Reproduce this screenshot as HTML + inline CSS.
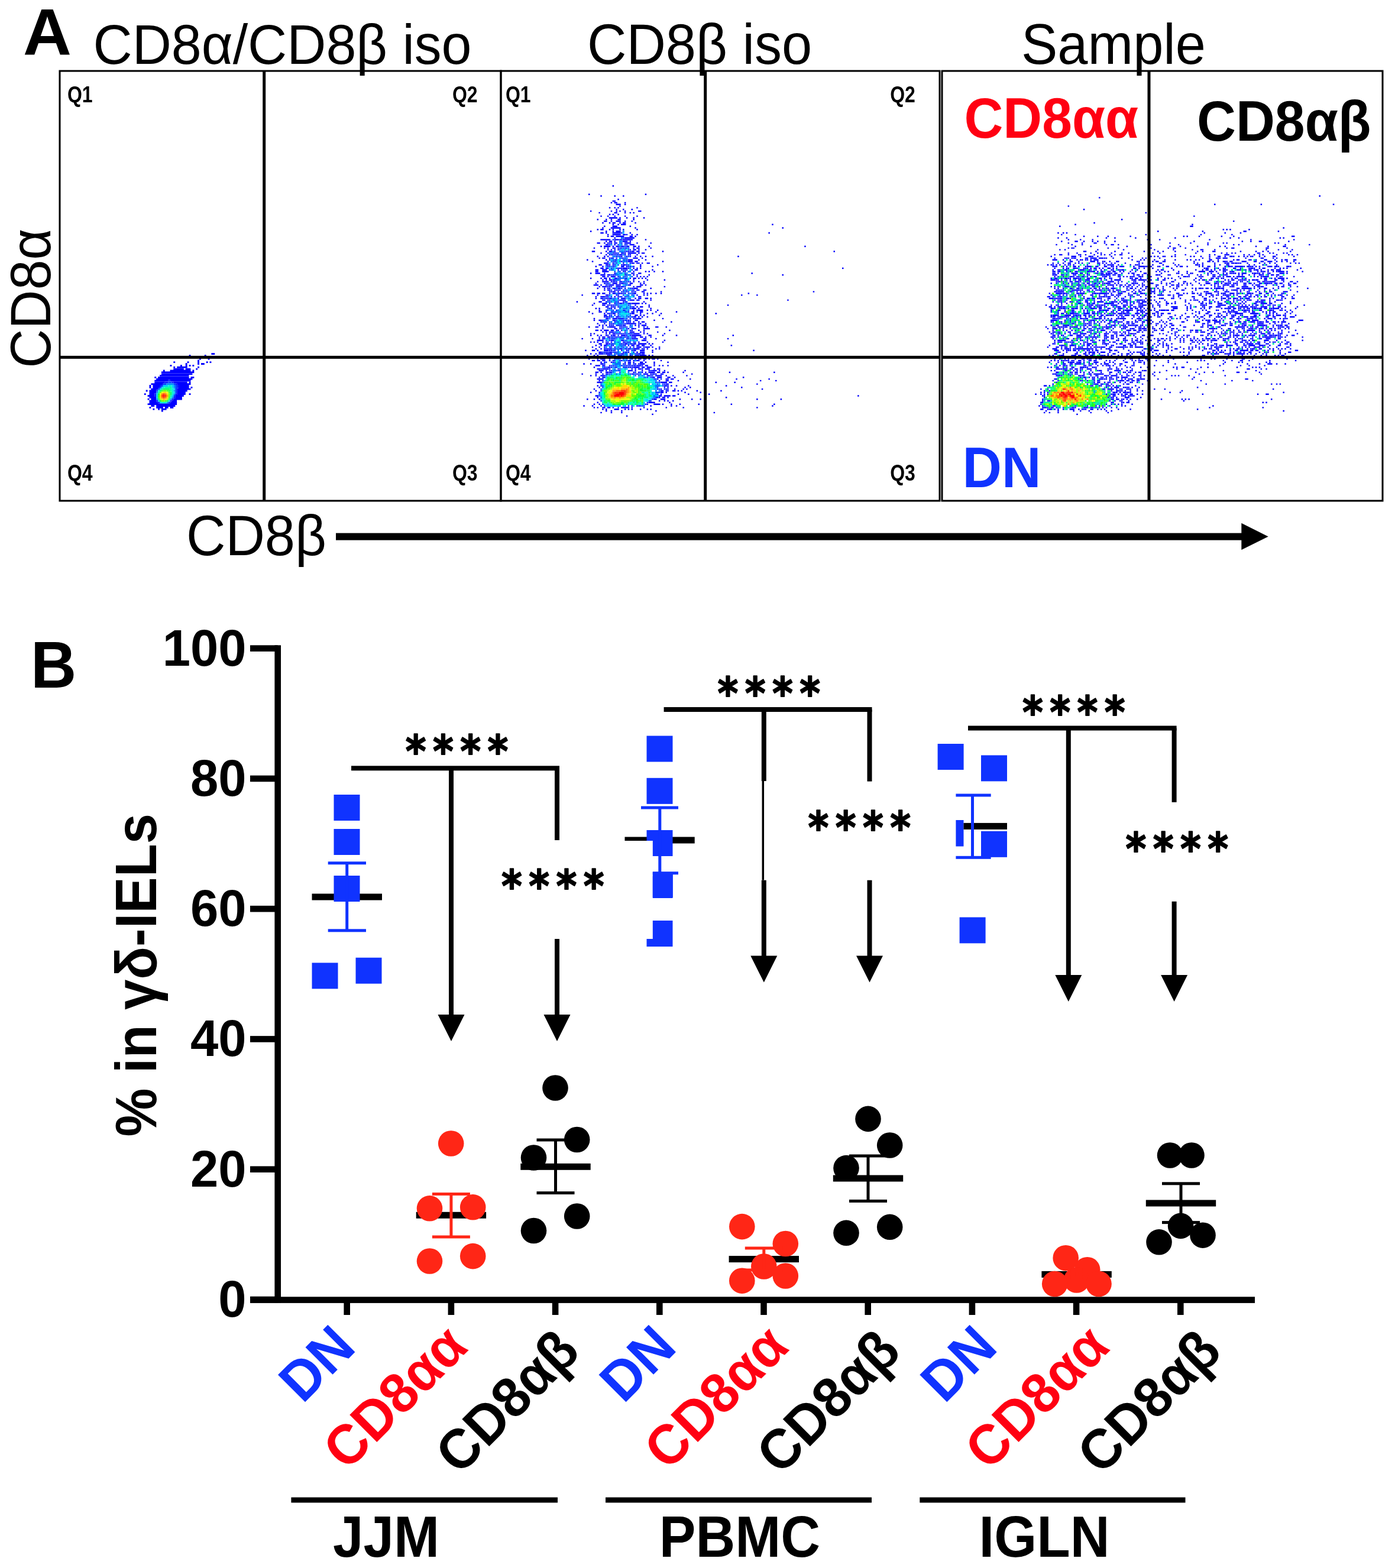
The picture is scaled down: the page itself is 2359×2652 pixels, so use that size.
<!DOCTYPE html>
<html lang="en"><head><meta charset="utf-8"><title>Figure</title>
<style>
html,body{margin:0;padding:0;background:#fff;}
body{width:2359px;height:2652px;overflow:hidden;}
svg{display:block;font-family:"Liberation Sans", sans-serif;}
</style></head><body>
<svg width="2359" height="2652" viewBox="0 0 2359 2652">
<rect width="2359" height="2652" fill="#fff"/>
<g>
<path fill="rgb(0,0,255)" d="M357.4 597.1h5.8v2.8h-5.8zM319.6 599.9h2.9v2.8h-2.9zM345.8 599.9h2.9v2.8h-2.9zM340.0 602.8h2.9v2.8h-2.9zM337.0 605.6h2.9v2.8h-2.9zM351.6 605.6h2.9v2.8h-2.9zM334.1 608.5h2.9v2.8h-2.9zM293.3 611.3h2.9v2.8h-2.9zM316.6 611.3h2.9v2.8h-2.9zM334.1 611.3h2.9v2.8h-2.9zM348.7 611.3h2.9v2.8h-2.9zM354.5 611.3h2.9v2.8h-2.9zM313.7 614.1h2.9v2.8h-2.9zM334.1 614.1h2.9v2.8h-2.9zM340.0 614.1h5.8v2.8h-5.8zM287.5 617.0h2.9v2.8h-2.9zM305.0 617.0h2.9v2.8h-2.9zM313.7 617.0h2.9v2.8h-2.9zM319.6 617.0h2.9v2.8h-2.9zM325.4 617.0h2.9v2.8h-2.9zM293.3 619.8h2.9v2.8h-2.9zM299.2 619.8h17.5v2.8h-17.5zM334.1 619.8h2.9v2.8h-2.9zM293.3 622.7h17.5v2.8h-17.5zM313.7 622.7h8.7v2.8h-8.7zM331.2 622.7h2.9v2.8h-2.9zM275.8 625.5h2.9v2.8h-2.9zM287.5 625.5h35.0v2.8h-35.0zM325.4 625.5h2.9v2.8h-2.9zM272.9 628.3h55.4v2.8h-55.4zM272.9 631.2h52.5v2.8h-52.5zM270.0 634.0h49.5v2.8h-49.5zM261.3 636.9h2.9v2.8h-2.9zM267.1 636.9h52.5v2.8h-52.5zM322.5 636.9h5.8v2.8h-5.8zM264.2 639.7h61.2v2.8h-61.2zM261.3 642.5h23.3v2.8h-23.3zM287.5 642.5h35.0v2.8h-35.0zM261.3 645.4h17.5v2.8h-17.5zM293.3 645.4h23.3v2.8h-23.3zM319.6 645.4h2.9v2.8h-2.9zM255.4 648.2h20.4v2.8h-20.4zM299.2 648.2h23.3v2.8h-23.3zM252.5 651.1h2.9v2.8h-2.9zM258.4 651.1h11.7v2.8h-11.7zM302.1 651.1h17.5v2.8h-17.5zM252.5 653.9h2.9v2.8h-2.9zM258.4 653.9h11.7v2.8h-11.7zM302.1 653.9h17.5v2.8h-17.5zM322.5 653.9h2.9v2.8h-2.9zM255.4 656.7h11.7v2.8h-11.7zM299.2 656.7h23.3v2.8h-23.3zM246.7 659.6h2.9v2.8h-2.9zM252.5 659.6h11.7v2.8h-11.7zM299.2 659.6h17.5v2.8h-17.5zM252.5 662.4h11.7v2.8h-11.7zM299.2 662.4h14.6v2.8h-14.6zM243.8 665.2h2.9v2.8h-2.9zM252.5 665.2h8.7v2.8h-8.7zM299.2 665.2h14.6v2.8h-14.6zM319.6 665.2h2.9v2.8h-2.9zM249.6 668.1h11.7v2.8h-11.7zM296.2 668.1h14.6v2.8h-14.6zM252.5 670.9h11.7v2.8h-11.7zM296.2 670.9h11.7v2.8h-11.7zM249.6 673.8h2.9v2.8h-2.9zM255.4 673.8h8.7v2.8h-8.7zM293.3 673.8h14.6v2.8h-14.6zM252.5 676.6h11.7v2.8h-11.7zM290.4 676.6h8.7v2.8h-8.7zM252.5 679.4h14.6v2.8h-14.6zM287.5 679.4h11.7v2.8h-11.7zM249.6 682.3h49.5v2.8h-49.5zM255.4 685.1h5.8v2.8h-5.8zM264.2 685.1h32.1v2.8h-32.1zM252.5 688.0h2.9v2.8h-2.9zM264.2 688.0h11.7v2.8h-11.7zM278.8 688.0h5.8v2.8h-5.8zM287.5 688.0h5.8v2.8h-5.8zM258.4 690.8h2.9v2.8h-2.9zM267.1 690.8h2.9v2.8h-2.9zM272.9 690.8h8.7v2.8h-8.7zM272.9 693.6h2.9v2.8h-2.9z"/>
<path fill="rgb(0,24,255)" d="M284.6 642.5h2.9v2.8h-2.9zM278.8 645.4h5.8v2.8h-5.8zM290.4 645.4h2.9v2.8h-2.9zM296.2 648.2h2.9v2.8h-2.9zM270.0 651.1h2.9v2.8h-2.9zM299.2 651.1h2.9v2.8h-2.9zM299.2 653.9h2.9v2.8h-2.9zM261.3 665.2h2.9v2.8h-2.9zM296.2 665.2h2.9v2.8h-2.9zM261.3 668.1h2.9v2.8h-2.9zM293.3 670.9h2.9v2.8h-2.9zM290.4 673.8h2.9v2.8h-2.9zM264.2 676.6h2.9v2.8h-2.9zM287.5 676.6h2.9v2.8h-2.9zM267.1 679.4h2.9v2.8h-2.9zM284.6 679.4h2.9v2.8h-2.9z"/>
<path fill="rgb(0,64,255)" d="M284.6 645.4h5.8v2.8h-5.8zM275.8 648.2h5.8v2.8h-5.8zM293.3 648.2h2.9v2.8h-2.9zM272.9 651.1h2.9v2.8h-2.9zM296.2 651.1h2.9v2.8h-2.9zM270.0 653.9h2.9v2.8h-2.9zM296.2 653.9h2.9v2.8h-2.9zM267.1 656.7h2.9v2.8h-2.9zM296.2 656.7h2.9v2.8h-2.9zM264.2 659.6h2.9v2.8h-2.9zM296.2 659.6h2.9v2.8h-2.9zM296.2 662.4h2.9v2.8h-2.9zM293.3 668.1h2.9v2.8h-2.9z"/>
<path fill="rgb(0,142,255)" d="M281.7 648.2h11.7v2.8h-11.7zM293.3 651.1h2.9v2.8h-2.9zM293.3 653.9h2.9v2.8h-2.9zM293.3 659.6h2.9v2.8h-2.9zM264.2 662.4h2.9v2.8h-2.9zM293.3 665.2h2.9v2.8h-2.9zM290.4 670.9h2.9v2.8h-2.9zM264.2 673.8h2.9v2.8h-2.9zM287.5 673.8h2.9v2.8h-2.9zM281.7 679.4h2.9v2.8h-2.9z"/>
<path fill="rgb(0,208,247)" d="M275.8 651.1h8.7v2.8h-8.7zM290.4 651.1h2.9v2.8h-2.9zM272.9 653.9h2.9v2.8h-2.9zM290.4 653.9h2.9v2.8h-2.9zM270.0 656.7h2.9v2.8h-2.9zM293.3 656.7h2.9v2.8h-2.9zM293.3 662.4h2.9v2.8h-2.9zM264.2 665.2h2.9v2.8h-2.9zM264.2 668.1h2.9v2.8h-2.9zM290.4 668.1h2.9v2.8h-2.9zM264.2 670.9h2.9v2.8h-2.9zM267.1 676.6h2.9v2.8h-2.9zM284.6 676.6h2.9v2.8h-2.9zM270.0 679.4h2.9v2.8h-2.9z"/>
<path fill="rgb(0,241,214)" d="M284.6 651.1h5.8v2.8h-5.8zM275.8 653.9h2.9v2.8h-2.9zM290.4 656.7h2.9v2.8h-2.9zM267.1 659.6h2.9v2.8h-2.9zM290.4 659.6h2.9v2.8h-2.9zM290.4 662.4h2.9v2.8h-2.9zM290.4 665.2h2.9v2.8h-2.9zM287.5 670.9h2.9v2.8h-2.9zM272.9 679.4h8.7v2.8h-8.7z"/>
<path fill="rgb(0,255,165)" d="M278.8 653.9h11.7v2.8h-11.7zM272.9 656.7h2.9v2.8h-2.9zM287.5 656.7h2.9v2.8h-2.9zM287.5 659.6h2.9v2.8h-2.9zM267.1 662.4h2.9v2.8h-2.9zM287.5 668.1h2.9v2.8h-2.9z"/>
<path fill="rgb(0,255,101)" d="M275.8 656.7h11.7v2.8h-11.7zM270.0 659.6h2.9v2.8h-2.9zM287.5 662.4h2.9v2.8h-2.9zM287.5 665.2h2.9v2.8h-2.9zM267.1 673.8h2.9v2.8h-2.9zM284.6 673.8h2.9v2.8h-2.9zM281.7 676.6h2.9v2.8h-2.9z"/>
<path fill="rgb(16,255,52)" d="M284.6 659.6h2.9v2.8h-2.9zM267.1 665.2h2.9v2.8h-2.9zM270.0 676.6h2.9v2.8h-2.9z"/>
<path fill="rgb(64,255,28)" d="M272.9 659.6h2.9v2.8h-2.9zM281.7 659.6h2.9v2.8h-2.9zM284.6 662.4h2.9v2.8h-2.9zM267.1 668.1h2.9v2.8h-2.9zM267.1 670.9h2.9v2.8h-2.9zM284.6 670.9h2.9v2.8h-2.9zM278.8 676.6h2.9v2.8h-2.9z"/>
<path fill="rgb(111,255,5)" d="M275.8 659.6h5.8v2.8h-5.8zM270.0 662.4h2.9v2.8h-2.9zM284.6 665.2h2.9v2.8h-2.9zM284.6 668.1h2.9v2.8h-2.9zM272.9 676.6h5.8v2.8h-5.8z"/>
<path fill="rgb(173,255,0)" d="M270.0 673.8h2.9v2.8h-2.9zM281.7 673.8h2.9v2.8h-2.9z"/>
<path fill="rgb(239,255,0)" d="M272.9 662.4h2.9v2.8h-2.9zM281.7 662.4h2.9v2.8h-2.9zM270.0 665.2h2.9v2.8h-2.9z"/>
<path fill="rgb(255,218,0)" d="M275.8 662.4h5.8v2.8h-5.8zM281.7 665.2h2.9v2.8h-2.9zM270.0 668.1h2.9v2.8h-2.9zM270.0 670.9h2.9v2.8h-2.9zM281.7 670.9h2.9v2.8h-2.9zM272.9 673.8h2.9v2.8h-2.9zM278.8 673.8h2.9v2.8h-2.9z"/>
<path fill="rgb(255,170,0)" d="M281.7 668.1h2.9v2.8h-2.9zM275.8 673.8h2.9v2.8h-2.9z"/>
<path fill="rgb(255,118,0)" d="M272.9 665.2h2.9v2.8h-2.9zM278.8 665.2h2.9v2.8h-2.9zM272.9 670.9h2.9v2.8h-2.9zM278.8 670.9h2.9v2.8h-2.9z"/>
<path fill="rgb(255,59,0)" d="M275.8 665.2h2.9v2.8h-2.9zM272.9 668.1h2.9v2.8h-2.9zM278.8 668.1h2.9v2.8h-2.9zM275.8 670.9h2.9v2.8h-2.9z"/>
<path fill="rgb(255,0,0)" d="M275.8 668.1h2.9v2.8h-2.9z"/>
<path fill="rgb(0,0,255)" d="M1035.6 313.3h2.5v2.4h-2.5zM995.0 327.5h2.5v2.4h-2.5zM1090.7 327.5h2.5v2.4h-2.5zM1015.3 330.3h2.5v2.4h-2.5zM1038.5 330.3h2.5v2.4h-2.5zM1053.0 330.3h2.5v2.4h-2.5zM1044.3 336.0h2.5v2.4h-2.5zM1035.6 338.9h5.4v2.4h-5.4zM1032.7 341.7h2.5v2.4h-2.5zM1038.5 341.7h5.4v2.4h-5.4zM1055.9 341.7h2.5v2.4h-2.5zM1041.4 344.5h8.3v2.4h-8.3zM1055.9 344.5h2.5v2.4h-2.5zM1047.2 347.4h2.5v2.4h-2.5zM1029.8 350.2h2.5v2.4h-2.5zM1038.5 350.2h2.5v2.4h-2.5zM1044.3 350.2h2.5v2.4h-2.5zM1076.2 350.2h2.5v2.4h-2.5zM1041.4 353.1h2.5v2.4h-2.5zM1053.0 353.1h2.5v2.4h-2.5zM1067.5 353.1h2.5v2.4h-2.5zM997.9 355.9h2.5v2.4h-2.5zM1032.7 355.9h2.5v2.4h-2.5zM1041.4 355.9h2.5v2.4h-2.5zM1047.2 355.9h2.5v2.4h-2.5zM1055.9 355.9h2.5v2.4h-2.5zM1079.1 355.9h5.4v2.4h-5.4zM1012.4 358.7h2.5v2.4h-2.5zM1038.5 358.7h5.4v2.4h-5.4zM1055.9 358.7h2.5v2.4h-2.5zM1064.6 358.7h2.5v2.4h-2.5zM1070.4 358.7h2.5v2.4h-2.5zM1029.8 361.6h2.5v2.4h-2.5zM1035.6 361.6h2.5v2.4h-2.5zM1044.3 361.6h2.5v2.4h-2.5zM1015.3 364.4h2.5v2.4h-2.5zM1026.9 364.4h2.5v2.4h-2.5zM1038.5 364.4h2.5v2.4h-2.5zM1055.9 364.4h2.5v2.4h-2.5zM1076.2 364.4h2.5v2.4h-2.5zM1029.8 367.3h14.1v2.4h-14.1zM1047.2 367.3h2.5v2.4h-2.5zM1058.8 367.3h2.5v2.4h-2.5zM1070.4 367.3h2.5v2.4h-2.5zM1087.8 367.3h2.5v2.4h-2.5zM1009.5 370.1h2.5v2.4h-2.5zM1024.0 370.1h2.5v2.4h-2.5zM1032.7 370.1h2.5v2.4h-2.5zM1044.3 370.1h5.4v2.4h-5.4zM1070.4 370.1h2.5v2.4h-2.5zM1021.1 372.9h5.4v2.4h-5.4zM1032.7 372.9h2.5v2.4h-2.5zM1041.4 372.9h8.3v2.4h-8.3zM1055.9 372.9h2.5v2.4h-2.5zM1067.5 372.9h2.5v2.4h-2.5zM1018.2 375.8h2.5v2.4h-2.5zM1029.8 375.8h2.5v2.4h-2.5zM1035.6 375.8h5.4v2.4h-5.4zM1047.2 375.8h2.5v2.4h-2.5zM1053.0 375.8h5.4v2.4h-5.4zM1073.3 375.8h2.5v2.4h-2.5zM1035.6 378.6h2.5v2.4h-2.5zM1044.3 378.6h2.5v2.4h-2.5zM1050.1 378.6h8.3v2.4h-8.3zM1305.2 378.6h2.5v2.4h-2.5zM1021.1 381.5h2.5v2.4h-2.5zM1035.6 381.5h8.3v2.4h-8.3zM1064.6 381.5h2.5v2.4h-2.5zM1018.2 384.3h2.5v2.4h-2.5zM1032.7 384.3h17.0v2.4h-17.0zM1073.3 384.3h2.5v2.4h-2.5zM1322.5 384.3h2.5v2.4h-2.5zM1009.5 387.1h2.5v2.4h-2.5zM1015.3 387.1h5.4v2.4h-5.4zM1029.8 387.1h2.5v2.4h-2.5zM1035.6 387.1h2.5v2.4h-2.5zM1047.2 387.1h2.5v2.4h-2.5zM1053.0 387.1h2.5v2.4h-2.5zM1076.2 387.1h2.5v2.4h-2.5zM997.9 390.0h2.5v2.4h-2.5zM1024.0 390.0h2.5v2.4h-2.5zM1035.6 390.0h2.5v2.4h-2.5zM1041.4 390.0h8.3v2.4h-8.3zM1015.3 392.8h5.4v2.4h-5.4zM1024.0 392.8h2.5v2.4h-2.5zM1035.6 392.8h14.1v2.4h-14.1zM1064.6 392.8h2.5v2.4h-2.5zM1299.4 392.8h2.5v2.4h-2.5zM1026.9 395.7h2.5v2.4h-2.5zM1035.6 395.7h14.1v2.4h-14.1zM1053.0 395.7h5.4v2.4h-5.4zM1067.5 395.7h2.5v2.4h-2.5zM1076.2 395.7h2.5v2.4h-2.5zM1026.9 398.5h2.5v2.4h-2.5zM1032.7 398.5h5.4v2.4h-5.4zM1041.4 398.5h14.1v2.4h-14.1zM1064.6 398.5h5.4v2.4h-5.4zM1073.3 398.5h2.5v2.4h-2.5zM1055.9 401.3h17.0v2.4h-17.0zM1015.3 404.2h17.0v2.4h-17.0zM1038.5 404.2h8.3v2.4h-8.3zM1053.0 404.2h17.0v2.4h-17.0zM1090.7 404.2h2.5v2.4h-2.5zM1024.0 407.0h2.5v2.4h-2.5zM1029.8 407.0h5.4v2.4h-5.4zM1038.5 407.0h2.5v2.4h-2.5zM1053.0 407.0h8.3v2.4h-8.3zM1064.6 407.0h2.5v2.4h-2.5zM1009.5 409.9h5.4v2.4h-5.4zM1021.1 409.9h2.5v2.4h-2.5zM1026.9 409.9h2.5v2.4h-2.5zM1032.7 409.9h2.5v2.4h-2.5zM1038.5 409.9h5.4v2.4h-5.4zM1055.9 409.9h11.2v2.4h-11.2zM1076.2 409.9h2.5v2.4h-2.5zM1099.4 409.9h2.5v2.4h-2.5zM1024.0 412.7h5.4v2.4h-5.4zM1038.5 412.7h2.5v2.4h-2.5zM1064.6 412.7h8.3v2.4h-8.3zM1015.3 415.5h2.5v2.4h-2.5zM1021.1 415.5h11.2v2.4h-11.2zM1035.6 415.5h2.5v2.4h-2.5zM1041.4 415.5h5.4v2.4h-5.4zM1070.4 415.5h5.4v2.4h-5.4zM1079.1 415.5h2.5v2.4h-2.5zM1096.5 415.5h2.5v2.4h-2.5zM1360.2 415.5h2.5v2.4h-2.5zM1003.7 418.4h2.5v2.4h-2.5zM1021.1 418.4h2.5v2.4h-2.5zM1026.9 418.4h2.5v2.4h-2.5zM1035.6 418.4h5.4v2.4h-5.4zM1070.4 418.4h2.5v2.4h-2.5zM1076.2 418.4h5.4v2.4h-5.4zM1099.4 418.4h2.5v2.4h-2.5zM1026.9 421.2h2.5v2.4h-2.5zM1032.7 421.2h2.5v2.4h-2.5zM1038.5 421.2h2.5v2.4h-2.5zM1044.3 421.2h2.5v2.4h-2.5zM1070.4 421.2h5.4v2.4h-5.4zM1079.1 421.2h2.5v2.4h-2.5zM1090.7 421.2h2.5v2.4h-2.5zM1000.8 424.1h5.4v2.4h-5.4zM1024.0 424.1h2.5v2.4h-2.5zM1029.8 424.1h5.4v2.4h-5.4zM1038.5 424.1h2.5v2.4h-2.5zM1061.7 424.1h2.5v2.4h-2.5zM1067.5 424.1h5.4v2.4h-5.4zM1076.2 424.1h5.4v2.4h-5.4zM1119.7 424.1h2.5v2.4h-2.5zM1409.5 424.1h2.5v2.4h-2.5zM1015.3 426.9h2.5v2.4h-2.5zM1026.9 426.9h2.5v2.4h-2.5zM1038.5 426.9h2.5v2.4h-2.5zM1055.9 426.9h2.5v2.4h-2.5zM1061.7 426.9h14.1v2.4h-14.1zM1079.1 426.9h2.5v2.4h-2.5zM1084.9 426.9h5.4v2.4h-5.4zM1024.0 429.7h2.5v2.4h-2.5zM1029.8 429.7h2.5v2.4h-2.5zM1047.2 429.7h5.4v2.4h-5.4zM1055.9 429.7h2.5v2.4h-2.5zM1064.6 429.7h2.5v2.4h-2.5zM1076.2 429.7h2.5v2.4h-2.5zM1009.5 432.6h2.5v2.4h-2.5zM1021.1 432.6h2.5v2.4h-2.5zM1050.1 432.6h2.5v2.4h-2.5zM1073.3 432.6h2.5v2.4h-2.5zM1082.0 432.6h2.5v2.4h-2.5zM1090.7 432.6h2.5v2.4h-2.5zM1102.3 432.6h2.5v2.4h-2.5zM1247.2 432.6h2.5v2.4h-2.5zM1012.4 435.4h2.5v2.4h-2.5zM1018.2 435.4h5.4v2.4h-5.4zM1029.8 435.4h2.5v2.4h-2.5zM1070.4 435.4h8.3v2.4h-8.3zM1084.9 435.4h2.5v2.4h-2.5zM992.1 438.3h2.5v2.4h-2.5zM1024.0 438.3h2.5v2.4h-2.5zM1029.8 438.3h2.5v2.4h-2.5zM1061.7 438.3h8.3v2.4h-8.3zM1079.1 438.3h2.5v2.4h-2.5zM1090.7 438.3h2.5v2.4h-2.5zM1000.8 441.1h2.5v2.4h-2.5zM1026.9 441.1h2.5v2.4h-2.5zM1061.7 441.1h8.3v2.4h-8.3zM1073.3 441.1h5.4v2.4h-5.4zM1119.7 441.1h2.5v2.4h-2.5zM1021.1 443.9h8.3v2.4h-8.3zM1035.6 443.9h2.5v2.4h-2.5zM1067.5 443.9h5.4v2.4h-5.4zM1076.2 443.9h2.5v2.4h-2.5zM1084.9 443.9h2.5v2.4h-2.5zM1093.6 443.9h5.4v2.4h-5.4zM1012.4 446.8h5.4v2.4h-5.4zM1024.0 446.8h5.4v2.4h-5.4zM1035.6 446.8h2.5v2.4h-2.5zM1053.0 446.8h5.4v2.4h-5.4zM1082.0 446.8h2.5v2.4h-2.5zM1111.0 446.8h2.5v2.4h-2.5zM1006.6 449.6h2.5v2.4h-2.5zM1018.2 449.6h2.5v2.4h-2.5zM1050.1 449.6h5.4v2.4h-5.4zM1058.8 449.6h2.5v2.4h-2.5zM1070.4 449.6h2.5v2.4h-2.5zM1082.0 449.6h2.5v2.4h-2.5zM1102.3 449.6h2.5v2.4h-2.5zM1015.3 452.5h5.4v2.4h-5.4zM1047.2 452.5h2.5v2.4h-2.5zM1053.0 452.5h8.3v2.4h-8.3zM1070.4 452.5h2.5v2.4h-2.5zM1076.2 452.5h2.5v2.4h-2.5zM1082.0 452.5h2.5v2.4h-2.5zM1424.0 452.5h2.5v2.4h-2.5zM1006.6 455.3h5.4v2.4h-5.4zM1018.2 455.3h8.3v2.4h-8.3zM1044.3 455.3h2.5v2.4h-2.5zM1055.9 455.3h2.5v2.4h-2.5zM1073.3 455.3h5.4v2.4h-5.4zM1102.3 455.3h2.5v2.4h-2.5zM1006.6 458.1h5.4v2.4h-5.4zM1018.2 458.1h11.2v2.4h-11.2zM1055.9 458.1h2.5v2.4h-2.5zM1090.7 458.1h2.5v2.4h-2.5zM1096.5 458.1h2.5v2.4h-2.5zM1105.2 458.1h2.5v2.4h-2.5zM1119.7 458.1h2.5v2.4h-2.5zM997.9 461.0h2.5v2.4h-2.5zM1006.6 461.0h8.3v2.4h-8.3zM1038.5 461.0h2.5v2.4h-2.5zM1067.5 461.0h2.5v2.4h-2.5zM1079.1 461.0h5.4v2.4h-5.4zM1270.4 461.0h2.5v2.4h-2.5zM1015.3 463.8h8.3v2.4h-8.3zM1026.9 463.8h5.4v2.4h-5.4zM1035.6 463.8h2.5v2.4h-2.5zM1070.4 463.8h2.5v2.4h-2.5zM1076.2 463.8h2.5v2.4h-2.5zM1096.5 463.8h2.5v2.4h-2.5zM1322.5 463.8h2.5v2.4h-2.5zM1018.2 466.7h5.4v2.4h-5.4zM1026.9 466.7h2.5v2.4h-2.5zM1032.7 466.7h8.3v2.4h-8.3zM1076.2 466.7h2.5v2.4h-2.5zM1082.0 466.7h2.5v2.4h-2.5zM1087.8 466.7h2.5v2.4h-2.5zM1093.6 466.7h2.5v2.4h-2.5zM997.9 469.5h2.5v2.4h-2.5zM1015.3 469.5h2.5v2.4h-2.5zM1021.1 469.5h5.4v2.4h-5.4zM1029.8 469.5h2.5v2.4h-2.5zM1070.4 469.5h5.4v2.4h-5.4zM1079.1 469.5h2.5v2.4h-2.5zM1084.9 469.5h2.5v2.4h-2.5zM1090.7 469.5h2.5v2.4h-2.5zM1018.2 472.3h2.5v2.4h-2.5zM1024.0 472.3h2.5v2.4h-2.5zM1029.8 472.3h5.4v2.4h-5.4zM1070.4 472.3h2.5v2.4h-2.5zM1093.6 472.3h2.5v2.4h-2.5zM1122.6 472.3h2.5v2.4h-2.5zM1009.5 475.2h2.5v2.4h-2.5zM1018.2 475.2h11.2v2.4h-11.2zM1032.7 475.2h2.5v2.4h-2.5zM1041.4 475.2h2.5v2.4h-2.5zM1047.2 475.2h5.4v2.4h-5.4zM1070.4 475.2h2.5v2.4h-2.5zM1079.1 475.2h2.5v2.4h-2.5zM1087.8 475.2h2.5v2.4h-2.5zM1006.6 478.0h2.5v2.4h-2.5zM1021.1 478.0h2.5v2.4h-2.5zM1026.9 478.0h2.5v2.4h-2.5zM1035.6 478.0h8.3v2.4h-8.3zM1047.2 478.0h2.5v2.4h-2.5zM1064.6 478.0h5.4v2.4h-5.4zM1082.0 478.0h2.5v2.4h-2.5zM1087.8 478.0h2.5v2.4h-2.5zM1003.7 480.9h8.3v2.4h-8.3zM1015.3 480.9h2.5v2.4h-2.5zM1024.0 480.9h2.5v2.4h-2.5zM1029.8 480.9h8.3v2.4h-8.3zM1041.4 480.9h8.3v2.4h-8.3zM1061.7 480.9h5.4v2.4h-5.4zM1082.0 480.9h5.4v2.4h-5.4zM1090.7 480.9h2.5v2.4h-2.5zM1012.4 483.7h2.5v2.4h-2.5zM1018.2 483.7h8.3v2.4h-8.3zM1029.8 483.7h2.5v2.4h-2.5zM1050.1 483.7h5.4v2.4h-5.4zM1076.2 483.7h8.3v2.4h-8.3zM1122.6 483.7h2.5v2.4h-2.5zM1009.5 486.5h2.5v2.4h-2.5zM1021.1 486.5h2.5v2.4h-2.5zM1026.9 486.5h2.5v2.4h-2.5zM1044.3 486.5h5.4v2.4h-5.4zM1070.4 486.5h8.3v2.4h-8.3zM1099.4 486.5h2.5v2.4h-2.5zM1021.1 489.4h2.5v2.4h-2.5zM1026.9 489.4h5.4v2.4h-5.4zM1041.4 489.4h2.5v2.4h-2.5zM1047.2 489.4h2.5v2.4h-2.5zM1070.4 489.4h2.5v2.4h-2.5zM1076.2 489.4h5.4v2.4h-5.4zM1087.8 489.4h5.4v2.4h-5.4zM1029.8 492.2h2.5v2.4h-2.5zM1035.6 492.2h5.4v2.4h-5.4zM1044.3 492.2h2.5v2.4h-2.5zM1073.3 492.2h2.5v2.4h-2.5zM1084.9 492.2h5.4v2.4h-5.4zM1116.8 492.2h2.5v2.4h-2.5zM1374.7 492.2h2.5v2.4h-2.5zM1000.8 495.1h5.4v2.4h-5.4zM1009.5 495.1h5.4v2.4h-5.4zM1018.2 495.1h5.4v2.4h-5.4zM1035.6 495.1h5.4v2.4h-5.4zM1050.1 495.1h2.5v2.4h-2.5zM1070.4 495.1h5.4v2.4h-5.4zM1087.8 495.1h2.5v2.4h-2.5zM1093.6 495.1h2.5v2.4h-2.5zM1099.4 495.1h2.5v2.4h-2.5zM1108.1 495.1h2.5v2.4h-2.5zM1116.8 495.1h2.5v2.4h-2.5zM1264.6 495.1h2.5v2.4h-2.5zM983.4 497.9h2.5v2.4h-2.5zM1009.5 497.9h2.5v2.4h-2.5zM1024.0 497.9h5.4v2.4h-5.4zM1044.3 497.9h2.5v2.4h-2.5zM1076.2 497.9h2.5v2.4h-2.5zM1093.6 497.9h2.5v2.4h-2.5zM1253.0 497.9h2.5v2.4h-2.5zM1279.1 497.9h2.5v2.4h-2.5zM1006.6 500.7h2.5v2.4h-2.5zM1015.3 500.7h8.3v2.4h-8.3zM1026.9 500.7h2.5v2.4h-2.5zM1038.5 500.7h2.5v2.4h-2.5zM1044.3 500.7h2.5v2.4h-2.5zM1079.1 500.7h5.4v2.4h-5.4zM1006.6 503.6h2.5v2.4h-2.5zM1026.9 503.6h2.5v2.4h-2.5zM1044.3 503.6h2.5v2.4h-2.5zM1073.3 503.6h2.5v2.4h-2.5zM1079.1 503.6h5.4v2.4h-5.4zM1090.7 503.6h5.4v2.4h-5.4zM1099.4 503.6h2.5v2.4h-2.5zM1018.2 506.4h5.4v2.4h-5.4zM1026.9 506.4h2.5v2.4h-2.5zM1047.2 506.4h11.2v2.4h-11.2zM1064.6 506.4h8.3v2.4h-8.3zM1076.2 506.4h5.4v2.4h-5.4zM1099.4 506.4h2.5v2.4h-2.5zM1331.2 506.4h2.5v2.4h-2.5zM974.7 509.3h2.5v2.4h-2.5zM1012.4 509.3h5.4v2.4h-5.4zM1024.0 509.3h2.5v2.4h-2.5zM1053.0 509.3h2.5v2.4h-2.5zM1087.8 509.3h2.5v2.4h-2.5zM1003.7 512.1h2.5v2.4h-2.5zM1018.2 512.1h8.3v2.4h-8.3zM1029.8 512.1h2.5v2.4h-2.5zM1067.5 512.1h14.1v2.4h-14.1zM1084.9 512.1h2.5v2.4h-2.5zM1090.7 512.1h2.5v2.4h-2.5zM1000.8 514.9h2.5v2.4h-2.5zM1018.2 514.9h5.4v2.4h-5.4zM1026.9 514.9h2.5v2.4h-2.5zM1032.7 514.9h2.5v2.4h-2.5zM1073.3 514.9h2.5v2.4h-2.5zM1096.5 514.9h2.5v2.4h-2.5zM1229.8 514.9h2.5v2.4h-2.5zM1024.0 517.8h5.4v2.4h-5.4zM1035.6 517.8h2.5v2.4h-2.5zM1070.4 517.8h2.5v2.4h-2.5zM1076.2 517.8h2.5v2.4h-2.5zM1082.0 517.8h5.4v2.4h-5.4zM1096.5 517.8h2.5v2.4h-2.5zM1006.6 520.6h2.5v2.4h-2.5zM1012.4 520.6h2.5v2.4h-2.5zM1032.7 520.6h2.5v2.4h-2.5zM1067.5 520.6h8.3v2.4h-8.3zM1079.1 520.6h2.5v2.4h-2.5zM1099.4 520.6h2.5v2.4h-2.5zM1012.4 523.5h2.5v2.4h-2.5zM1070.4 523.5h2.5v2.4h-2.5zM1076.2 523.5h11.2v2.4h-11.2zM1093.6 523.5h2.5v2.4h-2.5zM1099.4 523.5h2.5v2.4h-2.5zM1111.0 523.5h2.5v2.4h-2.5zM995.0 526.3h2.5v2.4h-2.5zM1012.4 526.3h5.4v2.4h-5.4zM1067.5 526.3h5.4v2.4h-5.4zM1082.0 526.3h5.4v2.4h-5.4zM1108.1 526.3h2.5v2.4h-2.5zM1142.8 526.3h2.5v2.4h-2.5zM1000.8 529.1h2.5v2.4h-2.5zM1021.1 529.1h2.5v2.4h-2.5zM1026.9 529.1h2.5v2.4h-2.5zM1035.6 529.1h5.4v2.4h-5.4zM1067.5 529.1h5.4v2.4h-5.4zM1082.0 529.1h2.5v2.4h-2.5zM1093.6 529.1h2.5v2.4h-2.5zM1102.3 529.1h2.5v2.4h-2.5zM1116.8 529.1h2.5v2.4h-2.5zM1209.5 529.1h2.5v2.4h-2.5zM1021.1 532.0h5.4v2.4h-5.4zM1073.3 532.0h5.4v2.4h-5.4zM1082.0 532.0h2.5v2.4h-2.5zM1087.8 532.0h2.5v2.4h-2.5zM1113.9 532.0h2.5v2.4h-2.5zM1021.1 534.8h2.5v2.4h-2.5zM1029.8 534.8h2.5v2.4h-2.5zM1041.4 534.8h5.4v2.4h-5.4zM1070.4 534.8h5.4v2.4h-5.4zM1079.1 534.8h2.5v2.4h-2.5zM1084.9 534.8h2.5v2.4h-2.5zM1093.6 534.8h2.5v2.4h-2.5zM1003.7 537.7h2.5v2.4h-2.5zM1024.0 537.7h5.4v2.4h-5.4zM1035.6 537.7h8.3v2.4h-8.3zM1070.4 537.7h2.5v2.4h-2.5zM1076.2 537.7h8.3v2.4h-8.3zM1119.7 537.7h2.5v2.4h-2.5zM1003.7 540.5h2.5v2.4h-2.5zM1012.4 540.5h5.4v2.4h-5.4zM1061.7 540.5h2.5v2.4h-2.5zM1073.3 540.5h5.4v2.4h-5.4zM1105.2 540.5h2.5v2.4h-2.5zM1015.3 543.3h2.5v2.4h-2.5zM1061.7 543.3h2.5v2.4h-2.5zM1070.4 543.3h2.5v2.4h-2.5zM1079.1 543.3h2.5v2.4h-2.5zM1084.9 543.3h5.4v2.4h-5.4zM1134.1 543.3h2.5v2.4h-2.5zM1009.5 546.2h2.5v2.4h-2.5zM1021.1 546.2h2.5v2.4h-2.5zM1029.8 546.2h2.5v2.4h-2.5zM1035.6 546.2h2.5v2.4h-2.5zM1058.8 546.2h17.0v2.4h-17.0zM1082.0 546.2h2.5v2.4h-2.5zM1090.7 546.2h2.5v2.4h-2.5zM1012.4 549.0h2.5v2.4h-2.5zM1018.2 549.0h2.5v2.4h-2.5zM1024.0 549.0h2.5v2.4h-2.5zM1029.8 549.0h2.5v2.4h-2.5zM1035.6 549.0h2.5v2.4h-2.5zM1073.3 549.0h2.5v2.4h-2.5zM1079.1 549.0h2.5v2.4h-2.5zM1084.9 549.0h8.3v2.4h-8.3zM995.0 551.9h2.5v2.4h-2.5zM1006.6 551.9h5.4v2.4h-5.4zM1018.2 551.9h2.5v2.4h-2.5zM1029.8 551.9h11.2v2.4h-11.2zM1047.2 551.9h2.5v2.4h-2.5zM1079.1 551.9h2.5v2.4h-2.5zM1087.8 551.9h2.5v2.4h-2.5zM1093.6 551.9h2.5v2.4h-2.5zM1108.1 551.9h5.4v2.4h-5.4zM1125.5 551.9h2.5v2.4h-2.5zM1018.2 554.7h2.5v2.4h-2.5zM1038.5 554.7h5.4v2.4h-5.4zM1061.7 554.7h2.5v2.4h-2.5zM1067.5 554.7h5.4v2.4h-5.4zM1087.8 554.7h11.2v2.4h-11.2zM1006.6 557.5h5.4v2.4h-5.4zM1015.3 557.5h2.5v2.4h-2.5zM1021.1 557.5h8.3v2.4h-8.3zM1032.7 557.5h5.4v2.4h-5.4zM1044.3 557.5h2.5v2.4h-2.5zM1067.5 557.5h2.5v2.4h-2.5zM1079.1 557.5h2.5v2.4h-2.5zM1087.8 557.5h2.5v2.4h-2.5zM1131.2 557.5h2.5v2.4h-2.5zM1018.2 560.4h2.5v2.4h-2.5zM1024.0 560.4h2.5v2.4h-2.5zM1029.8 560.4h8.3v2.4h-8.3zM1064.6 560.4h8.3v2.4h-8.3zM1082.0 560.4h2.5v2.4h-2.5zM1087.8 560.4h2.5v2.4h-2.5zM1111.0 560.4h2.5v2.4h-2.5zM997.9 563.2h2.5v2.4h-2.5zM1003.7 563.2h2.5v2.4h-2.5zM1024.0 563.2h2.5v2.4h-2.5zM1029.8 563.2h2.5v2.4h-2.5zM1035.6 563.2h5.4v2.4h-5.4zM1047.2 563.2h2.5v2.4h-2.5zM1070.4 563.2h11.2v2.4h-11.2zM1087.8 563.2h2.5v2.4h-2.5zM1093.6 563.2h2.5v2.4h-2.5zM1122.6 563.2h2.5v2.4h-2.5zM997.9 566.1h2.5v2.4h-2.5zM1009.5 566.1h2.5v2.4h-2.5zM1015.3 566.1h2.5v2.4h-2.5zM1024.0 566.1h2.5v2.4h-2.5zM1035.6 566.1h5.4v2.4h-5.4zM1050.1 566.1h8.3v2.4h-8.3zM1067.5 566.1h17.0v2.4h-17.0zM1096.5 566.1h5.4v2.4h-5.4zM1119.7 566.1h2.5v2.4h-2.5zM1142.8 566.1h2.5v2.4h-2.5zM1238.5 566.1h2.5v2.4h-2.5zM1012.4 568.9h2.5v2.4h-2.5zM1018.2 568.9h5.4v2.4h-5.4zM1026.9 568.9h5.4v2.4h-5.4zM1038.5 568.9h2.5v2.4h-2.5zM1070.4 568.9h5.4v2.4h-5.4zM1082.0 568.9h5.4v2.4h-5.4zM1090.7 568.9h2.5v2.4h-2.5zM1099.4 568.9h2.5v2.4h-2.5zM983.4 571.7h2.5v2.4h-2.5zM1000.8 571.7h2.5v2.4h-2.5zM1012.4 571.7h2.5v2.4h-2.5zM1018.2 571.7h5.4v2.4h-5.4zM1087.8 571.7h5.4v2.4h-5.4zM1108.1 571.7h2.5v2.4h-2.5zM1229.8 571.7h2.5v2.4h-2.5zM1009.5 574.6h11.2v2.4h-11.2zM1032.7 574.6h5.4v2.4h-5.4zM1084.9 574.6h8.3v2.4h-8.3zM1122.6 574.6h2.5v2.4h-2.5zM997.9 577.4h2.5v2.4h-2.5zM1003.7 577.4h2.5v2.4h-2.5zM1009.5 577.4h2.5v2.4h-2.5zM1018.2 577.4h2.5v2.4h-2.5zM1026.9 577.4h2.5v2.4h-2.5zM1032.7 577.4h2.5v2.4h-2.5zM1079.1 577.4h2.5v2.4h-2.5zM1093.6 577.4h2.5v2.4h-2.5zM1119.7 577.4h2.5v2.4h-2.5zM1012.4 580.3h5.4v2.4h-5.4zM1024.0 580.3h5.4v2.4h-5.4zM1055.9 580.3h5.4v2.4h-5.4zM1070.4 580.3h5.4v2.4h-5.4zM1079.1 580.3h14.1v2.4h-14.1zM1096.5 580.3h2.5v2.4h-2.5zM1102.3 580.3h2.5v2.4h-2.5zM1006.6 583.1h2.5v2.4h-2.5zM1015.3 583.1h2.5v2.4h-2.5zM1021.1 583.1h5.4v2.4h-5.4zM1035.6 583.1h2.5v2.4h-2.5zM1067.5 583.1h5.4v2.4h-5.4zM1076.2 583.1h5.4v2.4h-5.4zM1084.9 583.1h5.4v2.4h-5.4zM1099.4 583.1h2.5v2.4h-2.5zM1235.6 583.1h2.5v2.4h-2.5zM1000.8 585.9h2.5v2.4h-2.5zM1012.4 585.9h2.5v2.4h-2.5zM1021.1 585.9h2.5v2.4h-2.5zM1064.6 585.9h2.5v2.4h-2.5zM1076.2 585.9h8.3v2.4h-8.3zM1090.7 585.9h8.3v2.4h-8.3zM1102.3 585.9h2.5v2.4h-2.5zM1113.9 585.9h2.5v2.4h-2.5zM1006.6 588.8h2.5v2.4h-2.5zM1015.3 588.8h2.5v2.4h-2.5zM1021.1 588.8h2.5v2.4h-2.5zM1026.9 588.8h2.5v2.4h-2.5zM1070.4 588.8h11.2v2.4h-11.2zM1087.8 588.8h2.5v2.4h-2.5zM1093.6 588.8h2.5v2.4h-2.5zM1108.1 588.8h2.5v2.4h-2.5zM1113.9 588.8h2.5v2.4h-2.5zM989.2 591.6h2.5v2.4h-2.5zM1000.8 591.6h5.4v2.4h-5.4zM1009.5 591.6h2.5v2.4h-2.5zM1021.1 591.6h8.3v2.4h-8.3zM1032.7 591.6h2.5v2.4h-2.5zM1082.0 591.6h8.3v2.4h-8.3zM1102.3 591.6h2.5v2.4h-2.5zM1273.3 591.6h2.5v2.4h-2.5zM1012.4 594.5h5.4v2.4h-5.4zM1024.0 594.5h2.5v2.4h-2.5zM1029.8 594.5h5.4v2.4h-5.4zM1061.7 594.5h2.5v2.4h-2.5zM1076.2 594.5h2.5v2.4h-2.5zM1082.0 594.5h8.3v2.4h-8.3zM1102.3 594.5h2.5v2.4h-2.5zM997.9 597.3h2.5v2.4h-2.5zM1006.6 597.3h2.5v2.4h-2.5zM1012.4 597.3h8.3v2.4h-8.3zM1024.0 597.3h11.2v2.4h-11.2zM1076.2 597.3h2.5v2.4h-2.5zM1084.9 597.3h5.4v2.4h-5.4zM992.1 600.1h2.5v2.4h-2.5zM1003.7 600.1h2.5v2.4h-2.5zM1009.5 600.1h2.5v2.4h-2.5zM1026.9 600.1h2.5v2.4h-2.5zM1082.0 600.1h11.2v2.4h-11.2zM1096.5 600.1h2.5v2.4h-2.5zM1102.3 600.1h2.5v2.4h-2.5zM1012.4 603.0h11.2v2.4h-11.2zM1044.3 603.0h2.5v2.4h-2.5zM1070.4 603.0h2.5v2.4h-2.5zM1082.0 603.0h2.5v2.4h-2.5zM1087.8 603.0h2.5v2.4h-2.5zM1113.9 603.0h2.5v2.4h-2.5zM995.0 605.8h2.5v2.4h-2.5zM1009.5 605.8h2.5v2.4h-2.5zM1015.3 605.8h8.3v2.4h-8.3zM1029.8 605.8h2.5v2.4h-2.5zM1067.5 605.8h2.5v2.4h-2.5zM1073.3 605.8h2.5v2.4h-2.5zM1079.1 605.8h5.4v2.4h-5.4zM1087.8 605.8h5.4v2.4h-5.4zM1096.5 605.8h2.5v2.4h-2.5zM1102.3 605.8h5.4v2.4h-5.4zM1111.0 605.8h2.5v2.4h-2.5zM1000.8 608.7h5.4v2.4h-5.4zM1009.5 608.7h5.4v2.4h-5.4zM1018.2 608.7h5.4v2.4h-5.4zM1050.1 608.7h2.5v2.4h-2.5zM1061.7 608.7h5.4v2.4h-5.4zM1070.4 608.7h2.5v2.4h-2.5zM1076.2 608.7h5.4v2.4h-5.4zM1087.8 608.7h2.5v2.4h-2.5zM1116.8 608.7h2.5v2.4h-2.5zM1015.3 611.5h2.5v2.4h-2.5zM1021.1 611.5h2.5v2.4h-2.5zM1032.7 611.5h2.5v2.4h-2.5zM1070.4 611.5h2.5v2.4h-2.5zM1082.0 611.5h5.4v2.4h-5.4zM1090.7 611.5h2.5v2.4h-2.5zM1105.2 611.5h2.5v2.4h-2.5zM1128.3 611.5h2.5v2.4h-2.5zM957.3 614.3h2.5v2.4h-2.5zM986.3 614.3h2.5v2.4h-2.5zM997.9 614.3h2.5v2.4h-2.5zM1015.3 614.3h5.4v2.4h-5.4zM1073.3 614.3h2.5v2.4h-2.5zM1082.0 614.3h8.3v2.4h-8.3zM1105.2 614.3h2.5v2.4h-2.5zM1006.6 617.2h8.3v2.4h-8.3zM1018.2 617.2h5.4v2.4h-5.4zM1029.8 617.2h2.5v2.4h-2.5zM1058.8 617.2h2.5v2.4h-2.5zM1067.5 617.2h2.5v2.4h-2.5zM1076.2 617.2h8.3v2.4h-8.3zM1090.7 617.2h5.4v2.4h-5.4zM1105.2 617.2h2.5v2.4h-2.5zM1113.9 617.2h2.5v2.4h-2.5zM1119.7 617.2h2.5v2.4h-2.5zM1128.3 617.2h2.5v2.4h-2.5zM1003.7 620.0h2.5v2.4h-2.5zM1021.1 620.0h2.5v2.4h-2.5zM1026.9 620.0h5.4v2.4h-5.4zM1064.6 620.0h2.5v2.4h-2.5zM1070.4 620.0h11.2v2.4h-11.2zM1084.9 620.0h5.4v2.4h-5.4zM1093.6 620.0h8.3v2.4h-8.3zM1009.5 622.9h5.4v2.4h-5.4zM1018.2 622.9h11.2v2.4h-11.2zM1067.5 622.9h2.5v2.4h-2.5zM1073.3 622.9h2.5v2.4h-2.5zM1079.1 622.9h5.4v2.4h-5.4zM1090.7 622.9h8.3v2.4h-8.3zM1105.2 622.9h2.5v2.4h-2.5zM1111.0 622.9h5.4v2.4h-5.4zM1012.4 625.7h8.3v2.4h-8.3zM1024.0 625.7h2.5v2.4h-2.5zM1061.7 625.7h8.3v2.4h-8.3zM1073.3 625.7h2.5v2.4h-2.5zM1084.9 625.7h2.5v2.4h-2.5zM1096.5 625.7h2.5v2.4h-2.5zM1102.3 625.7h8.3v2.4h-8.3zM1113.9 625.7h2.5v2.4h-2.5zM1122.6 625.7h2.5v2.4h-2.5zM1157.3 625.7h2.5v2.4h-2.5zM1006.6 628.5h5.4v2.4h-5.4zM1015.3 628.5h2.5v2.4h-2.5zM1024.0 628.5h5.4v2.4h-5.4zM1079.1 628.5h2.5v2.4h-2.5zM1084.9 628.5h2.5v2.4h-2.5zM1090.7 628.5h2.5v2.4h-2.5zM1096.5 628.5h11.2v2.4h-11.2zM1111.0 628.5h5.4v2.4h-5.4zM1119.7 628.5h5.4v2.4h-5.4zM1128.3 628.5h2.5v2.4h-2.5zM1154.4 628.5h2.5v2.4h-2.5zM1232.7 628.5h2.5v2.4h-2.5zM1308.1 628.5h2.5v2.4h-2.5zM983.4 631.4h2.5v2.4h-2.5zM1006.6 631.4h2.5v2.4h-2.5zM1076.2 631.4h2.5v2.4h-2.5zM1087.8 631.4h8.3v2.4h-8.3zM1099.4 631.4h2.5v2.4h-2.5zM1108.1 631.4h2.5v2.4h-2.5zM1116.8 631.4h5.4v2.4h-5.4zM1168.9 631.4h2.5v2.4h-2.5zM997.9 634.2h2.5v2.4h-2.5zM1006.6 634.2h2.5v2.4h-2.5zM1015.3 634.2h8.3v2.4h-8.3zM1093.6 634.2h5.4v2.4h-5.4zM1108.1 634.2h11.2v2.4h-11.2zM1125.5 634.2h2.5v2.4h-2.5zM1137.0 634.2h2.5v2.4h-2.5zM1160.2 634.2h2.5v2.4h-2.5zM1012.4 637.1h2.5v2.4h-2.5zM1111.0 637.1h8.3v2.4h-8.3zM1128.3 637.1h5.4v2.4h-5.4zM1139.9 637.1h2.5v2.4h-2.5zM1255.9 637.1h2.5v2.4h-2.5zM1009.5 639.9h11.2v2.4h-11.2zM1111.0 639.9h2.5v2.4h-2.5zM1125.5 639.9h5.4v2.4h-5.4zM1134.1 639.9h5.4v2.4h-5.4zM1166.0 639.9h2.5v2.4h-2.5zM1244.3 639.9h2.5v2.4h-2.5zM1299.4 639.9h2.5v2.4h-2.5zM1012.4 642.7h2.5v2.4h-2.5zM1113.9 642.7h2.5v2.4h-2.5zM1125.5 642.7h5.4v2.4h-5.4zM1145.7 642.7h2.5v2.4h-2.5zM1284.9 642.7h2.5v2.4h-2.5zM1311.0 642.7h2.5v2.4h-2.5zM1009.5 645.6h8.3v2.4h-8.3zM1116.8 645.6h11.2v2.4h-11.2zM1131.2 645.6h5.4v2.4h-5.4zM1209.5 645.6h2.5v2.4h-2.5zM1241.4 645.6h2.5v2.4h-2.5zM1125.5 648.4h5.4v2.4h-5.4zM1279.1 648.4h2.5v2.4h-2.5zM1009.5 651.3h2.5v2.4h-2.5zM1128.3 651.3h2.5v2.4h-2.5zM1134.1 651.3h2.5v2.4h-2.5zM1142.8 651.3h2.5v2.4h-2.5zM1163.1 651.3h2.5v2.4h-2.5zM1226.9 651.3h2.5v2.4h-2.5zM1012.4 654.1h2.5v2.4h-2.5zM1128.3 654.1h2.5v2.4h-2.5zM1157.3 654.1h2.5v2.4h-2.5zM1166.0 654.1h2.5v2.4h-2.5zM1253.0 654.1h2.5v2.4h-2.5zM1003.7 656.9h2.5v2.4h-2.5zM1116.8 656.9h2.5v2.4h-2.5zM1128.3 656.9h2.5v2.4h-2.5zM1139.9 656.9h2.5v2.4h-2.5zM1154.4 656.9h2.5v2.4h-2.5zM1160.2 656.9h2.5v2.4h-2.5zM1287.8 656.9h2.5v2.4h-2.5zM1006.6 659.8h2.5v2.4h-2.5zM1116.8 659.8h5.4v2.4h-5.4zM1128.3 659.8h2.5v2.4h-2.5zM1137.0 659.8h5.4v2.4h-5.4zM1145.7 659.8h2.5v2.4h-2.5zM1151.5 659.8h2.5v2.4h-2.5zM1177.6 659.8h2.5v2.4h-2.5zM1218.2 659.8h2.5v2.4h-2.5zM997.9 662.6h2.5v2.4h-2.5zM1116.8 662.6h5.4v2.4h-5.4zM1125.5 662.6h2.5v2.4h-2.5zM1157.3 662.6h2.5v2.4h-2.5zM1183.4 662.6h2.5v2.4h-2.5zM1116.8 665.5h2.5v2.4h-2.5zM1145.7 665.5h2.5v2.4h-2.5zM1163.1 665.5h2.5v2.4h-2.5zM1197.9 665.5h2.5v2.4h-2.5zM1006.6 668.3h5.4v2.4h-5.4zM1113.9 668.3h5.4v2.4h-5.4zM1122.6 668.3h11.2v2.4h-11.2zM1137.0 668.3h5.4v2.4h-5.4zM1450.1 668.3h2.5v2.4h-2.5zM1009.5 671.1h2.5v2.4h-2.5zM1113.9 671.1h2.5v2.4h-2.5zM1119.7 671.1h5.4v2.4h-5.4zM1128.3 671.1h2.5v2.4h-2.5zM1226.9 671.1h2.5v2.4h-2.5zM992.1 674.0h2.5v2.4h-2.5zM1003.7 674.0h2.5v2.4h-2.5zM1012.4 674.0h2.5v2.4h-2.5zM1105.2 674.0h5.4v2.4h-5.4zM1116.8 674.0h8.3v2.4h-8.3zM1148.6 674.0h2.5v2.4h-2.5zM1168.9 674.0h2.5v2.4h-2.5zM1183.4 674.0h2.5v2.4h-2.5zM1279.1 674.0h2.5v2.4h-2.5zM1319.6 674.0h2.5v2.4h-2.5zM1113.9 676.8h2.5v2.4h-2.5zM1122.6 676.8h2.5v2.4h-2.5zM1128.3 676.8h2.5v2.4h-2.5zM1137.0 676.8h2.5v2.4h-2.5zM1009.5 679.6h2.5v2.4h-2.5zM1096.5 679.6h11.2v2.4h-11.2zM1131.2 679.6h2.5v2.4h-2.5zM1192.1 679.6h2.5v2.4h-2.5zM1003.7 682.5h2.5v2.4h-2.5zM1012.4 682.5h2.5v2.4h-2.5zM1093.6 682.5h2.5v2.4h-2.5zM1105.2 682.5h11.2v2.4h-11.2zM1119.7 682.5h2.5v2.4h-2.5zM1134.1 682.5h2.5v2.4h-2.5zM1148.6 682.5h2.5v2.4h-2.5zM1180.5 682.5h2.5v2.4h-2.5zM1235.6 682.5h2.5v2.4h-2.5zM1308.1 682.5h2.5v2.4h-2.5zM986.3 685.3h2.5v2.4h-2.5zM1000.8 685.3h2.5v2.4h-2.5zM1015.3 685.3h2.5v2.4h-2.5zM1099.4 685.3h2.5v2.4h-2.5zM1134.1 685.3h2.5v2.4h-2.5zM1142.8 685.3h2.5v2.4h-2.5zM1305.2 685.3h2.5v2.4h-2.5zM1003.7 688.2h2.5v2.4h-2.5zM1009.5 688.2h2.5v2.4h-2.5zM1018.2 688.2h5.4v2.4h-5.4zM1026.9 688.2h5.4v2.4h-5.4zM1035.6 688.2h2.5v2.4h-2.5zM1044.3 688.2h2.5v2.4h-2.5zM1050.1 688.2h14.1v2.4h-14.1zM1067.5 688.2h2.5v2.4h-2.5zM1087.8 688.2h2.5v2.4h-2.5zM1125.5 688.2h2.5v2.4h-2.5zM1154.4 688.2h2.5v2.4h-2.5zM1279.1 688.2h2.5v2.4h-2.5zM1018.2 691.0h2.5v2.4h-2.5zM1024.0 691.0h2.5v2.4h-2.5zM1038.5 691.0h8.3v2.4h-8.3zM1055.9 691.0h2.5v2.4h-2.5zM1061.7 691.0h2.5v2.4h-2.5zM1067.5 691.0h2.5v2.4h-2.5zM1082.0 691.0h2.5v2.4h-2.5zM1093.6 691.0h2.5v2.4h-2.5zM1099.4 691.0h2.5v2.4h-2.5zM1024.0 693.8h2.5v2.4h-2.5zM1032.7 693.8h2.5v2.4h-2.5zM1050.1 693.8h2.5v2.4h-2.5zM1108.1 693.8h2.5v2.4h-2.5zM1015.3 696.7h2.5v2.4h-2.5zM1032.7 696.7h2.5v2.4h-2.5zM1050.1 696.7h2.5v2.4h-2.5zM1206.6 696.7h2.5v2.4h-2.5zM1102.3 699.5h2.5v2.4h-2.5zM1058.8 702.4h2.5v2.4h-2.5z"/>
<path fill="rgb(0,18,255)" d="M1050.1 392.8h2.5v2.4h-2.5zM1058.8 395.7h2.5v2.4h-2.5zM1038.5 401.3h2.5v2.4h-2.5zM1047.2 404.2h5.4v2.4h-5.4zM1029.8 409.9h2.5v2.4h-2.5zM1055.9 412.7h2.5v2.4h-2.5zM1050.1 415.5h5.4v2.4h-5.4zM1058.8 415.5h5.4v2.4h-5.4zM1044.3 418.4h2.5v2.4h-2.5zM1064.6 421.2h2.5v2.4h-2.5zM1058.8 424.1h2.5v2.4h-2.5zM1064.6 424.1h2.5v2.4h-2.5zM1035.6 426.9h2.5v2.4h-2.5zM1041.4 426.9h2.5v2.4h-2.5zM1050.1 426.9h5.4v2.4h-5.4zM1038.5 429.7h2.5v2.4h-2.5zM1061.7 429.7h2.5v2.4h-2.5zM1026.9 432.6h2.5v2.4h-2.5zM1041.4 432.6h2.5v2.4h-2.5zM1047.2 432.6h2.5v2.4h-2.5zM1058.8 432.6h2.5v2.4h-2.5zM1064.6 432.6h2.5v2.4h-2.5zM1032.7 435.4h5.4v2.4h-5.4zM1041.4 435.4h2.5v2.4h-2.5zM1055.9 435.4h2.5v2.4h-2.5zM1038.5 441.1h2.5v2.4h-2.5zM1050.1 441.1h2.5v2.4h-2.5zM1053.0 443.9h2.5v2.4h-2.5zM1064.6 443.9h2.5v2.4h-2.5zM1079.1 443.9h2.5v2.4h-2.5zM1029.8 446.8h2.5v2.4h-2.5zM1038.5 446.8h2.5v2.4h-2.5zM1050.1 446.8h2.5v2.4h-2.5zM1058.8 446.8h2.5v2.4h-2.5zM1026.9 449.6h2.5v2.4h-2.5zM1035.6 449.6h2.5v2.4h-2.5zM1064.6 449.6h2.5v2.4h-2.5zM1024.0 452.5h5.4v2.4h-5.4zM1044.3 452.5h2.5v2.4h-2.5zM1050.1 452.5h2.5v2.4h-2.5zM1061.7 452.5h2.5v2.4h-2.5zM1050.1 455.3h2.5v2.4h-2.5zM1058.8 455.3h2.5v2.4h-2.5zM1067.5 455.3h2.5v2.4h-2.5zM1053.0 458.1h2.5v2.4h-2.5zM1070.4 458.1h2.5v2.4h-2.5zM1021.1 461.0h2.5v2.4h-2.5zM1070.4 461.0h2.5v2.4h-2.5zM1038.5 463.8h2.5v2.4h-2.5zM1044.3 466.7h2.5v2.4h-2.5zM1038.5 469.5h5.4v2.4h-5.4zM1064.6 469.5h2.5v2.4h-2.5zM1035.6 472.3h5.4v2.4h-5.4zM1055.9 472.3h2.5v2.4h-2.5zM1035.6 475.2h5.4v2.4h-5.4zM1061.7 475.2h2.5v2.4h-2.5zM1050.1 478.0h5.4v2.4h-5.4zM1026.9 483.7h2.5v2.4h-2.5zM1041.4 483.7h8.3v2.4h-8.3zM1070.4 483.7h2.5v2.4h-2.5zM1029.8 486.5h2.5v2.4h-2.5zM1035.6 486.5h5.4v2.4h-5.4zM1055.9 486.5h2.5v2.4h-2.5zM1067.5 486.5h2.5v2.4h-2.5zM1038.5 489.4h2.5v2.4h-2.5zM1044.3 489.4h2.5v2.4h-2.5zM1053.0 489.4h2.5v2.4h-2.5zM1058.8 489.4h2.5v2.4h-2.5zM1032.7 492.2h2.5v2.4h-2.5zM1053.0 492.2h2.5v2.4h-2.5zM1058.8 492.2h2.5v2.4h-2.5zM1067.5 492.2h2.5v2.4h-2.5zM1029.8 495.1h2.5v2.4h-2.5zM1044.3 495.1h5.4v2.4h-5.4zM1055.9 495.1h2.5v2.4h-2.5zM1041.4 497.9h2.5v2.4h-2.5zM1087.8 497.9h2.5v2.4h-2.5zM1024.0 500.7h2.5v2.4h-2.5zM1032.7 500.7h2.5v2.4h-2.5zM1055.9 500.7h2.5v2.4h-2.5zM1015.3 503.6h5.4v2.4h-5.4zM1024.0 503.6h2.5v2.4h-2.5zM1029.8 503.6h5.4v2.4h-5.4zM1050.1 503.6h8.3v2.4h-8.3zM1029.8 506.4h2.5v2.4h-2.5zM1044.3 509.3h2.5v2.4h-2.5zM1038.5 512.1h2.5v2.4h-2.5zM1047.2 512.1h5.4v2.4h-5.4zM1061.7 512.1h5.4v2.4h-5.4zM1035.6 514.9h2.5v2.4h-2.5zM1032.7 517.8h2.5v2.4h-2.5zM1038.5 517.8h2.5v2.4h-2.5zM1044.3 517.8h2.5v2.4h-2.5zM1064.6 517.8h2.5v2.4h-2.5zM1029.8 520.6h2.5v2.4h-2.5zM1038.5 520.6h2.5v2.4h-2.5zM1041.4 523.5h2.5v2.4h-2.5zM1024.0 526.3h2.5v2.4h-2.5zM1061.7 526.3h2.5v2.4h-2.5zM1029.8 529.1h2.5v2.4h-2.5zM1029.8 532.0h2.5v2.4h-2.5zM1024.0 534.8h5.4v2.4h-5.4zM1061.7 534.8h2.5v2.4h-2.5zM1067.5 534.8h2.5v2.4h-2.5zM1044.3 537.7h11.2v2.4h-11.2zM1064.6 537.7h2.5v2.4h-2.5zM1073.3 537.7h2.5v2.4h-2.5zM1018.2 540.5h2.5v2.4h-2.5zM1035.6 540.5h5.4v2.4h-5.4zM1053.0 540.5h2.5v2.4h-2.5zM1038.5 543.3h2.5v2.4h-2.5zM1053.0 543.3h2.5v2.4h-2.5zM1064.6 543.3h2.5v2.4h-2.5zM1032.7 546.2h2.5v2.4h-2.5zM1055.9 546.2h2.5v2.4h-2.5zM1079.1 546.2h2.5v2.4h-2.5zM1032.7 549.0h2.5v2.4h-2.5zM1053.0 549.0h5.4v2.4h-5.4zM1050.1 551.9h2.5v2.4h-2.5zM1055.9 551.9h2.5v2.4h-2.5zM1047.2 554.7h2.5v2.4h-2.5zM1058.8 554.7h2.5v2.4h-2.5zM1073.3 554.7h2.5v2.4h-2.5zM1041.4 557.5h2.5v2.4h-2.5zM1050.1 557.5h2.5v2.4h-2.5zM1047.2 560.4h2.5v2.4h-2.5zM1055.9 560.4h2.5v2.4h-2.5zM1044.3 563.2h2.5v2.4h-2.5zM1050.1 563.2h2.5v2.4h-2.5zM1055.9 563.2h2.5v2.4h-2.5zM1026.9 566.1h2.5v2.4h-2.5zM1032.7 566.1h2.5v2.4h-2.5zM1058.8 566.1h2.5v2.4h-2.5zM1064.6 566.1h2.5v2.4h-2.5zM1041.4 568.9h2.5v2.4h-2.5zM1047.2 568.9h5.4v2.4h-5.4zM1055.9 568.9h2.5v2.4h-2.5zM1067.5 568.9h2.5v2.4h-2.5zM1029.8 571.7h2.5v2.4h-2.5zM1067.5 571.7h11.2v2.4h-11.2zM1050.1 574.6h5.4v2.4h-5.4zM1024.0 577.4h2.5v2.4h-2.5zM1053.0 577.4h5.4v2.4h-5.4zM1029.8 580.3h2.5v2.4h-2.5zM1050.1 580.3h2.5v2.4h-2.5zM1032.7 583.1h2.5v2.4h-2.5zM1055.9 583.1h2.5v2.4h-2.5zM1061.7 583.1h2.5v2.4h-2.5zM1038.5 585.9h2.5v2.4h-2.5zM1087.8 585.9h2.5v2.4h-2.5zM1024.0 588.8h2.5v2.4h-2.5zM1029.8 588.8h5.4v2.4h-5.4zM1038.5 588.8h2.5v2.4h-2.5zM1047.2 588.8h5.4v2.4h-5.4zM1061.7 588.8h5.4v2.4h-5.4zM1084.9 588.8h2.5v2.4h-2.5zM1029.8 591.6h2.5v2.4h-2.5zM1038.5 591.6h2.5v2.4h-2.5zM1050.1 591.6h2.5v2.4h-2.5zM1058.8 591.6h2.5v2.4h-2.5zM1070.4 591.6h5.4v2.4h-5.4zM1021.1 594.5h2.5v2.4h-2.5zM1026.9 594.5h2.5v2.4h-2.5zM1038.5 594.5h2.5v2.4h-2.5zM1053.0 594.5h2.5v2.4h-2.5zM1070.4 594.5h2.5v2.4h-2.5zM1050.1 597.3h5.4v2.4h-5.4zM1079.1 597.3h5.4v2.4h-5.4zM1029.8 600.1h2.5v2.4h-2.5zM1038.5 600.1h2.5v2.4h-2.5zM1064.6 600.1h2.5v2.4h-2.5zM1029.8 603.0h2.5v2.4h-2.5zM1035.6 603.0h2.5v2.4h-2.5zM1047.2 603.0h2.5v2.4h-2.5zM1061.7 603.0h2.5v2.4h-2.5zM1067.5 603.0h2.5v2.4h-2.5zM1084.9 603.0h2.5v2.4h-2.5zM1038.5 605.8h2.5v2.4h-2.5zM1044.3 605.8h2.5v2.4h-2.5zM1029.8 608.7h2.5v2.4h-2.5zM1047.2 608.7h2.5v2.4h-2.5zM1035.6 611.5h2.5v2.4h-2.5zM1055.9 611.5h2.5v2.4h-2.5zM1061.7 611.5h5.4v2.4h-5.4zM1055.9 614.3h2.5v2.4h-2.5zM1061.7 614.3h5.4v2.4h-5.4zM1079.1 614.3h2.5v2.4h-2.5zM1035.6 617.2h2.5v2.4h-2.5zM1050.1 617.2h2.5v2.4h-2.5zM1055.9 617.2h2.5v2.4h-2.5zM1070.4 617.2h5.4v2.4h-5.4zM1084.9 617.2h2.5v2.4h-2.5zM1032.7 620.0h2.5v2.4h-2.5zM1061.7 620.0h2.5v2.4h-2.5zM1067.5 620.0h2.5v2.4h-2.5zM1015.3 622.9h2.5v2.4h-2.5zM1029.8 622.9h2.5v2.4h-2.5zM1044.3 622.9h2.5v2.4h-2.5zM1084.9 622.9h2.5v2.4h-2.5zM1032.7 625.7h2.5v2.4h-2.5zM1099.4 625.7h2.5v2.4h-2.5zM1029.8 628.5h5.4v2.4h-5.4zM1070.4 628.5h2.5v2.4h-2.5zM1018.2 631.4h2.5v2.4h-2.5zM1024.0 631.4h5.4v2.4h-5.4zM1067.5 631.4h5.4v2.4h-5.4zM1102.3 631.4h5.4v2.4h-5.4zM1079.1 634.2h2.5v2.4h-2.5zM1099.4 634.2h2.5v2.4h-2.5zM1018.2 637.1h5.4v2.4h-5.4zM1102.3 637.1h5.4v2.4h-5.4zM1018.2 642.7h2.5v2.4h-2.5zM1122.6 648.4h2.5v2.4h-2.5zM1015.3 651.3h2.5v2.4h-2.5zM1122.6 651.3h5.4v2.4h-5.4zM1122.6 654.1h2.5v2.4h-2.5zM1111.0 656.9h2.5v2.4h-2.5zM1125.5 656.9h2.5v2.4h-2.5zM1125.5 659.8h2.5v2.4h-2.5zM1012.4 662.6h2.5v2.4h-2.5zM1108.1 671.1h5.4v2.4h-5.4zM1102.3 674.0h2.5v2.4h-2.5zM1018.2 682.5h2.5v2.4h-2.5zM1090.7 682.5h2.5v2.4h-2.5zM1076.2 685.3h2.5v2.4h-2.5z"/>
<path fill="rgb(0,50,255)" d="M1053.0 401.3h2.5v2.4h-2.5zM1035.6 404.2h2.5v2.4h-2.5zM1050.1 409.9h2.5v2.4h-2.5zM1029.8 412.7h2.5v2.4h-2.5zM1044.3 412.7h2.5v2.4h-2.5zM1058.8 412.7h2.5v2.4h-2.5zM1055.9 415.5h2.5v2.4h-2.5zM1047.2 418.4h5.4v2.4h-5.4zM1055.9 418.4h5.4v2.4h-5.4zM1047.2 421.2h2.5v2.4h-2.5zM1055.9 421.2h2.5v2.4h-2.5zM1061.7 421.2h2.5v2.4h-2.5zM1055.9 424.1h2.5v2.4h-2.5zM1044.3 426.9h2.5v2.4h-2.5zM1032.7 429.7h5.4v2.4h-5.4zM1041.4 429.7h5.4v2.4h-5.4zM1061.7 432.6h2.5v2.4h-2.5zM1050.1 435.4h5.4v2.4h-5.4zM1038.5 438.3h5.4v2.4h-5.4zM1058.8 438.3h2.5v2.4h-2.5zM1035.6 441.1h2.5v2.4h-2.5zM1047.2 441.1h2.5v2.4h-2.5zM1058.8 441.1h2.5v2.4h-2.5zM1041.4 443.9h2.5v2.4h-2.5zM1061.7 446.8h2.5v2.4h-2.5zM1029.8 449.6h2.5v2.4h-2.5zM1038.5 449.6h2.5v2.4h-2.5zM1061.7 449.6h2.5v2.4h-2.5zM1032.7 452.5h2.5v2.4h-2.5zM1041.4 452.5h2.5v2.4h-2.5zM1029.8 455.3h2.5v2.4h-2.5zM1053.0 455.3h2.5v2.4h-2.5zM1038.5 458.1h2.5v2.4h-2.5zM1047.2 458.1h2.5v2.4h-2.5zM1055.9 461.0h2.5v2.4h-2.5zM1032.7 463.8h2.5v2.4h-2.5zM1055.9 463.8h5.4v2.4h-5.4zM1055.9 466.7h2.5v2.4h-2.5zM1067.5 466.7h2.5v2.4h-2.5zM1044.3 469.5h2.5v2.4h-2.5zM1055.9 469.5h5.4v2.4h-5.4zM1047.2 472.3h2.5v2.4h-2.5zM1058.8 475.2h2.5v2.4h-2.5zM1064.6 475.2h2.5v2.4h-2.5zM1024.0 478.0h2.5v2.4h-2.5zM1055.9 478.0h2.5v2.4h-2.5zM1026.9 480.9h2.5v2.4h-2.5zM1032.7 483.7h2.5v2.4h-2.5zM1055.9 483.7h2.5v2.4h-2.5zM1050.1 486.5h2.5v2.4h-2.5zM1064.6 486.5h2.5v2.4h-2.5zM1032.7 489.4h2.5v2.4h-2.5zM1067.5 489.4h2.5v2.4h-2.5zM1050.1 492.2h2.5v2.4h-2.5zM1061.7 492.2h2.5v2.4h-2.5zM1070.4 492.2h2.5v2.4h-2.5zM1053.0 495.1h2.5v2.4h-2.5zM1061.7 495.1h2.5v2.4h-2.5zM1067.5 495.1h2.5v2.4h-2.5zM1029.8 497.9h2.5v2.4h-2.5zM1053.0 497.9h2.5v2.4h-2.5zM1067.5 497.9h2.5v2.4h-2.5zM1047.2 500.7h5.4v2.4h-5.4zM1058.8 500.7h2.5v2.4h-2.5zM1021.1 503.6h2.5v2.4h-2.5zM1038.5 503.6h2.5v2.4h-2.5zM1044.3 506.4h2.5v2.4h-2.5zM1029.8 509.3h2.5v2.4h-2.5zM1038.5 509.3h2.5v2.4h-2.5zM1055.9 509.3h5.4v2.4h-5.4zM1044.3 512.1h2.5v2.4h-2.5zM1053.0 512.1h2.5v2.4h-2.5zM1029.8 514.9h2.5v2.4h-2.5zM1038.5 514.9h2.5v2.4h-2.5zM1044.3 514.9h2.5v2.4h-2.5zM1061.7 514.9h2.5v2.4h-2.5zM1067.5 517.8h2.5v2.4h-2.5zM1026.9 520.6h2.5v2.4h-2.5zM1064.6 520.6h2.5v2.4h-2.5zM1024.0 523.5h5.4v2.4h-5.4zM1035.6 523.5h2.5v2.4h-2.5zM1053.0 523.5h5.4v2.4h-5.4zM1032.7 526.3h5.4v2.4h-5.4zM1044.3 526.3h2.5v2.4h-2.5zM1076.2 526.3h2.5v2.4h-2.5zM1032.7 529.1h2.5v2.4h-2.5zM1044.3 529.1h2.5v2.4h-2.5zM1064.6 529.1h2.5v2.4h-2.5zM1032.7 532.0h2.5v2.4h-2.5zM1038.5 532.0h2.5v2.4h-2.5zM1044.3 532.0h2.5v2.4h-2.5zM1064.6 532.0h2.5v2.4h-2.5zM1032.7 534.8h2.5v2.4h-2.5zM1047.2 534.8h2.5v2.4h-2.5zM1058.8 537.7h2.5v2.4h-2.5zM1026.9 540.5h2.5v2.4h-2.5zM1041.4 540.5h2.5v2.4h-2.5zM1055.9 540.5h5.4v2.4h-5.4zM1064.6 540.5h2.5v2.4h-2.5zM1018.2 543.3h8.3v2.4h-8.3zM1029.8 543.3h2.5v2.4h-2.5zM1058.8 543.3h2.5v2.4h-2.5zM1053.0 546.2h2.5v2.4h-2.5zM1041.4 549.0h11.2v2.4h-11.2zM1064.6 549.0h2.5v2.4h-2.5zM1026.9 551.9h2.5v2.4h-2.5zM1053.0 551.9h2.5v2.4h-2.5zM1058.8 551.9h2.5v2.4h-2.5zM1050.1 554.7h2.5v2.4h-2.5zM1055.9 557.5h2.5v2.4h-2.5zM1064.6 557.5h2.5v2.4h-2.5zM1038.5 560.4h2.5v2.4h-2.5zM1041.4 563.2h2.5v2.4h-2.5zM1053.0 563.2h2.5v2.4h-2.5zM1061.7 563.2h8.3v2.4h-8.3zM1044.3 566.1h2.5v2.4h-2.5zM1032.7 568.9h5.4v2.4h-5.4zM1044.3 568.9h2.5v2.4h-2.5zM1058.8 568.9h5.4v2.4h-5.4zM1032.7 571.7h8.3v2.4h-8.3zM1058.8 571.7h5.4v2.4h-5.4zM1024.0 574.6h2.5v2.4h-2.5zM1029.8 574.6h2.5v2.4h-2.5zM1058.8 577.4h8.3v2.4h-8.3zM1070.4 577.4h5.4v2.4h-5.4zM1032.7 580.3h5.4v2.4h-5.4zM1053.0 580.3h2.5v2.4h-2.5zM1064.6 580.3h5.4v2.4h-5.4zM1053.0 583.1h2.5v2.4h-2.5zM1029.8 585.9h5.4v2.4h-5.4zM1044.3 585.9h2.5v2.4h-2.5zM1053.0 585.9h2.5v2.4h-2.5zM1058.8 585.9h2.5v2.4h-2.5zM1070.4 585.9h2.5v2.4h-2.5zM1055.9 588.8h5.4v2.4h-5.4zM1035.6 591.6h2.5v2.4h-2.5zM1061.7 591.6h2.5v2.4h-2.5zM1067.5 591.6h2.5v2.4h-2.5zM1018.2 594.5h2.5v2.4h-2.5zM1035.6 594.5h2.5v2.4h-2.5zM1041.4 594.5h2.5v2.4h-2.5zM1055.9 594.5h5.4v2.4h-5.4zM1021.1 597.3h2.5v2.4h-2.5zM1041.4 597.3h2.5v2.4h-2.5zM1047.2 597.3h2.5v2.4h-2.5zM1064.6 597.3h2.5v2.4h-2.5zM1073.3 597.3h2.5v2.4h-2.5zM1044.3 600.1h8.3v2.4h-8.3zM1067.5 600.1h2.5v2.4h-2.5zM1073.3 600.1h8.3v2.4h-8.3zM1055.9 603.0h5.4v2.4h-5.4zM1041.4 605.8h2.5v2.4h-2.5zM1047.2 605.8h2.5v2.4h-2.5zM1053.0 605.8h2.5v2.4h-2.5zM1058.8 605.8h2.5v2.4h-2.5zM1035.6 608.7h5.4v2.4h-5.4zM1058.8 608.7h2.5v2.4h-2.5zM1024.0 611.5h2.5v2.4h-2.5zM1038.5 611.5h2.5v2.4h-2.5zM1021.1 614.3h2.5v2.4h-2.5zM1053.0 614.3h2.5v2.4h-2.5zM1070.4 614.3h2.5v2.4h-2.5zM1032.7 617.2h2.5v2.4h-2.5zM1038.5 617.2h2.5v2.4h-2.5zM1061.7 617.2h5.4v2.4h-5.4zM1024.0 620.0h2.5v2.4h-2.5zM1038.5 620.0h5.4v2.4h-5.4zM1053.0 620.0h8.3v2.4h-8.3zM1047.2 622.9h2.5v2.4h-2.5zM1029.8 625.7h2.5v2.4h-2.5zM1044.3 625.7h5.4v2.4h-5.4zM1047.2 628.5h2.5v2.4h-2.5zM1073.3 628.5h2.5v2.4h-2.5zM1029.8 631.4h2.5v2.4h-2.5zM1064.6 631.4h2.5v2.4h-2.5zM1073.3 631.4h2.5v2.4h-2.5zM1079.1 631.4h2.5v2.4h-2.5zM1073.3 634.2h2.5v2.4h-2.5zM1102.3 634.2h2.5v2.4h-2.5zM1093.6 637.1h2.5v2.4h-2.5zM1099.4 637.1h2.5v2.4h-2.5zM1105.2 639.9h5.4v2.4h-5.4zM1116.8 639.9h2.5v2.4h-2.5zM1108.1 645.6h2.5v2.4h-2.5zM1113.9 645.6h2.5v2.4h-2.5zM1111.0 648.4h2.5v2.4h-2.5zM1119.7 648.4h2.5v2.4h-2.5zM1119.7 651.3h2.5v2.4h-2.5zM1018.2 654.1h2.5v2.4h-2.5zM1111.0 654.1h2.5v2.4h-2.5zM1015.3 656.9h2.5v2.4h-2.5zM1113.9 656.9h2.5v2.4h-2.5zM1122.6 656.9h2.5v2.4h-2.5zM1015.3 659.8h2.5v2.4h-2.5zM1108.1 662.6h8.3v2.4h-8.3zM1111.0 665.5h2.5v2.4h-2.5zM1012.4 668.3h2.5v2.4h-2.5zM1015.3 676.8h2.5v2.4h-2.5zM1096.5 676.8h5.4v2.4h-5.4zM1093.6 679.6h2.5v2.4h-2.5zM1021.1 685.3h2.5v2.4h-2.5zM1061.7 685.3h2.5v2.4h-2.5zM1067.5 685.3h2.5v2.4h-2.5zM1079.1 685.3h5.4v2.4h-5.4zM1087.8 685.3h2.5v2.4h-2.5z"/>
<path fill="rgb(0,117,255)" d="M1052.8 389.8h2.9v2.8h-2.9zM1049.9 401.1h2.9v2.8h-2.9zM1047.0 406.8h5.8v2.8h-5.8zM1047.0 409.7h2.9v2.8h-2.9zM1032.5 412.5h2.9v2.8h-2.9zM1049.9 412.5h2.9v2.8h-2.9zM1047.0 415.3h2.9v2.8h-2.9zM1052.8 418.2h2.9v2.8h-2.9zM1061.5 418.2h2.9v2.8h-2.9zM1035.4 423.9h2.9v2.8h-2.9zM1047.0 423.9h8.7v2.8h-8.7zM1029.6 426.7h5.8v2.8h-5.8zM1052.8 429.5h2.9v2.8h-2.9zM1035.4 432.4h5.8v2.8h-5.8zM1044.1 432.4h2.9v2.8h-2.9zM1055.7 432.4h2.9v2.8h-2.9zM1047.0 435.2h2.9v2.8h-2.9zM1058.6 435.2h2.9v2.8h-2.9zM1035.4 438.1h2.9v2.8h-2.9zM1052.8 438.1h5.8v2.8h-5.8zM1032.5 440.9h2.9v2.8h-2.9zM1041.2 440.9h2.9v2.8h-2.9zM1052.8 440.9h5.8v2.8h-5.8zM1038.3 443.7h2.9v2.8h-2.9zM1044.1 446.6h2.9v2.8h-2.9zM1023.8 449.4h2.9v2.8h-2.9zM1032.5 449.4h2.9v2.8h-2.9zM1067.3 449.4h2.9v2.8h-2.9zM1035.4 452.3h2.9v2.8h-2.9zM1064.4 452.3h2.9v2.8h-2.9zM1032.5 455.1h5.8v2.8h-5.8zM1044.1 457.9h2.9v2.8h-2.9zM1061.5 457.9h5.8v2.8h-5.8zM1041.2 460.8h2.9v2.8h-2.9zM1047.0 460.8h5.8v2.8h-5.8zM1058.6 460.8h2.9v2.8h-2.9zM1041.2 463.6h5.8v2.8h-5.8zM1061.5 463.6h5.8v2.8h-5.8zM1047.0 466.5h2.9v2.8h-2.9zM1052.8 466.5h2.9v2.8h-2.9zM1058.6 466.5h2.9v2.8h-2.9zM1047.0 469.3h8.7v2.8h-8.7zM1041.2 472.1h5.8v2.8h-5.8zM1058.6 472.1h2.9v2.8h-2.9zM1052.8 475.0h5.8v2.8h-5.8zM1029.6 477.8h2.9v2.8h-2.9zM1058.6 477.8h2.9v2.8h-2.9zM1055.7 480.7h5.8v2.8h-5.8zM1041.2 486.3h2.9v2.8h-2.9zM1061.5 486.3h2.9v2.8h-2.9zM1055.7 489.2h2.9v2.8h-2.9zM1055.7 492.0h2.9v2.8h-2.9zM1041.2 494.9h2.9v2.8h-2.9zM1064.4 494.9h2.9v2.8h-2.9zM1058.6 497.7h5.8v2.8h-5.8zM1070.2 497.7h2.9v2.8h-2.9zM1061.5 500.5h2.9v2.8h-2.9zM1070.2 500.5h2.9v2.8h-2.9zM1035.4 503.4h2.9v2.8h-2.9zM1061.5 503.4h5.8v2.8h-5.8zM1035.4 506.2h5.8v2.8h-5.8zM1026.7 509.1h2.9v2.8h-2.9zM1032.5 509.1h2.9v2.8h-2.9zM1041.2 509.1h2.9v2.8h-2.9zM1041.2 511.9h2.9v2.8h-2.9zM1058.6 511.9h2.9v2.8h-2.9zM1041.2 514.7h2.9v2.8h-2.9zM1064.4 514.7h2.9v2.8h-2.9zM1047.0 517.6h5.8v2.8h-5.8zM1058.6 517.6h2.9v2.8h-2.9zM1047.0 520.4h2.9v2.8h-2.9zM1052.8 520.4h8.7v2.8h-8.7zM1032.5 523.3h2.9v2.8h-2.9zM1044.1 523.3h2.9v2.8h-2.9zM1061.5 523.3h2.9v2.8h-2.9zM1038.3 526.1h5.8v2.8h-5.8zM1047.0 526.1h2.9v2.8h-2.9zM1055.7 526.1h5.8v2.8h-5.8zM1058.6 531.8h2.9v2.8h-2.9zM1035.4 534.6h2.9v2.8h-2.9zM1052.8 534.6h2.9v2.8h-2.9zM1058.6 534.6h2.9v2.8h-2.9zM1064.4 534.6h2.9v2.8h-2.9zM1029.6 537.5h2.9v2.8h-2.9zM1055.7 537.5h2.9v2.8h-2.9zM1020.9 540.3h5.8v2.8h-5.8zM1047.0 540.3h5.8v2.8h-5.8zM1032.5 543.1h2.9v2.8h-2.9zM1041.2 543.1h5.8v2.8h-5.8zM1049.9 543.1h2.9v2.8h-2.9zM1038.3 546.0h2.9v2.8h-2.9zM1044.1 546.0h8.7v2.8h-8.7zM1067.3 548.8h2.9v2.8h-2.9zM1064.4 551.7h5.8v2.8h-5.8zM1052.8 554.5h2.9v2.8h-2.9zM1058.6 557.3h2.9v2.8h-2.9zM1041.2 560.2h2.9v2.8h-2.9zM1058.6 563.0h2.9v2.8h-2.9zM1052.8 568.7h2.9v2.8h-2.9zM1026.7 571.5h2.9v2.8h-2.9zM1041.2 571.5h2.9v2.8h-2.9zM1047.0 571.5h8.7v2.8h-8.7zM1064.4 571.5h2.9v2.8h-2.9zM1038.3 574.4h2.9v2.8h-2.9zM1055.7 574.4h5.8v2.8h-5.8zM1064.4 574.4h2.9v2.8h-2.9zM1070.2 574.4h2.9v2.8h-2.9zM1076.0 574.4h2.9v2.8h-2.9zM1038.3 577.2h2.9v2.8h-2.9zM1044.1 577.2h2.9v2.8h-2.9zM1038.3 580.1h2.9v2.8h-2.9zM1047.0 580.1h2.9v2.8h-2.9zM1061.5 580.1h2.9v2.8h-2.9zM1026.7 582.9h2.9v2.8h-2.9zM1047.0 582.9h5.8v2.8h-5.8zM1023.8 585.7h2.9v2.8h-2.9zM1049.9 585.7h2.9v2.8h-2.9zM1035.4 588.6h2.9v2.8h-2.9zM1041.2 588.6h5.8v2.8h-5.8zM1052.8 588.6h2.9v2.8h-2.9zM1067.3 588.6h2.9v2.8h-2.9zM1044.1 591.4h2.9v2.8h-2.9zM1044.1 594.3h2.9v2.8h-2.9zM1038.3 597.1h2.9v2.8h-2.9zM1044.1 597.1h2.9v2.8h-2.9zM1055.7 597.1h5.8v2.8h-5.8zM1067.3 597.1h2.9v2.8h-2.9zM1032.5 599.9h5.8v2.8h-5.8zM1052.8 599.9h2.9v2.8h-2.9zM1058.6 599.9h2.9v2.8h-2.9zM1049.9 602.8h2.9v2.8h-2.9zM1076.0 602.8h5.8v2.8h-5.8zM1064.4 605.6h2.9v2.8h-2.9zM1052.8 608.5h5.8v2.8h-5.8zM1073.1 608.5h2.9v2.8h-2.9zM1044.1 611.3h5.8v2.8h-5.8zM1038.3 614.1h11.6v2.8h-11.6zM1041.2 617.0h2.9v2.8h-2.9zM1047.0 617.0h2.9v2.8h-2.9zM1052.8 617.0h2.9v2.8h-2.9zM1018.0 619.8h2.9v2.8h-2.9zM1035.4 619.8h2.9v2.8h-2.9zM1038.3 622.7h2.9v2.8h-2.9zM1055.7 622.7h2.9v2.8h-2.9zM1035.4 625.5h8.7v2.8h-8.7zM1035.4 628.3h2.9v2.8h-2.9zM1061.5 628.3h2.9v2.8h-2.9zM1081.8 628.3h2.9v2.8h-2.9zM1032.5 631.2h2.9v2.8h-2.9zM1041.2 631.2h2.9v2.8h-2.9zM1047.0 631.2h2.9v2.8h-2.9zM1061.5 631.2h2.9v2.8h-2.9zM1081.8 631.2h2.9v2.8h-2.9zM1023.8 634.0h2.9v2.8h-2.9zM1084.7 634.0h2.9v2.8h-2.9zM1087.6 636.9h5.8v2.8h-5.8zM1107.9 642.5h2.9v2.8h-2.9zM1018.0 645.4h2.9v2.8h-2.9zM1110.8 645.4h2.9v2.8h-2.9zM1015.1 648.2h2.9v2.8h-2.9zM1018.0 651.1h2.9v2.8h-2.9zM1107.9 651.1h8.7v2.8h-8.7zM1107.9 653.9h2.9v2.8h-2.9zM1107.9 659.6h2.9v2.8h-2.9zM1113.7 659.6h2.9v2.8h-2.9zM1012.2 665.2h2.9v2.8h-2.9zM1107.9 665.2h2.9v2.8h-2.9zM1105.0 668.1h2.9v2.8h-2.9zM1015.1 670.9h2.9v2.8h-2.9zM1105.0 670.9h2.9v2.8h-2.9zM1084.7 685.1h2.9v2.8h-2.9z"/>
<path fill="rgb(0,185,255)" d="M1052.8 392.6h2.9v2.8h-2.9zM1047.0 412.5h2.9v2.8h-2.9zM1049.9 421.0h5.8v2.8h-5.8zM1032.5 438.1h2.9v2.8h-2.9zM1047.0 438.1h2.9v2.8h-2.9zM1029.6 443.7h2.9v2.8h-2.9zM1058.6 443.7h2.9v2.8h-2.9zM1041.2 446.6h2.9v2.8h-2.9zM1064.4 446.6h2.9v2.8h-2.9zM1038.3 452.3h2.9v2.8h-2.9zM1044.1 460.8h2.9v2.8h-2.9zM1047.0 463.6h2.9v2.8h-2.9zM1064.4 466.5h2.9v2.8h-2.9zM1061.5 472.1h2.9v2.8h-2.9zM1052.8 480.7h2.9v2.8h-2.9zM1061.5 489.2h5.8v2.8h-5.8zM1032.5 497.7h2.9v2.8h-2.9zM1029.6 500.5h2.9v2.8h-2.9zM1064.4 500.5h2.9v2.8h-2.9zM1041.2 503.4h2.9v2.8h-2.9zM1058.6 503.4h2.9v2.8h-2.9zM1032.5 506.2h2.9v2.8h-2.9zM1041.2 506.2h2.9v2.8h-2.9zM1061.5 506.2h2.9v2.8h-2.9zM1055.7 511.9h2.9v2.8h-2.9zM1047.0 514.7h14.5v2.8h-14.5zM1061.5 517.6h2.9v2.8h-2.9zM1061.5 520.4h2.9v2.8h-2.9zM1029.6 523.3h2.9v2.8h-2.9zM1047.0 523.3h5.8v2.8h-5.8zM1058.6 523.3h2.9v2.8h-2.9zM1049.9 526.1h5.8v2.8h-5.8zM1047.0 528.9h2.9v2.8h-2.9zM1061.5 528.9h2.9v2.8h-2.9zM1047.0 531.8h8.7v2.8h-8.7zM1061.5 531.8h2.9v2.8h-2.9zM1049.9 534.6h2.9v2.8h-2.9zM1055.7 534.6h2.9v2.8h-2.9zM1044.1 560.2h2.9v2.8h-2.9zM1058.6 560.2h2.9v2.8h-2.9zM1061.5 565.9h2.9v2.8h-2.9zM1064.4 568.7h2.9v2.8h-2.9zM1023.8 571.5h2.9v2.8h-2.9zM1026.7 574.4h2.9v2.8h-2.9zM1047.0 574.4h2.9v2.8h-2.9zM1067.3 574.4h2.9v2.8h-2.9zM1041.2 577.2h2.9v2.8h-2.9zM1047.0 577.2h2.9v2.8h-2.9zM1029.6 582.9h2.9v2.8h-2.9zM1044.1 582.9h2.9v2.8h-2.9zM1041.2 585.7h2.9v2.8h-2.9zM1047.0 585.7h2.9v2.8h-2.9zM1055.7 585.7h2.9v2.8h-2.9zM1052.8 591.4h2.9v2.8h-2.9zM1070.2 597.1h2.9v2.8h-2.9zM1055.7 599.9h2.9v2.8h-2.9zM1032.5 602.8h2.9v2.8h-2.9zM1038.3 602.8h2.9v2.8h-2.9zM1064.4 602.8h2.9v2.8h-2.9zM1073.1 602.8h2.9v2.8h-2.9zM1055.7 605.6h2.9v2.8h-2.9zM1044.1 608.5h2.9v2.8h-2.9zM1035.4 614.1h2.9v2.8h-2.9zM1044.1 617.0h2.9v2.8h-2.9zM1044.1 619.8h5.8v2.8h-5.8zM1035.4 622.7h2.9v2.8h-2.9zM1049.9 622.7h2.9v2.8h-2.9zM1058.6 622.7h2.9v2.8h-2.9zM1038.3 628.3h2.9v2.8h-2.9zM1029.6 634.0h2.9v2.8h-2.9zM1081.8 634.0h2.9v2.8h-2.9zM1087.6 634.0h2.9v2.8h-2.9zM1023.8 636.9h2.9v2.8h-2.9zM1102.1 639.7h2.9v2.8h-2.9zM1020.9 642.5h2.9v2.8h-2.9zM1105.0 642.5h2.9v2.8h-2.9zM1096.3 645.4h2.9v2.8h-2.9zM1102.1 648.2h2.9v2.8h-2.9zM1107.9 648.2h2.9v2.8h-2.9zM1113.7 648.2h2.9v2.8h-2.9zM1105.0 651.1h2.9v2.8h-2.9zM1105.0 656.7h5.8v2.8h-5.8zM1102.1 662.4h2.9v2.8h-2.9zM1102.1 665.2h2.9v2.8h-2.9zM1015.1 668.1h2.9v2.8h-2.9zM1107.9 668.1h5.8v2.8h-5.8zM1102.1 670.9h2.9v2.8h-2.9zM1015.1 673.8h2.9v2.8h-2.9zM1099.2 673.8h2.9v2.8h-2.9zM1087.6 679.4h2.9v2.8h-2.9zM1026.7 682.3h2.9v2.8h-2.9zM1087.6 682.3h2.9v2.8h-2.9zM1026.7 685.1h2.9v2.8h-2.9zM1038.3 685.1h2.9v2.8h-2.9zM1047.0 685.1h2.9v2.8h-2.9zM1055.7 685.1h2.9v2.8h-2.9z"/>
<path fill="rgb(0,229,240)" d="M1058.6 421.0h2.9v2.8h-2.9zM1044.1 438.1h2.9v2.8h-2.9zM1044.1 440.9h2.9v2.8h-2.9zM1044.1 443.7h5.8v2.8h-5.8zM1041.2 449.4h2.9v2.8h-2.9zM1029.6 452.3h2.9v2.8h-2.9zM1038.3 455.1h2.9v2.8h-2.9zM1064.4 455.1h2.9v2.8h-2.9zM1052.8 460.8h2.9v2.8h-2.9zM1049.9 463.6h2.9v2.8h-2.9zM1035.4 469.3h2.9v2.8h-2.9zM1061.5 469.3h2.9v2.8h-2.9zM1055.7 497.7h2.9v2.8h-2.9zM1067.3 500.5h2.9v2.8h-2.9zM1035.4 509.1h2.9v2.8h-2.9zM1052.8 517.6h5.8v2.8h-5.8zM1049.9 520.4h2.9v2.8h-2.9zM1049.9 528.9h11.6v2.8h-11.6zM1055.7 531.8h2.9v2.8h-2.9zM1044.1 540.3h2.9v2.8h-2.9zM1047.0 543.1h2.9v2.8h-2.9zM1041.2 546.0h2.9v2.8h-2.9zM1055.7 554.5h2.9v2.8h-2.9zM1052.8 557.3h2.9v2.8h-2.9zM1044.1 571.5h2.9v2.8h-2.9zM1041.2 574.4h2.9v2.8h-2.9zM1061.5 574.4h2.9v2.8h-2.9zM1073.1 574.4h2.9v2.8h-2.9zM1044.1 580.1h2.9v2.8h-2.9zM1041.2 582.9h2.9v2.8h-2.9zM1047.0 594.3h2.9v2.8h-2.9zM1067.3 594.3h2.9v2.8h-2.9zM1052.8 602.8h2.9v2.8h-2.9zM1041.2 608.5h2.9v2.8h-2.9zM1052.8 622.7h2.9v2.8h-2.9zM1055.7 628.3h2.9v2.8h-2.9zM1035.4 631.2h2.9v2.8h-2.9zM1044.1 631.2h2.9v2.8h-2.9zM1026.7 634.0h2.9v2.8h-2.9zM1044.1 634.0h2.9v2.8h-2.9zM1070.2 634.0h2.9v2.8h-2.9zM1078.9 636.9h8.7v2.8h-8.7zM1096.3 636.9h2.9v2.8h-2.9zM1073.1 639.7h2.9v2.8h-2.9zM1093.4 639.7h2.9v2.8h-2.9zM1099.2 639.7h2.9v2.8h-2.9zM1096.3 642.5h8.7v2.8h-8.7zM1102.1 645.4h5.8v2.8h-5.8zM1018.0 648.2h2.9v2.8h-2.9zM1105.0 648.2h2.9v2.8h-2.9zM1020.9 651.1h2.9v2.8h-2.9zM1099.2 651.1h2.9v2.8h-2.9zM1116.6 651.1h2.9v2.8h-2.9zM1020.9 653.9h2.9v2.8h-2.9zM1105.0 653.9h2.9v2.8h-2.9zM1018.0 656.7h2.9v2.8h-2.9zM1099.2 656.7h5.8v2.8h-5.8zM1015.1 662.4h2.9v2.8h-2.9zM1105.0 662.4h2.9v2.8h-2.9zM1015.1 665.2h2.9v2.8h-2.9zM1099.2 665.2h2.9v2.8h-2.9zM1105.0 665.2h2.9v2.8h-2.9zM1102.1 668.1h2.9v2.8h-2.9zM1099.2 670.9h2.9v2.8h-2.9zM1090.5 673.8h5.8v2.8h-5.8zM1018.0 676.6h2.9v2.8h-2.9zM1090.5 676.6h5.8v2.8h-5.8zM1073.1 679.4h2.9v2.8h-2.9zM1020.9 682.3h2.9v2.8h-2.9zM1061.5 682.3h2.9v2.8h-2.9zM1023.8 685.1h2.9v2.8h-2.9zM1029.6 685.1h8.7v2.8h-8.7zM1041.2 685.1h5.8v2.8h-5.8z"/>
<path fill="rgb(0,255,198)" d="M1052.8 463.6h2.9v2.8h-2.9zM1044.1 574.4h2.9v2.8h-2.9zM1041.2 580.1h2.9v2.8h-2.9zM1041.2 611.3h2.9v2.8h-2.9zM1049.9 625.5h8.7v2.8h-8.7zM1049.9 628.3h2.9v2.8h-2.9zM1049.9 631.2h5.8v2.8h-5.8zM1058.6 631.2h2.9v2.8h-2.9zM1038.3 634.0h5.8v2.8h-5.8zM1047.0 634.0h2.9v2.8h-2.9zM1064.4 634.0h2.9v2.8h-2.9zM1038.3 636.9h2.9v2.8h-2.9zM1067.3 636.9h5.8v2.8h-5.8zM1023.8 639.7h2.9v2.8h-2.9zM1090.5 639.7h2.9v2.8h-2.9zM1096.3 639.7h2.9v2.8h-2.9zM1087.6 642.5h2.9v2.8h-2.9zM1093.4 642.5h2.9v2.8h-2.9zM1090.5 645.4h5.8v2.8h-5.8zM1099.2 645.4h2.9v2.8h-2.9zM1020.9 648.2h2.9v2.8h-2.9zM1102.1 651.1h2.9v2.8h-2.9zM1102.1 653.9h2.9v2.8h-2.9zM1099.2 659.6h2.9v2.8h-2.9zM1018.0 662.4h2.9v2.8h-2.9zM1090.5 662.4h5.8v2.8h-5.8zM1099.2 662.4h2.9v2.8h-2.9zM1018.0 665.2h2.9v2.8h-2.9zM1093.4 665.2h2.9v2.8h-2.9zM1018.0 668.1h2.9v2.8h-2.9zM1093.4 668.1h2.9v2.8h-2.9zM1018.0 670.9h2.9v2.8h-2.9zM1096.3 670.9h2.9v2.8h-2.9zM1018.0 673.8h5.8v2.8h-5.8zM1078.9 673.8h2.9v2.8h-2.9zM1087.6 673.8h2.9v2.8h-2.9zM1096.3 673.8h2.9v2.8h-2.9zM1087.6 676.6h2.9v2.8h-2.9zM1018.0 679.4h2.9v2.8h-2.9zM1026.7 679.4h2.9v2.8h-2.9zM1064.4 679.4h5.8v2.8h-5.8zM1081.8 679.4h2.9v2.8h-2.9zM1023.8 682.3h2.9v2.8h-2.9zM1029.6 682.3h5.8v2.8h-5.8zM1055.7 682.3h2.9v2.8h-2.9zM1064.4 682.3h2.9v2.8h-2.9zM1070.2 682.3h2.9v2.8h-2.9zM1078.9 682.3h5.8v2.8h-5.8zM1052.8 685.1h2.9v2.8h-2.9zM1070.2 685.1h2.9v2.8h-2.9z"/>
<path fill="rgb(0,255,114)" d="M1052.8 628.3h2.9v2.8h-2.9zM1038.3 631.2h2.9v2.8h-2.9zM1032.5 634.0h5.8v2.8h-5.8zM1052.8 634.0h2.9v2.8h-2.9zM1061.5 634.0h2.9v2.8h-2.9zM1029.6 636.9h8.7v2.8h-8.7zM1047.0 636.9h2.9v2.8h-2.9zM1038.3 639.7h2.9v2.8h-2.9zM1044.1 639.7h2.9v2.8h-2.9zM1064.4 639.7h2.9v2.8h-2.9zM1076.0 639.7h14.5v2.8h-14.5zM1023.8 642.5h2.9v2.8h-2.9zM1047.0 642.5h2.9v2.8h-2.9zM1061.5 642.5h5.8v2.8h-5.8zM1073.1 642.5h2.9v2.8h-2.9zM1084.7 642.5h2.9v2.8h-2.9zM1090.5 642.5h2.9v2.8h-2.9zM1067.3 645.4h2.9v2.8h-2.9zM1087.6 645.4h2.9v2.8h-2.9zM1096.3 648.2h2.9v2.8h-2.9zM1026.7 651.1h5.8v2.8h-5.8zM1096.3 651.1h2.9v2.8h-2.9zM1099.2 653.9h2.9v2.8h-2.9zM1020.9 656.7h2.9v2.8h-2.9zM1087.6 656.7h5.8v2.8h-5.8zM1018.0 659.6h2.9v2.8h-2.9zM1093.4 659.6h5.8v2.8h-5.8zM1084.7 662.4h5.8v2.8h-5.8zM1090.5 665.2h2.9v2.8h-2.9zM1096.3 665.2h2.9v2.8h-2.9zM1020.9 668.1h2.9v2.8h-2.9zM1090.5 668.1h2.9v2.8h-2.9zM1096.3 668.1h5.8v2.8h-5.8zM1020.9 670.9h2.9v2.8h-2.9zM1081.8 670.9h2.9v2.8h-2.9zM1087.6 670.9h8.7v2.8h-8.7zM1081.8 673.8h2.9v2.8h-2.9zM1020.9 676.6h5.8v2.8h-5.8zM1070.2 676.6h5.8v2.8h-5.8zM1020.9 679.4h2.9v2.8h-2.9zM1029.6 679.4h2.9v2.8h-2.9zM1061.5 679.4h2.9v2.8h-2.9zM1070.2 679.4h2.9v2.8h-2.9zM1078.9 679.4h2.9v2.8h-2.9zM1067.3 682.3h2.9v2.8h-2.9zM1073.1 682.3h5.8v2.8h-5.8zM1084.7 682.3h2.9v2.8h-2.9z"/>
<path fill="rgb(15,255,52)" d="M1055.7 631.2h2.9v2.8h-2.9zM1049.9 634.0h2.9v2.8h-2.9zM1055.7 634.0h5.8v2.8h-5.8zM1026.7 636.9h2.9v2.8h-2.9zM1041.2 636.9h2.9v2.8h-2.9zM1049.9 636.9h2.9v2.8h-2.9zM1026.7 639.7h5.8v2.8h-5.8zM1035.4 639.7h2.9v2.8h-2.9zM1041.2 639.7h2.9v2.8h-2.9zM1047.0 639.7h2.9v2.8h-2.9zM1061.5 639.7h2.9v2.8h-2.9zM1067.3 639.7h5.8v2.8h-5.8zM1026.7 642.5h2.9v2.8h-2.9zM1035.4 642.5h2.9v2.8h-2.9zM1067.3 642.5h5.8v2.8h-5.8zM1020.9 645.4h2.9v2.8h-2.9zM1029.6 645.4h2.9v2.8h-2.9zM1038.3 645.4h11.6v2.8h-11.6zM1073.1 645.4h2.9v2.8h-2.9zM1084.7 645.4h2.9v2.8h-2.9zM1023.8 648.2h2.9v2.8h-2.9zM1029.6 648.2h5.8v2.8h-5.8zM1038.3 648.2h2.9v2.8h-2.9zM1067.3 648.2h2.9v2.8h-2.9zM1078.9 648.2h2.9v2.8h-2.9zM1032.5 651.1h2.9v2.8h-2.9zM1078.9 651.1h2.9v2.8h-2.9zM1084.7 651.1h2.9v2.8h-2.9zM1093.4 651.1h2.9v2.8h-2.9zM1023.8 653.9h5.8v2.8h-5.8zM1084.7 653.9h2.9v2.8h-2.9zM1093.4 653.9h5.8v2.8h-5.8zM1023.8 656.7h2.9v2.8h-2.9zM1081.8 656.7h5.8v2.8h-5.8zM1093.4 656.7h5.8v2.8h-5.8zM1081.8 659.6h11.6v2.8h-11.6zM1020.9 662.4h2.9v2.8h-2.9zM1096.3 662.4h2.9v2.8h-2.9zM1020.9 665.2h2.9v2.8h-2.9zM1076.0 665.2h2.9v2.8h-2.9zM1081.8 665.2h2.9v2.8h-2.9zM1087.6 665.2h2.9v2.8h-2.9zM1078.9 668.1h11.6v2.8h-11.6zM1073.1 670.9h2.9v2.8h-2.9zM1078.9 670.9h2.9v2.8h-2.9zM1084.7 670.9h2.9v2.8h-2.9zM1070.2 673.8h8.7v2.8h-8.7zM1084.7 673.8h2.9v2.8h-2.9zM1026.7 676.6h5.8v2.8h-5.8zM1067.3 676.6h2.9v2.8h-2.9zM1076.0 676.6h2.9v2.8h-2.9zM1081.8 676.6h2.9v2.8h-2.9zM1023.8 679.4h2.9v2.8h-2.9zM1049.9 679.4h5.8v2.8h-5.8zM1076.0 679.4h2.9v2.8h-2.9zM1084.7 679.4h2.9v2.8h-2.9zM1035.4 682.3h5.8v2.8h-5.8zM1044.1 682.3h11.6v2.8h-11.6zM1058.6 682.3h2.9v2.8h-2.9z"/>
<path fill="rgb(58,255,28)" d="M1044.1 636.9h2.9v2.8h-2.9zM1058.6 636.9h8.7v2.8h-8.7zM1032.5 639.7h2.9v2.8h-2.9zM1049.9 639.7h2.9v2.8h-2.9zM1058.6 639.7h2.9v2.8h-2.9zM1032.5 642.5h2.9v2.8h-2.9zM1038.3 642.5h8.7v2.8h-8.7zM1058.6 642.5h2.9v2.8h-2.9zM1076.0 642.5h2.9v2.8h-2.9zM1081.8 642.5h2.9v2.8h-2.9zM1023.8 645.4h5.8v2.8h-5.8zM1058.6 645.4h5.8v2.8h-5.8zM1070.2 645.4h2.9v2.8h-2.9zM1081.8 645.4h2.9v2.8h-2.9zM1070.2 648.2h2.9v2.8h-2.9zM1087.6 648.2h8.7v2.8h-8.7zM1023.8 651.1h2.9v2.8h-2.9zM1070.2 651.1h2.9v2.8h-2.9zM1076.0 651.1h2.9v2.8h-2.9zM1081.8 651.1h2.9v2.8h-2.9zM1029.6 653.9h2.9v2.8h-2.9zM1073.1 653.9h2.9v2.8h-2.9zM1078.9 653.9h5.8v2.8h-5.8zM1087.6 653.9h5.8v2.8h-5.8zM1078.9 656.7h2.9v2.8h-2.9zM1078.9 659.6h2.9v2.8h-2.9zM1078.9 662.4h2.9v2.8h-2.9zM1078.9 665.2h2.9v2.8h-2.9zM1076.0 668.1h2.9v2.8h-2.9zM1076.0 670.9h2.9v2.8h-2.9zM1023.8 673.8h2.9v2.8h-2.9zM1067.3 673.8h2.9v2.8h-2.9zM1064.4 676.6h2.9v2.8h-2.9zM1078.9 676.6h2.9v2.8h-2.9zM1084.7 676.6h2.9v2.8h-2.9zM1032.5 679.4h2.9v2.8h-2.9zM1058.6 679.4h2.9v2.8h-2.9zM1041.2 682.3h2.9v2.8h-2.9z"/>
<path fill="rgb(101,255,5)" d="M1052.8 636.9h5.8v2.8h-5.8zM1052.8 639.7h2.9v2.8h-2.9zM1029.6 642.5h2.9v2.8h-2.9zM1049.9 642.5h2.9v2.8h-2.9zM1078.9 642.5h2.9v2.8h-2.9zM1032.5 645.4h5.8v2.8h-5.8zM1049.9 645.4h5.8v2.8h-5.8zM1064.4 645.4h2.9v2.8h-2.9zM1076.0 645.4h5.8v2.8h-5.8zM1026.7 648.2h2.9v2.8h-2.9zM1035.4 648.2h2.9v2.8h-2.9zM1041.2 648.2h8.7v2.8h-8.7zM1058.6 648.2h8.7v2.8h-8.7zM1073.1 648.2h5.8v2.8h-5.8zM1081.8 648.2h5.8v2.8h-5.8zM1035.4 651.1h2.9v2.8h-2.9zM1041.2 651.1h8.7v2.8h-8.7zM1064.4 651.1h2.9v2.8h-2.9zM1073.1 651.1h2.9v2.8h-2.9zM1087.6 651.1h5.8v2.8h-5.8zM1032.5 653.9h2.9v2.8h-2.9zM1076.0 653.9h2.9v2.8h-2.9zM1026.7 656.7h5.8v2.8h-5.8zM1073.1 656.7h2.9v2.8h-2.9zM1020.9 659.6h5.8v2.8h-5.8zM1067.3 659.6h5.8v2.8h-5.8zM1023.8 662.4h2.9v2.8h-2.9zM1070.2 662.4h5.8v2.8h-5.8zM1081.8 662.4h2.9v2.8h-2.9zM1067.3 665.2h2.9v2.8h-2.9zM1084.7 665.2h2.9v2.8h-2.9zM1023.8 668.1h2.9v2.8h-2.9zM1067.3 668.1h8.7v2.8h-8.7zM1070.2 670.9h2.9v2.8h-2.9zM1026.7 673.8h5.8v2.8h-5.8zM1049.9 676.6h14.5v2.8h-14.5zM1035.4 679.4h2.9v2.8h-2.9zM1041.2 679.4h8.7v2.8h-8.7zM1055.7 679.4h2.9v2.8h-2.9z"/>
<path fill="rgb(167,255,0)" d="M1055.7 639.7h2.9v2.8h-2.9zM1052.8 642.5h5.8v2.8h-5.8zM1055.7 645.4h2.9v2.8h-2.9zM1052.8 648.2h2.9v2.8h-2.9zM1038.3 651.1h2.9v2.8h-2.9zM1049.9 651.1h2.9v2.8h-2.9zM1067.3 651.1h2.9v2.8h-2.9zM1035.4 653.9h2.9v2.8h-2.9zM1067.3 653.9h5.8v2.8h-5.8zM1032.5 656.7h2.9v2.8h-2.9zM1067.3 656.7h5.8v2.8h-5.8zM1076.0 656.7h2.9v2.8h-2.9zM1026.7 659.6h2.9v2.8h-2.9zM1073.1 659.6h5.8v2.8h-5.8zM1067.3 662.4h2.9v2.8h-2.9zM1076.0 662.4h2.9v2.8h-2.9zM1023.8 665.2h5.8v2.8h-5.8zM1070.2 665.2h2.9v2.8h-2.9zM1026.7 668.1h2.9v2.8h-2.9zM1023.8 670.9h5.8v2.8h-5.8zM1058.6 670.9h11.6v2.8h-11.6zM1064.4 673.8h2.9v2.8h-2.9zM1032.5 676.6h8.7v2.8h-8.7zM1047.0 676.6h2.9v2.8h-2.9zM1038.3 679.4h2.9v2.8h-2.9z"/>
<path fill="rgb(238,255,0)" d="M1049.9 648.2h2.9v2.8h-2.9zM1055.7 648.2h2.9v2.8h-2.9zM1061.5 651.1h2.9v2.8h-2.9zM1038.3 653.9h5.8v2.8h-5.8zM1047.0 653.9h2.9v2.8h-2.9zM1047.0 656.7h2.9v2.8h-2.9zM1064.4 656.7h2.9v2.8h-2.9zM1029.6 659.6h5.8v2.8h-5.8zM1026.7 662.4h5.8v2.8h-5.8zM1064.4 665.2h2.9v2.8h-2.9zM1073.1 665.2h2.9v2.8h-2.9zM1032.5 673.8h2.9v2.8h-2.9zM1041.2 673.8h5.8v2.8h-5.8zM1049.9 673.8h14.5v2.8h-14.5zM1041.2 676.6h5.8v2.8h-5.8z"/>
<path fill="rgb(255,218,0)" d="M1052.8 651.1h8.7v2.8h-8.7zM1044.1 653.9h2.9v2.8h-2.9zM1049.9 653.9h11.6v2.8h-11.6zM1064.4 653.9h2.9v2.8h-2.9zM1035.4 656.7h11.6v2.8h-11.6zM1064.4 659.6h2.9v2.8h-2.9zM1032.5 662.4h2.9v2.8h-2.9zM1064.4 662.4h2.9v2.8h-2.9zM1029.6 665.2h2.9v2.8h-2.9zM1061.5 665.2h2.9v2.8h-2.9zM1029.6 668.1h2.9v2.8h-2.9zM1058.6 668.1h8.7v2.8h-8.7zM1029.6 670.9h2.9v2.8h-2.9zM1055.7 670.9h2.9v2.8h-2.9zM1035.4 673.8h5.8v2.8h-5.8zM1047.0 673.8h2.9v2.8h-2.9z"/>
<path fill="rgb(255,170,0)" d="M1061.5 653.9h2.9v2.8h-2.9zM1049.9 656.7h8.7v2.8h-8.7zM1061.5 656.7h2.9v2.8h-2.9zM1035.4 659.6h5.8v2.8h-5.8zM1061.5 659.6h2.9v2.8h-2.9zM1061.5 662.4h2.9v2.8h-2.9zM1032.5 665.2h2.9v2.8h-2.9zM1058.6 665.2h2.9v2.8h-2.9zM1032.5 670.9h5.8v2.8h-5.8zM1041.2 670.9h5.8v2.8h-5.8zM1049.9 670.9h5.8v2.8h-5.8z"/>
<path fill="rgb(255,118,0)" d="M1058.6 656.7h2.9v2.8h-2.9zM1041.2 659.6h8.7v2.8h-8.7zM1058.6 659.6h2.9v2.8h-2.9zM1035.4 662.4h2.9v2.8h-2.9zM1058.6 662.4h2.9v2.8h-2.9zM1035.4 665.2h2.9v2.8h-2.9zM1032.5 668.1h5.8v2.8h-5.8zM1055.7 668.1h2.9v2.8h-2.9zM1038.3 670.9h2.9v2.8h-2.9zM1047.0 670.9h2.9v2.8h-2.9z"/>
<path fill="rgb(255,59,0)" d="M1049.9 659.6h8.7v2.8h-8.7zM1038.3 662.4h8.7v2.8h-8.7zM1055.7 662.4h2.9v2.8h-2.9zM1038.3 665.2h2.9v2.8h-2.9zM1055.7 665.2h2.9v2.8h-2.9zM1047.0 668.1h2.9v2.8h-2.9zM1052.8 668.1h2.9v2.8h-2.9z"/>
<path fill="rgb(255,0,0)" d="M1047.0 662.4h8.7v2.8h-8.7zM1041.2 665.2h14.5v2.8h-14.5zM1038.3 668.1h8.7v2.8h-8.7zM1049.9 668.1h2.9v2.8h-2.9z"/>
<path fill="rgb(0,0,255)" d="M2230.5 330.3h2.5v2.4h-2.5zM1858.0 333.2h2.5v2.4h-2.5zM2053.0 344.5h2.5v2.4h-2.5zM2131.6 344.5h2.5v2.4h-2.5zM2253.8 344.5h2.5v2.4h-2.5zM1805.6 347.4h2.5v2.4h-2.5zM1831.8 353.1h2.5v2.4h-2.5zM1936.6 358.7h2.5v2.4h-2.5zM2018.1 364.4h2.5v2.4h-2.5zM1895.9 370.1h2.5v2.4h-2.5zM2085.0 372.9h2.5v2.4h-2.5zM1849.3 375.8h2.5v2.4h-2.5zM1817.3 378.6h2.5v2.4h-2.5zM2015.2 378.6h2.5v2.4h-2.5zM1791.1 381.5h2.5v2.4h-2.5zM2012.3 381.5h5.4v2.4h-5.4zM2169.4 384.3h2.5v2.4h-2.5zM2067.6 387.1h2.5v2.4h-2.5zM2073.4 387.1h2.5v2.4h-2.5zM2079.2 387.1h2.5v2.4h-2.5zM2111.2 387.1h2.5v2.4h-2.5zM1957.0 390.0h2.5v2.4h-2.5zM2032.6 390.0h2.5v2.4h-2.5zM2102.5 390.0h5.4v2.4h-5.4zM2160.7 390.0h2.5v2.4h-2.5zM1788.2 392.8h2.5v2.4h-2.5zM1796.9 392.8h2.5v2.4h-2.5zM1802.7 392.8h2.5v2.4h-2.5zM2035.5 392.8h2.5v2.4h-2.5zM2070.5 392.8h2.5v2.4h-2.5zM2096.7 392.8h2.5v2.4h-2.5zM1794.0 395.7h2.5v2.4h-2.5zM1817.3 395.7h2.5v2.4h-2.5zM1936.6 395.7h2.5v2.4h-2.5zM2029.7 395.7h2.5v2.4h-2.5zM2082.1 395.7h2.5v2.4h-2.5zM1831.8 398.5h2.5v2.4h-2.5zM1855.1 398.5h2.5v2.4h-2.5zM1872.6 398.5h2.5v2.4h-2.5zM1910.4 398.5h2.5v2.4h-2.5zM2000.6 398.5h2.5v2.4h-2.5zM2006.4 398.5h2.5v2.4h-2.5zM2026.8 398.5h2.5v2.4h-2.5zM2064.6 398.5h2.5v2.4h-2.5zM2085.0 398.5h2.5v2.4h-2.5zM2184.0 398.5h5.4v2.4h-5.4zM1788.2 401.3h2.5v2.4h-2.5zM1802.7 401.3h2.5v2.4h-2.5zM1869.7 401.3h2.5v2.4h-2.5zM1884.2 401.3h2.5v2.4h-2.5zM1919.1 401.3h2.5v2.4h-2.5zM1986.1 401.3h2.5v2.4h-2.5zM2079.2 401.3h2.5v2.4h-2.5zM2093.7 401.3h2.5v2.4h-2.5zM2163.6 401.3h2.5v2.4h-2.5zM2169.4 401.3h2.5v2.4h-2.5zM1805.6 404.2h2.5v2.4h-2.5zM1826.0 404.2h2.5v2.4h-2.5zM1846.4 404.2h2.5v2.4h-2.5zM1939.5 404.2h2.5v2.4h-2.5zM1959.9 404.2h2.5v2.4h-2.5zM2044.3 404.2h2.5v2.4h-2.5zM2114.1 404.2h2.5v2.4h-2.5zM2186.9 404.2h2.5v2.4h-2.5zM1794.0 407.0h2.5v2.4h-2.5zM1817.3 407.0h5.4v2.4h-5.4zM1831.8 407.0h2.5v2.4h-2.5zM1846.4 407.0h2.5v2.4h-2.5zM1855.1 407.0h2.5v2.4h-2.5zM1866.8 407.0h2.5v2.4h-2.5zM1884.2 407.0h2.5v2.4h-2.5zM2018.1 407.0h2.5v2.4h-2.5zM2099.6 407.0h2.5v2.4h-2.5zM2114.1 407.0h2.5v2.4h-2.5zM2128.7 407.0h5.4v2.4h-5.4zM2178.1 407.0h2.5v2.4h-2.5zM1805.6 409.9h2.5v2.4h-2.5zM1828.9 409.9h2.5v2.4h-2.5zM1849.3 409.9h5.4v2.4h-5.4zM1866.8 409.9h2.5v2.4h-2.5zM1977.3 409.9h2.5v2.4h-2.5zM2012.3 409.9h2.5v2.4h-2.5zM2041.4 409.9h2.5v2.4h-2.5zM2067.6 409.9h2.5v2.4h-2.5zM2073.4 409.9h2.5v2.4h-2.5zM2154.9 409.9h2.5v2.4h-2.5zM2160.7 409.9h2.5v2.4h-2.5zM1785.3 412.7h2.5v2.4h-2.5zM1811.5 412.7h2.5v2.4h-2.5zM1828.9 412.7h2.5v2.4h-2.5zM1869.7 412.7h2.5v2.4h-2.5zM1878.4 412.7h5.4v2.4h-5.4zM1890.0 412.7h2.5v2.4h-2.5zM1945.3 412.7h2.5v2.4h-2.5zM1991.9 412.7h2.5v2.4h-2.5zM2041.4 412.7h2.5v2.4h-2.5zM2085.0 412.7h2.5v2.4h-2.5zM2093.7 412.7h2.5v2.4h-2.5zM2172.3 412.7h2.5v2.4h-2.5zM2213.1 412.7h2.5v2.4h-2.5zM1817.3 415.5h2.5v2.4h-2.5zM1843.5 415.5h2.5v2.4h-2.5zM1904.6 415.5h2.5v2.4h-2.5zM1977.3 415.5h2.5v2.4h-2.5zM1994.8 415.5h2.5v2.4h-2.5zM2023.9 415.5h2.5v2.4h-2.5zM2061.7 415.5h2.5v2.4h-2.5zM2070.5 415.5h2.5v2.4h-2.5zM2122.8 415.5h2.5v2.4h-2.5zM2143.2 415.5h2.5v2.4h-2.5zM2169.4 415.5h5.4v2.4h-5.4zM1805.6 418.4h2.5v2.4h-2.5zM1811.5 418.4h2.5v2.4h-2.5zM1872.6 418.4h2.5v2.4h-2.5zM1890.0 418.4h2.5v2.4h-2.5zM1945.3 418.4h2.5v2.4h-2.5zM1974.4 418.4h2.5v2.4h-2.5zM1983.2 418.4h5.4v2.4h-5.4zM2003.5 418.4h2.5v2.4h-2.5zM2073.4 418.4h2.5v2.4h-2.5zM2082.1 418.4h5.4v2.4h-5.4zM2140.3 418.4h5.4v2.4h-5.4zM2175.2 418.4h2.5v2.4h-2.5zM1791.1 421.2h2.5v2.4h-2.5zM1799.8 421.2h2.5v2.4h-2.5zM1855.1 421.2h2.5v2.4h-2.5zM1898.8 421.2h2.5v2.4h-2.5zM1951.1 421.2h2.5v2.4h-2.5zM1983.2 421.2h2.5v2.4h-2.5zM2015.2 421.2h2.5v2.4h-2.5zM2029.7 421.2h5.4v2.4h-5.4zM2053.0 421.2h2.5v2.4h-2.5zM2140.3 421.2h2.5v2.4h-2.5zM2160.7 421.2h2.5v2.4h-2.5zM2184.0 421.2h2.5v2.4h-2.5zM1831.8 424.1h5.4v2.4h-5.4zM1852.2 424.1h2.5v2.4h-2.5zM1884.2 424.1h2.5v2.4h-2.5zM1933.7 424.1h2.5v2.4h-2.5zM1942.4 424.1h2.5v2.4h-2.5zM1957.0 424.1h2.5v2.4h-2.5zM1965.7 424.1h2.5v2.4h-2.5zM1986.1 424.1h2.5v2.4h-2.5zM2023.9 424.1h2.5v2.4h-2.5zM2032.6 424.1h2.5v2.4h-2.5zM2050.1 424.1h5.4v2.4h-5.4zM2096.7 424.1h2.5v2.4h-2.5zM2122.8 424.1h2.5v2.4h-2.5zM2134.5 424.1h2.5v2.4h-2.5zM2143.2 424.1h2.5v2.4h-2.5zM2181.1 424.1h2.5v2.4h-2.5zM1805.6 426.9h2.5v2.4h-2.5zM1820.2 426.9h2.5v2.4h-2.5zM1843.5 426.9h2.5v2.4h-2.5zM1855.1 426.9h2.5v2.4h-2.5zM1860.9 426.9h2.5v2.4h-2.5zM1878.4 426.9h2.5v2.4h-2.5zM1895.9 426.9h2.5v2.4h-2.5zM1907.5 426.9h2.5v2.4h-2.5zM1948.2 426.9h2.5v2.4h-2.5zM1959.9 426.9h2.5v2.4h-2.5zM2021.0 426.9h2.5v2.4h-2.5zM2064.6 426.9h2.5v2.4h-2.5zM2073.4 426.9h2.5v2.4h-2.5zM2082.1 426.9h2.5v2.4h-2.5zM2087.9 426.9h2.5v2.4h-2.5zM2125.8 426.9h5.4v2.4h-5.4zM2146.1 426.9h2.5v2.4h-2.5zM2151.9 426.9h2.5v2.4h-2.5zM2169.4 426.9h2.5v2.4h-2.5zM2175.2 426.9h2.5v2.4h-2.5zM1782.4 429.7h2.5v2.4h-2.5zM1791.1 429.7h5.4v2.4h-5.4zM1805.6 429.7h2.5v2.4h-2.5zM1823.1 429.7h2.5v2.4h-2.5zM1834.7 429.7h2.5v2.4h-2.5zM1849.3 429.7h2.5v2.4h-2.5zM1860.9 429.7h2.5v2.4h-2.5zM1866.8 429.7h2.5v2.4h-2.5zM1875.5 429.7h2.5v2.4h-2.5zM1884.2 429.7h2.5v2.4h-2.5zM1892.9 429.7h5.4v2.4h-5.4zM1942.4 429.7h2.5v2.4h-2.5zM1986.1 429.7h2.5v2.4h-2.5zM2003.5 429.7h2.5v2.4h-2.5zM2044.3 429.7h2.5v2.4h-2.5zM2053.0 429.7h2.5v2.4h-2.5zM2070.5 429.7h8.3v2.4h-8.3zM2111.2 429.7h2.5v2.4h-2.5zM2119.9 429.7h2.5v2.4h-2.5zM2134.5 429.7h2.5v2.4h-2.5zM2178.1 429.7h2.5v2.4h-2.5zM2184.0 429.7h2.5v2.4h-2.5zM2192.7 429.7h2.5v2.4h-2.5zM1776.5 432.6h2.5v2.4h-2.5zM1811.5 432.6h8.3v2.4h-8.3zM1826.0 432.6h2.5v2.4h-2.5zM1846.4 432.6h2.5v2.4h-2.5zM1855.1 432.6h2.5v2.4h-2.5zM1878.4 432.6h2.5v2.4h-2.5zM1913.3 432.6h2.5v2.4h-2.5zM1945.3 432.6h2.5v2.4h-2.5zM1951.1 432.6h2.5v2.4h-2.5zM1957.0 432.6h2.5v2.4h-2.5zM1965.7 432.6h2.5v2.4h-2.5zM1980.3 432.6h2.5v2.4h-2.5zM1986.1 432.6h2.5v2.4h-2.5zM2012.3 432.6h2.5v2.4h-2.5zM2018.1 432.6h2.5v2.4h-2.5zM2029.7 432.6h2.5v2.4h-2.5zM2044.3 432.6h2.5v2.4h-2.5zM2058.8 432.6h5.4v2.4h-5.4zM2070.5 432.6h2.5v2.4h-2.5zM2079.2 432.6h5.4v2.4h-5.4zM2093.7 432.6h2.5v2.4h-2.5zM2108.3 432.6h2.5v2.4h-2.5zM2117.0 432.6h2.5v2.4h-2.5zM2128.7 432.6h2.5v2.4h-2.5zM2137.4 432.6h2.5v2.4h-2.5zM2151.9 432.6h5.4v2.4h-5.4zM2186.9 432.6h2.5v2.4h-2.5zM1799.8 435.4h2.5v2.4h-2.5zM1805.6 435.4h2.5v2.4h-2.5zM1811.5 435.4h2.5v2.4h-2.5zM1834.7 435.4h5.4v2.4h-5.4zM1843.5 435.4h11.2v2.4h-11.2zM1858.0 435.4h8.3v2.4h-8.3zM1869.7 435.4h2.5v2.4h-2.5zM1881.3 435.4h2.5v2.4h-2.5zM1895.9 435.4h2.5v2.4h-2.5zM1907.5 435.4h2.5v2.4h-2.5zM1930.8 435.4h2.5v2.4h-2.5zM1936.6 435.4h2.5v2.4h-2.5zM1959.9 435.4h2.5v2.4h-2.5zM2032.6 435.4h2.5v2.4h-2.5zM2044.3 435.4h2.5v2.4h-2.5zM2055.9 435.4h8.3v2.4h-8.3zM2067.6 435.4h8.3v2.4h-8.3zM2105.4 435.4h2.5v2.4h-2.5zM2131.6 435.4h5.4v2.4h-5.4zM2151.9 435.4h2.5v2.4h-2.5zM2157.8 435.4h2.5v2.4h-2.5zM1779.5 438.3h8.3v2.4h-8.3zM1808.6 438.3h2.5v2.4h-2.5zM1828.9 438.3h2.5v2.4h-2.5zM1834.7 438.3h2.5v2.4h-2.5zM1843.5 438.3h2.5v2.4h-2.5zM1849.3 438.3h8.3v2.4h-8.3zM1913.3 438.3h2.5v2.4h-2.5zM1927.9 438.3h2.5v2.4h-2.5zM1933.7 438.3h2.5v2.4h-2.5zM1951.1 438.3h2.5v2.4h-2.5zM1968.6 438.3h2.5v2.4h-2.5zM1986.1 438.3h2.5v2.4h-2.5zM2006.4 438.3h2.5v2.4h-2.5zM2012.3 438.3h2.5v2.4h-2.5zM2021.0 438.3h2.5v2.4h-2.5zM2026.8 438.3h2.5v2.4h-2.5zM2044.3 438.3h5.4v2.4h-5.4zM2058.8 438.3h2.5v2.4h-2.5zM2090.8 438.3h5.4v2.4h-5.4zM2114.1 438.3h2.5v2.4h-2.5zM2122.8 438.3h2.5v2.4h-2.5zM2137.4 438.3h5.4v2.4h-5.4zM2154.9 438.3h2.5v2.4h-2.5zM2166.5 438.3h2.5v2.4h-2.5zM2172.3 438.3h5.4v2.4h-5.4zM2186.9 438.3h5.4v2.4h-5.4zM1799.8 441.1h2.5v2.4h-2.5zM1808.6 441.1h5.4v2.4h-5.4zM1843.5 441.1h8.3v2.4h-8.3zM1855.1 441.1h2.5v2.4h-2.5zM1866.8 441.1h2.5v2.4h-2.5zM1875.5 441.1h2.5v2.4h-2.5zM1887.1 441.1h5.4v2.4h-5.4zM1922.0 441.1h2.5v2.4h-2.5zM1942.4 441.1h2.5v2.4h-2.5zM1948.2 441.1h2.5v2.4h-2.5zM1954.1 441.1h5.4v2.4h-5.4zM1965.7 441.1h5.4v2.4h-5.4zM2018.1 441.1h2.5v2.4h-2.5zM2041.4 441.1h5.4v2.4h-5.4zM2050.1 441.1h2.5v2.4h-2.5zM2058.8 441.1h2.5v2.4h-2.5zM2067.6 441.1h5.4v2.4h-5.4zM2079.2 441.1h5.4v2.4h-5.4zM2099.6 441.1h8.3v2.4h-8.3zM2119.9 441.1h5.4v2.4h-5.4zM2143.2 441.1h8.3v2.4h-8.3zM2166.5 441.1h2.5v2.4h-2.5zM2175.2 441.1h2.5v2.4h-2.5zM1779.5 443.9h2.5v2.4h-2.5zM1796.9 443.9h2.5v2.4h-2.5zM1805.6 443.9h5.4v2.4h-5.4zM1817.3 443.9h2.5v2.4h-2.5zM1823.1 443.9h2.5v2.4h-2.5zM1828.9 443.9h2.5v2.4h-2.5zM1855.1 443.9h5.4v2.4h-5.4zM1869.7 443.9h2.5v2.4h-2.5zM1878.4 443.9h2.5v2.4h-2.5zM1884.2 443.9h2.5v2.4h-2.5zM1901.7 443.9h2.5v2.4h-2.5zM1930.8 443.9h2.5v2.4h-2.5zM1942.4 443.9h2.5v2.4h-2.5zM1959.9 443.9h5.4v2.4h-5.4zM1983.2 443.9h2.5v2.4h-2.5zM2018.1 443.9h2.5v2.4h-2.5zM2023.9 443.9h2.5v2.4h-2.5zM2032.6 443.9h2.5v2.4h-2.5zM2053.0 443.9h2.5v2.4h-2.5zM2073.4 443.9h5.4v2.4h-5.4zM2087.9 443.9h5.4v2.4h-5.4zM2096.7 443.9h2.5v2.4h-2.5zM2108.3 443.9h2.5v2.4h-2.5zM2128.7 443.9h2.5v2.4h-2.5zM2137.4 443.9h2.5v2.4h-2.5zM2146.1 443.9h2.5v2.4h-2.5zM2154.9 443.9h2.5v2.4h-2.5zM2181.1 443.9h2.5v2.4h-2.5zM2189.8 443.9h2.5v2.4h-2.5zM2195.6 443.9h2.5v2.4h-2.5zM1770.7 446.8h2.5v2.4h-2.5zM1776.5 446.8h2.5v2.4h-2.5zM1785.3 446.8h2.5v2.4h-2.5zM1808.6 446.8h2.5v2.4h-2.5zM1858.0 446.8h2.5v2.4h-2.5zM1866.8 446.8h2.5v2.4h-2.5zM1872.6 446.8h2.5v2.4h-2.5zM1878.4 446.8h5.4v2.4h-5.4zM1890.0 446.8h2.5v2.4h-2.5zM1910.4 446.8h2.5v2.4h-2.5zM1922.0 446.8h2.5v2.4h-2.5zM1948.2 446.8h2.5v2.4h-2.5zM1965.7 446.8h2.5v2.4h-2.5zM1986.1 446.8h2.5v2.4h-2.5zM1991.9 446.8h2.5v2.4h-2.5zM2021.0 446.8h5.4v2.4h-5.4zM2032.6 446.8h2.5v2.4h-2.5zM2061.7 446.8h2.5v2.4h-2.5zM2073.4 446.8h5.4v2.4h-5.4zM2119.9 446.8h2.5v2.4h-2.5zM2134.5 446.8h2.5v2.4h-2.5zM2157.8 446.8h2.5v2.4h-2.5zM1782.4 449.6h2.5v2.4h-2.5zM1796.9 449.6h2.5v2.4h-2.5zM1802.7 449.6h2.5v2.4h-2.5zM1814.4 449.6h5.4v2.4h-5.4zM1823.1 449.6h2.5v2.4h-2.5zM1837.7 449.6h8.3v2.4h-8.3zM1878.4 449.6h2.5v2.4h-2.5zM1887.1 449.6h2.5v2.4h-2.5zM1892.9 449.6h8.3v2.4h-8.3zM1925.0 449.6h11.2v2.4h-11.2zM1939.5 449.6h2.5v2.4h-2.5zM1945.3 449.6h2.5v2.4h-2.5zM1957.0 449.6h2.5v2.4h-2.5zM1971.5 449.6h5.4v2.4h-5.4zM1989.0 449.6h2.5v2.4h-2.5zM1994.8 449.6h5.4v2.4h-5.4zM2006.4 449.6h2.5v2.4h-2.5zM2026.8 449.6h2.5v2.4h-2.5zM2032.6 449.6h2.5v2.4h-2.5zM2041.4 449.6h5.4v2.4h-5.4zM2053.0 449.6h2.5v2.4h-2.5zM2070.5 449.6h2.5v2.4h-2.5zM2076.3 449.6h5.4v2.4h-5.4zM2087.9 449.6h14.2v2.4h-14.2zM2108.3 449.6h5.4v2.4h-5.4zM2117.0 449.6h2.5v2.4h-2.5zM2122.8 449.6h2.5v2.4h-2.5zM2128.7 449.6h2.5v2.4h-2.5zM2146.1 449.6h5.4v2.4h-5.4zM2154.9 449.6h5.4v2.4h-5.4zM2181.1 449.6h2.5v2.4h-2.5zM1782.4 452.5h2.5v2.4h-2.5zM1796.9 452.5h2.5v2.4h-2.5zM1805.6 452.5h2.5v2.4h-2.5zM1814.4 452.5h5.4v2.4h-5.4zM1831.8 452.5h2.5v2.4h-2.5zM1837.7 452.5h2.5v2.4h-2.5zM1849.3 452.5h5.4v2.4h-5.4zM1858.0 452.5h2.5v2.4h-2.5zM1863.8 452.5h2.5v2.4h-2.5zM1872.6 452.5h5.4v2.4h-5.4zM1881.3 452.5h2.5v2.4h-2.5zM1887.1 452.5h2.5v2.4h-2.5zM1916.2 452.5h5.4v2.4h-5.4zM1925.0 452.5h2.5v2.4h-2.5zM1933.7 452.5h2.5v2.4h-2.5zM1948.2 452.5h2.5v2.4h-2.5zM1980.3 452.5h2.5v2.4h-2.5zM2038.5 452.5h5.4v2.4h-5.4zM2053.0 452.5h2.5v2.4h-2.5zM2058.8 452.5h2.5v2.4h-2.5zM2070.5 452.5h2.5v2.4h-2.5zM2085.0 452.5h5.4v2.4h-5.4zM2096.7 452.5h2.5v2.4h-2.5zM2111.2 452.5h2.5v2.4h-2.5zM2119.9 452.5h2.5v2.4h-2.5zM2134.5 452.5h5.4v2.4h-5.4zM2154.9 452.5h2.5v2.4h-2.5zM2163.6 452.5h2.5v2.4h-2.5zM2169.4 452.5h2.5v2.4h-2.5zM2175.2 452.5h2.5v2.4h-2.5zM2198.5 452.5h2.5v2.4h-2.5zM1779.5 455.3h2.5v2.4h-2.5zM1799.8 455.3h5.4v2.4h-5.4zM1826.0 455.3h8.3v2.4h-8.3zM1843.5 455.3h2.5v2.4h-2.5zM1852.2 455.3h2.5v2.4h-2.5zM1860.9 455.3h2.5v2.4h-2.5zM1881.3 455.3h2.5v2.4h-2.5zM1890.0 455.3h2.5v2.4h-2.5zM1895.9 455.3h5.4v2.4h-5.4zM1922.0 455.3h2.5v2.4h-2.5zM1942.4 455.3h2.5v2.4h-2.5zM1957.0 455.3h2.5v2.4h-2.5zM1962.8 455.3h5.4v2.4h-5.4zM1983.2 455.3h2.5v2.4h-2.5zM2021.0 455.3h2.5v2.4h-2.5zM2032.6 455.3h2.5v2.4h-2.5zM2038.5 455.3h5.4v2.4h-5.4zM2047.2 455.3h2.5v2.4h-2.5zM2053.0 455.3h2.5v2.4h-2.5zM2061.7 455.3h2.5v2.4h-2.5zM2067.6 455.3h5.4v2.4h-5.4zM2090.8 455.3h8.3v2.4h-8.3zM2111.2 455.3h5.4v2.4h-5.4zM2119.9 455.3h2.5v2.4h-2.5zM2131.6 455.3h2.5v2.4h-2.5zM2143.2 455.3h2.5v2.4h-2.5zM2149.0 455.3h5.4v2.4h-5.4zM2157.8 455.3h8.3v2.4h-8.3zM2192.7 455.3h2.5v2.4h-2.5zM1779.5 458.1h5.4v2.4h-5.4zM1788.2 458.1h5.4v2.4h-5.4zM1802.7 458.1h2.5v2.4h-2.5zM1808.6 458.1h2.5v2.4h-2.5zM1817.3 458.1h5.4v2.4h-5.4zM1837.7 458.1h5.4v2.4h-5.4zM1846.4 458.1h5.4v2.4h-5.4zM1860.9 458.1h5.4v2.4h-5.4zM1875.5 458.1h2.5v2.4h-2.5zM1881.3 458.1h5.4v2.4h-5.4zM1892.9 458.1h2.5v2.4h-2.5zM1898.8 458.1h2.5v2.4h-2.5zM1910.4 458.1h2.5v2.4h-2.5zM1919.1 458.1h2.5v2.4h-2.5zM1927.9 458.1h2.5v2.4h-2.5zM1942.4 458.1h2.5v2.4h-2.5zM1959.9 458.1h2.5v2.4h-2.5zM1968.6 458.1h2.5v2.4h-2.5zM1974.4 458.1h2.5v2.4h-2.5zM1991.9 458.1h2.5v2.4h-2.5zM2006.4 458.1h2.5v2.4h-2.5zM2026.8 458.1h11.2v2.4h-11.2zM2044.3 458.1h8.3v2.4h-8.3zM2055.9 458.1h2.5v2.4h-2.5zM2070.5 458.1h2.5v2.4h-2.5zM2082.1 458.1h5.4v2.4h-5.4zM2114.1 458.1h2.5v2.4h-2.5zM2125.8 458.1h2.5v2.4h-2.5zM2131.6 458.1h2.5v2.4h-2.5zM2137.4 458.1h2.5v2.4h-2.5zM2143.2 458.1h2.5v2.4h-2.5zM2151.9 458.1h2.5v2.4h-2.5zM2160.7 458.1h11.2v2.4h-11.2zM2175.2 458.1h2.5v2.4h-2.5zM2201.4 458.1h2.5v2.4h-2.5zM1779.5 461.0h2.5v2.4h-2.5zM1817.3 461.0h5.4v2.4h-5.4zM1826.0 461.0h5.4v2.4h-5.4zM1837.7 461.0h2.5v2.4h-2.5zM1855.1 461.0h2.5v2.4h-2.5zM1860.9 461.0h5.4v2.4h-5.4zM1869.7 461.0h2.5v2.4h-2.5zM1878.4 461.0h2.5v2.4h-2.5zM1884.2 461.0h5.4v2.4h-5.4zM1907.5 461.0h2.5v2.4h-2.5zM1913.3 461.0h5.4v2.4h-5.4zM1933.7 461.0h5.4v2.4h-5.4zM1962.8 461.0h2.5v2.4h-2.5zM1991.9 461.0h2.5v2.4h-2.5zM2015.2 461.0h2.5v2.4h-2.5zM2041.4 461.0h2.5v2.4h-2.5zM2047.2 461.0h2.5v2.4h-2.5zM2067.6 461.0h2.5v2.4h-2.5zM2073.4 461.0h2.5v2.4h-2.5zM2082.1 461.0h2.5v2.4h-2.5zM2087.9 461.0h2.5v2.4h-2.5zM2093.7 461.0h2.5v2.4h-2.5zM2099.6 461.0h8.3v2.4h-8.3zM2125.8 461.0h2.5v2.4h-2.5zM2134.5 461.0h2.5v2.4h-2.5zM2146.1 461.0h2.5v2.4h-2.5zM2163.6 461.0h8.3v2.4h-8.3zM2175.2 461.0h2.5v2.4h-2.5zM1779.5 463.8h2.5v2.4h-2.5zM1794.0 463.8h5.4v2.4h-5.4zM1817.3 463.8h2.5v2.4h-2.5zM1831.8 463.8h2.5v2.4h-2.5zM1837.7 463.8h2.5v2.4h-2.5zM1869.7 463.8h8.3v2.4h-8.3zM1881.3 463.8h2.5v2.4h-2.5zM1890.0 463.8h5.4v2.4h-5.4zM1922.0 463.8h5.4v2.4h-5.4zM1939.5 463.8h2.5v2.4h-2.5zM1954.1 463.8h5.4v2.4h-5.4zM1974.4 463.8h2.5v2.4h-2.5zM1997.7 463.8h2.5v2.4h-2.5zM2009.4 463.8h2.5v2.4h-2.5zM2050.1 463.8h5.4v2.4h-5.4zM2061.7 463.8h2.5v2.4h-2.5zM2067.6 463.8h2.5v2.4h-2.5zM2073.4 463.8h2.5v2.4h-2.5zM2093.7 463.8h2.5v2.4h-2.5zM2099.6 463.8h2.5v2.4h-2.5zM2111.2 463.8h2.5v2.4h-2.5zM2119.9 463.8h2.5v2.4h-2.5zM2134.5 463.8h2.5v2.4h-2.5zM2143.2 463.8h2.5v2.4h-2.5zM2149.0 463.8h5.4v2.4h-5.4zM2157.8 463.8h5.4v2.4h-5.4zM1782.4 466.7h2.5v2.4h-2.5zM1796.9 466.7h2.5v2.4h-2.5zM1808.6 466.7h5.4v2.4h-5.4zM1823.1 466.7h2.5v2.4h-2.5zM1828.9 466.7h5.4v2.4h-5.4zM1837.7 466.7h2.5v2.4h-2.5zM1843.5 466.7h2.5v2.4h-2.5zM1849.3 466.7h5.4v2.4h-5.4zM1866.8 466.7h5.4v2.4h-5.4zM1875.5 466.7h2.5v2.4h-2.5zM1890.0 466.7h5.4v2.4h-5.4zM1898.8 466.7h2.5v2.4h-2.5zM1904.6 466.7h2.5v2.4h-2.5zM1910.4 466.7h2.5v2.4h-2.5zM1916.2 466.7h2.5v2.4h-2.5zM1925.0 466.7h5.4v2.4h-5.4zM1945.3 466.7h2.5v2.4h-2.5zM1962.8 466.7h2.5v2.4h-2.5zM1991.9 466.7h2.5v2.4h-2.5zM2000.6 466.7h5.4v2.4h-5.4zM2009.4 466.7h2.5v2.4h-2.5zM2026.8 466.7h2.5v2.4h-2.5zM2032.6 466.7h2.5v2.4h-2.5zM2050.1 466.7h5.4v2.4h-5.4zM2058.8 466.7h2.5v2.4h-2.5zM2067.6 466.7h2.5v2.4h-2.5zM2073.4 466.7h8.3v2.4h-8.3zM2090.8 466.7h14.2v2.4h-14.2zM2119.9 466.7h2.5v2.4h-2.5zM2125.8 466.7h2.5v2.4h-2.5zM2134.5 466.7h11.2v2.4h-11.2zM2163.6 466.7h2.5v2.4h-2.5zM2186.9 466.7h2.5v2.4h-2.5zM1776.5 469.5h2.5v2.4h-2.5zM1782.4 469.5h5.4v2.4h-5.4zM1794.0 469.5h2.5v2.4h-2.5zM1799.8 469.5h5.4v2.4h-5.4zM1808.6 469.5h2.5v2.4h-2.5zM1814.4 469.5h8.3v2.4h-8.3zM1826.0 469.5h2.5v2.4h-2.5zM1837.7 469.5h5.4v2.4h-5.4zM1858.0 469.5h5.4v2.4h-5.4zM1866.8 469.5h2.5v2.4h-2.5zM1878.4 469.5h2.5v2.4h-2.5zM1892.9 469.5h2.5v2.4h-2.5zM1913.3 469.5h2.5v2.4h-2.5zM1919.1 469.5h5.4v2.4h-5.4zM1927.9 469.5h2.5v2.4h-2.5zM1939.5 469.5h5.4v2.4h-5.4zM1957.0 469.5h2.5v2.4h-2.5zM1968.6 469.5h2.5v2.4h-2.5zM1974.4 469.5h2.5v2.4h-2.5zM1980.3 469.5h2.5v2.4h-2.5zM1994.8 469.5h2.5v2.4h-2.5zM2021.0 469.5h2.5v2.4h-2.5zM2029.7 469.5h2.5v2.4h-2.5zM2047.2 469.5h5.4v2.4h-5.4zM2058.8 469.5h2.5v2.4h-2.5zM2067.6 469.5h2.5v2.4h-2.5zM2087.9 469.5h2.5v2.4h-2.5zM2099.6 469.5h2.5v2.4h-2.5zM2105.4 469.5h2.5v2.4h-2.5zM2131.6 469.5h2.5v2.4h-2.5zM2137.4 469.5h5.4v2.4h-5.4zM2149.0 469.5h2.5v2.4h-2.5zM2154.9 469.5h2.5v2.4h-2.5zM2160.7 469.5h11.2v2.4h-11.2zM2175.2 469.5h2.5v2.4h-2.5zM1776.5 472.3h8.3v2.4h-8.3zM1788.2 472.3h2.5v2.4h-2.5zM1794.0 472.3h2.5v2.4h-2.5zM1802.7 472.3h2.5v2.4h-2.5zM1808.6 472.3h2.5v2.4h-2.5zM1817.3 472.3h2.5v2.4h-2.5zM1823.1 472.3h5.4v2.4h-5.4zM1834.7 472.3h8.3v2.4h-8.3zM1855.1 472.3h2.5v2.4h-2.5zM1869.7 472.3h2.5v2.4h-2.5zM1884.2 472.3h11.2v2.4h-11.2zM1916.2 472.3h5.4v2.4h-5.4zM1925.0 472.3h11.2v2.4h-11.2zM1945.3 472.3h2.5v2.4h-2.5zM1957.0 472.3h2.5v2.4h-2.5zM1965.7 472.3h5.4v2.4h-5.4zM1986.1 472.3h2.5v2.4h-2.5zM2018.1 472.3h2.5v2.4h-2.5zM2026.8 472.3h2.5v2.4h-2.5zM2032.6 472.3h5.4v2.4h-5.4zM2047.2 472.3h2.5v2.4h-2.5zM2070.5 472.3h2.5v2.4h-2.5zM2076.3 472.3h2.5v2.4h-2.5zM2082.1 472.3h5.4v2.4h-5.4zM2093.7 472.3h2.5v2.4h-2.5zM2099.6 472.3h2.5v2.4h-2.5zM2105.4 472.3h2.5v2.4h-2.5zM2111.2 472.3h2.5v2.4h-2.5zM2117.0 472.3h5.4v2.4h-5.4zM2137.4 472.3h5.4v2.4h-5.4zM2154.9 472.3h5.4v2.4h-5.4zM2166.5 472.3h5.4v2.4h-5.4zM1788.2 475.2h5.4v2.4h-5.4zM1796.9 475.2h2.5v2.4h-2.5zM1808.6 475.2h5.4v2.4h-5.4zM1817.3 475.2h8.3v2.4h-8.3zM1834.7 475.2h2.5v2.4h-2.5zM1840.6 475.2h2.5v2.4h-2.5zM1846.4 475.2h2.5v2.4h-2.5zM1855.1 475.2h2.5v2.4h-2.5zM1872.6 475.2h11.2v2.4h-11.2zM1890.0 475.2h2.5v2.4h-2.5zM1916.2 475.2h2.5v2.4h-2.5zM1939.5 475.2h5.4v2.4h-5.4zM1962.8 475.2h2.5v2.4h-2.5zM1980.3 475.2h5.4v2.4h-5.4zM2000.6 475.2h5.4v2.4h-5.4zM2021.0 475.2h2.5v2.4h-2.5zM2038.5 475.2h2.5v2.4h-2.5zM2055.9 475.2h5.4v2.4h-5.4zM2064.6 475.2h2.5v2.4h-2.5zM2079.2 475.2h2.5v2.4h-2.5zM2096.7 475.2h2.5v2.4h-2.5zM2108.3 475.2h2.5v2.4h-2.5zM2125.8 475.2h5.4v2.4h-5.4zM2140.3 475.2h2.5v2.4h-2.5zM2146.1 475.2h11.2v2.4h-11.2zM2169.4 475.2h2.5v2.4h-2.5zM2181.1 475.2h5.4v2.4h-5.4zM2192.7 475.2h2.5v2.4h-2.5zM1776.5 478.0h2.5v2.4h-2.5zM1785.3 478.0h2.5v2.4h-2.5zM1796.9 478.0h2.5v2.4h-2.5zM1805.6 478.0h2.5v2.4h-2.5zM1823.1 478.0h2.5v2.4h-2.5zM1831.8 478.0h2.5v2.4h-2.5zM1849.3 478.0h5.4v2.4h-5.4zM1858.0 478.0h2.5v2.4h-2.5zM1863.8 478.0h2.5v2.4h-2.5zM1869.7 478.0h8.3v2.4h-8.3zM1884.2 478.0h2.5v2.4h-2.5zM1904.6 478.0h2.5v2.4h-2.5zM1913.3 478.0h5.4v2.4h-5.4zM1922.0 478.0h2.5v2.4h-2.5zM1930.8 478.0h2.5v2.4h-2.5zM1945.3 478.0h5.4v2.4h-5.4zM1962.8 478.0h2.5v2.4h-2.5zM1971.5 478.0h2.5v2.4h-2.5zM1991.9 478.0h2.5v2.4h-2.5zM2000.6 478.0h2.5v2.4h-2.5zM2006.4 478.0h2.5v2.4h-2.5zM2012.3 478.0h2.5v2.4h-2.5zM2026.8 478.0h2.5v2.4h-2.5zM2038.5 478.0h8.3v2.4h-8.3zM2053.0 478.0h5.4v2.4h-5.4zM2064.6 478.0h2.5v2.4h-2.5zM2070.5 478.0h5.4v2.4h-5.4zM2079.2 478.0h2.5v2.4h-2.5zM2090.8 478.0h2.5v2.4h-2.5zM2102.5 478.0h5.4v2.4h-5.4zM2111.2 478.0h5.4v2.4h-5.4zM2128.7 478.0h5.4v2.4h-5.4zM2137.4 478.0h8.3v2.4h-8.3zM2149.0 478.0h2.5v2.4h-2.5zM2154.9 478.0h5.4v2.4h-5.4zM2178.1 478.0h2.5v2.4h-2.5zM2186.9 478.0h5.4v2.4h-5.4zM1799.8 480.9h2.5v2.4h-2.5zM1811.5 480.9h2.5v2.4h-2.5zM1820.2 480.9h8.3v2.4h-8.3zM1834.7 480.9h2.5v2.4h-2.5zM1840.6 480.9h2.5v2.4h-2.5zM1849.3 480.9h2.5v2.4h-2.5zM1855.1 480.9h2.5v2.4h-2.5zM1863.8 480.9h2.5v2.4h-2.5zM1875.5 480.9h8.3v2.4h-8.3zM1887.1 480.9h2.5v2.4h-2.5zM1892.9 480.9h5.4v2.4h-5.4zM1907.5 480.9h5.4v2.4h-5.4zM1930.8 480.9h2.5v2.4h-2.5zM1954.1 480.9h5.4v2.4h-5.4zM1971.5 480.9h2.5v2.4h-2.5zM1980.3 480.9h5.4v2.4h-5.4zM1989.0 480.9h5.4v2.4h-5.4zM1997.7 480.9h2.5v2.4h-2.5zM2006.4 480.9h2.5v2.4h-2.5zM2015.2 480.9h2.5v2.4h-2.5zM2029.7 480.9h2.5v2.4h-2.5zM2035.5 480.9h2.5v2.4h-2.5zM2047.2 480.9h2.5v2.4h-2.5zM2053.0 480.9h2.5v2.4h-2.5zM2058.8 480.9h2.5v2.4h-2.5zM2073.4 480.9h5.4v2.4h-5.4zM2082.1 480.9h5.4v2.4h-5.4zM2102.5 480.9h5.4v2.4h-5.4zM2117.0 480.9h2.5v2.4h-2.5zM2122.8 480.9h8.3v2.4h-8.3zM2140.3 480.9h2.5v2.4h-2.5zM2157.8 480.9h2.5v2.4h-2.5zM2169.4 480.9h2.5v2.4h-2.5zM2178.1 480.9h5.4v2.4h-5.4zM1788.2 483.7h2.5v2.4h-2.5zM1799.8 483.7h8.3v2.4h-8.3zM1814.4 483.7h2.5v2.4h-2.5zM1834.7 483.7h2.5v2.4h-2.5zM1846.4 483.7h5.4v2.4h-5.4zM1858.0 483.7h2.5v2.4h-2.5zM1881.3 483.7h2.5v2.4h-2.5zM1892.9 483.7h2.5v2.4h-2.5zM1898.8 483.7h2.5v2.4h-2.5zM1904.6 483.7h2.5v2.4h-2.5zM1913.3 483.7h2.5v2.4h-2.5zM1922.0 483.7h2.5v2.4h-2.5zM1930.8 483.7h2.5v2.4h-2.5zM1942.4 483.7h2.5v2.4h-2.5zM1954.1 483.7h2.5v2.4h-2.5zM1965.7 483.7h2.5v2.4h-2.5zM1991.9 483.7h2.5v2.4h-2.5zM2053.0 483.7h2.5v2.4h-2.5zM2061.7 483.7h2.5v2.4h-2.5zM2067.6 483.7h2.5v2.4h-2.5zM2082.1 483.7h5.4v2.4h-5.4zM2099.6 483.7h11.2v2.4h-11.2zM2125.8 483.7h5.4v2.4h-5.4zM2160.7 483.7h2.5v2.4h-2.5zM2166.5 483.7h5.4v2.4h-5.4zM2181.1 483.7h2.5v2.4h-2.5zM2192.7 483.7h2.5v2.4h-2.5zM1782.4 486.5h2.5v2.4h-2.5zM1796.9 486.5h2.5v2.4h-2.5zM1808.6 486.5h5.4v2.4h-5.4zM1820.2 486.5h5.4v2.4h-5.4zM1828.9 486.5h2.5v2.4h-2.5zM1843.5 486.5h2.5v2.4h-2.5zM1849.3 486.5h5.4v2.4h-5.4zM1858.0 486.5h2.5v2.4h-2.5zM1863.8 486.5h2.5v2.4h-2.5zM1869.7 486.5h2.5v2.4h-2.5zM1878.4 486.5h8.3v2.4h-8.3zM1904.6 486.5h2.5v2.4h-2.5zM1910.4 486.5h5.4v2.4h-5.4zM1927.9 486.5h2.5v2.4h-2.5zM1936.6 486.5h2.5v2.4h-2.5zM1945.3 486.5h2.5v2.4h-2.5zM1951.1 486.5h2.5v2.4h-2.5zM1957.0 486.5h2.5v2.4h-2.5zM1965.7 486.5h2.5v2.4h-2.5zM1983.2 486.5h2.5v2.4h-2.5zM1989.0 486.5h2.5v2.4h-2.5zM2003.5 486.5h2.5v2.4h-2.5zM2015.2 486.5h2.5v2.4h-2.5zM2021.0 486.5h2.5v2.4h-2.5zM2026.8 486.5h5.4v2.4h-5.4zM2038.5 486.5h5.4v2.4h-5.4zM2047.2 486.5h2.5v2.4h-2.5zM2055.9 486.5h8.3v2.4h-8.3zM2090.8 486.5h5.4v2.4h-5.4zM2099.6 486.5h17.1v2.4h-17.1zM2128.7 486.5h2.5v2.4h-2.5zM2137.4 486.5h5.4v2.4h-5.4zM2151.9 486.5h2.5v2.4h-2.5zM2160.7 486.5h2.5v2.4h-2.5zM2210.2 486.5h2.5v2.4h-2.5zM1785.3 489.4h2.5v2.4h-2.5zM1791.1 489.4h2.5v2.4h-2.5zM1796.9 489.4h2.5v2.4h-2.5zM1811.5 489.4h14.2v2.4h-14.2zM1828.9 489.4h2.5v2.4h-2.5zM1837.7 489.4h5.4v2.4h-5.4zM1846.4 489.4h2.5v2.4h-2.5zM1855.1 489.4h2.5v2.4h-2.5zM1866.8 489.4h2.5v2.4h-2.5zM1881.3 489.4h2.5v2.4h-2.5zM1887.1 489.4h5.4v2.4h-5.4zM1907.5 489.4h2.5v2.4h-2.5zM1925.0 489.4h2.5v2.4h-2.5zM1930.8 489.4h2.5v2.4h-2.5zM1942.4 489.4h5.4v2.4h-5.4zM1951.1 489.4h2.5v2.4h-2.5zM1959.9 489.4h2.5v2.4h-2.5zM1965.7 489.4h5.4v2.4h-5.4zM1997.7 489.4h5.4v2.4h-5.4zM2055.9 489.4h2.5v2.4h-2.5zM2085.0 489.4h8.3v2.4h-8.3zM2096.7 489.4h2.5v2.4h-2.5zM2102.5 489.4h2.5v2.4h-2.5zM2125.8 489.4h2.5v2.4h-2.5zM2137.4 489.4h2.5v2.4h-2.5zM2146.1 489.4h2.5v2.4h-2.5zM2154.9 489.4h2.5v2.4h-2.5zM2181.1 489.4h2.5v2.4h-2.5zM1788.2 492.2h11.2v2.4h-11.2zM1808.6 492.2h5.4v2.4h-5.4zM1820.2 492.2h2.5v2.4h-2.5zM1826.0 492.2h2.5v2.4h-2.5zM1831.8 492.2h2.5v2.4h-2.5zM1840.6 492.2h2.5v2.4h-2.5zM1849.3 492.2h2.5v2.4h-2.5zM1860.9 492.2h2.5v2.4h-2.5zM1869.7 492.2h2.5v2.4h-2.5zM1875.5 492.2h2.5v2.4h-2.5zM1881.3 492.2h5.4v2.4h-5.4zM1890.0 492.2h2.5v2.4h-2.5zM1898.8 492.2h5.4v2.4h-5.4zM1913.3 492.2h2.5v2.4h-2.5zM1945.3 492.2h8.3v2.4h-8.3zM1965.7 492.2h2.5v2.4h-2.5zM1977.3 492.2h2.5v2.4h-2.5zM2015.2 492.2h2.5v2.4h-2.5zM2038.5 492.2h5.4v2.4h-5.4zM2076.3 492.2h2.5v2.4h-2.5zM2108.3 492.2h2.5v2.4h-2.5zM2137.4 492.2h2.5v2.4h-2.5zM2146.1 492.2h5.4v2.4h-5.4zM2169.4 492.2h8.3v2.4h-8.3zM2192.7 492.2h2.5v2.4h-2.5zM1773.6 495.1h2.5v2.4h-2.5zM1785.3 495.1h11.2v2.4h-11.2zM1802.7 495.1h2.5v2.4h-2.5zM1826.0 495.1h8.3v2.4h-8.3zM1849.3 495.1h5.4v2.4h-5.4zM1858.0 495.1h14.2v2.4h-14.2zM1890.0 495.1h8.3v2.4h-8.3zM1907.5 495.1h2.5v2.4h-2.5zM1916.2 495.1h5.4v2.4h-5.4zM1927.9 495.1h5.4v2.4h-5.4zM1942.4 495.1h5.4v2.4h-5.4zM1951.1 495.1h2.5v2.4h-2.5zM1962.8 495.1h2.5v2.4h-2.5zM1989.0 495.1h5.4v2.4h-5.4zM2000.6 495.1h2.5v2.4h-2.5zM2006.4 495.1h2.5v2.4h-2.5zM2015.2 495.1h5.4v2.4h-5.4zM2023.9 495.1h2.5v2.4h-2.5zM2029.7 495.1h2.5v2.4h-2.5zM2041.4 495.1h8.3v2.4h-8.3zM2058.8 495.1h2.5v2.4h-2.5zM2067.6 495.1h5.4v2.4h-5.4zM2079.2 495.1h8.3v2.4h-8.3zM2090.8 495.1h2.5v2.4h-2.5zM2099.6 495.1h2.5v2.4h-2.5zM2108.3 495.1h8.3v2.4h-8.3zM2128.7 495.1h5.4v2.4h-5.4zM2140.3 495.1h5.4v2.4h-5.4zM2151.9 495.1h2.5v2.4h-2.5zM2166.5 495.1h2.5v2.4h-2.5zM1791.1 497.9h2.5v2.4h-2.5zM1796.9 497.9h2.5v2.4h-2.5zM1817.3 497.9h2.5v2.4h-2.5zM1823.1 497.9h2.5v2.4h-2.5zM1828.9 497.9h2.5v2.4h-2.5zM1843.5 497.9h5.4v2.4h-5.4zM1858.0 497.9h2.5v2.4h-2.5zM1869.7 497.9h2.5v2.4h-2.5zM1890.0 497.9h2.5v2.4h-2.5zM1907.5 497.9h2.5v2.4h-2.5zM1913.3 497.9h2.5v2.4h-2.5zM1922.0 497.9h2.5v2.4h-2.5zM1942.4 497.9h2.5v2.4h-2.5zM1957.0 497.9h11.2v2.4h-11.2zM1974.4 497.9h5.4v2.4h-5.4zM1991.9 497.9h8.3v2.4h-8.3zM2026.8 497.9h5.4v2.4h-5.4zM2038.5 497.9h2.5v2.4h-2.5zM2055.9 497.9h2.5v2.4h-2.5zM2070.5 497.9h8.3v2.4h-8.3zM2085.0 497.9h2.5v2.4h-2.5zM2090.8 497.9h2.5v2.4h-2.5zM2105.4 497.9h5.4v2.4h-5.4zM2114.1 497.9h2.5v2.4h-2.5zM2122.8 497.9h5.4v2.4h-5.4zM2154.9 497.9h2.5v2.4h-2.5zM2163.6 497.9h5.4v2.4h-5.4zM2175.2 497.9h2.5v2.4h-2.5zM2186.9 497.9h2.5v2.4h-2.5zM1770.7 500.7h5.4v2.4h-5.4zM1779.5 500.7h2.5v2.4h-2.5zM1791.1 500.7h5.4v2.4h-5.4zM1817.3 500.7h2.5v2.4h-2.5zM1846.4 500.7h2.5v2.4h-2.5zM1858.0 500.7h2.5v2.4h-2.5zM1863.8 500.7h5.4v2.4h-5.4zM1872.6 500.7h5.4v2.4h-5.4zM1884.2 500.7h2.5v2.4h-2.5zM1890.0 500.7h2.5v2.4h-2.5zM1916.2 500.7h2.5v2.4h-2.5zM1927.9 500.7h2.5v2.4h-2.5zM1942.4 500.7h5.4v2.4h-5.4zM1951.1 500.7h2.5v2.4h-2.5zM1983.2 500.7h2.5v2.4h-2.5zM1991.9 500.7h2.5v2.4h-2.5zM2015.2 500.7h5.4v2.4h-5.4zM2032.6 500.7h2.5v2.4h-2.5zM2044.3 500.7h2.5v2.4h-2.5zM2050.1 500.7h2.5v2.4h-2.5zM2064.6 500.7h2.5v2.4h-2.5zM2073.4 500.7h5.4v2.4h-5.4zM2093.7 500.7h5.4v2.4h-5.4zM2102.5 500.7h5.4v2.4h-5.4zM2111.2 500.7h5.4v2.4h-5.4zM2119.9 500.7h2.5v2.4h-2.5zM2125.8 500.7h2.5v2.4h-2.5zM2131.6 500.7h2.5v2.4h-2.5zM2137.4 500.7h5.4v2.4h-5.4zM2166.5 500.7h5.4v2.4h-5.4zM2184.0 500.7h2.5v2.4h-2.5zM1773.6 503.6h8.3v2.4h-8.3zM1785.3 503.6h2.5v2.4h-2.5zM1791.1 503.6h5.4v2.4h-5.4zM1802.7 503.6h5.4v2.4h-5.4zM1831.8 503.6h2.5v2.4h-2.5zM1837.7 503.6h5.4v2.4h-5.4zM1846.4 503.6h5.4v2.4h-5.4zM1855.1 503.6h2.5v2.4h-2.5zM1860.9 503.6h2.5v2.4h-2.5zM1872.6 503.6h5.4v2.4h-5.4zM1910.4 503.6h2.5v2.4h-2.5zM1942.4 503.6h2.5v2.4h-2.5zM1962.8 503.6h5.4v2.4h-5.4zM1983.2 503.6h2.5v2.4h-2.5zM1994.8 503.6h2.5v2.4h-2.5zM2018.1 503.6h2.5v2.4h-2.5zM2035.5 503.6h5.4v2.4h-5.4zM2067.6 503.6h5.4v2.4h-5.4zM2079.2 503.6h2.5v2.4h-2.5zM2085.0 503.6h5.4v2.4h-5.4zM2099.6 503.6h2.5v2.4h-2.5zM2105.4 503.6h8.3v2.4h-8.3zM2146.1 503.6h2.5v2.4h-2.5zM2151.9 503.6h2.5v2.4h-2.5zM2172.3 503.6h2.5v2.4h-2.5zM2184.0 503.6h5.4v2.4h-5.4zM1782.4 506.4h2.5v2.4h-2.5zM1791.1 506.4h5.4v2.4h-5.4zM1802.7 506.4h2.5v2.4h-2.5zM1823.1 506.4h5.4v2.4h-5.4zM1834.7 506.4h5.4v2.4h-5.4zM1860.9 506.4h2.5v2.4h-2.5zM1866.8 506.4h2.5v2.4h-2.5zM1872.6 506.4h2.5v2.4h-2.5zM1884.2 506.4h2.5v2.4h-2.5zM1895.9 506.4h11.2v2.4h-11.2zM1910.4 506.4h2.5v2.4h-2.5zM1922.0 506.4h11.2v2.4h-11.2zM1945.3 506.4h2.5v2.4h-2.5zM1951.1 506.4h2.5v2.4h-2.5zM1968.6 506.4h2.5v2.4h-2.5zM2003.5 506.4h2.5v2.4h-2.5zM2012.3 506.4h2.5v2.4h-2.5zM2018.1 506.4h2.5v2.4h-2.5zM2023.9 506.4h2.5v2.4h-2.5zM2035.5 506.4h5.4v2.4h-5.4zM2044.3 506.4h2.5v2.4h-2.5zM2050.1 506.4h2.5v2.4h-2.5zM2064.6 506.4h2.5v2.4h-2.5zM2073.4 506.4h2.5v2.4h-2.5zM2085.0 506.4h2.5v2.4h-2.5zM2090.8 506.4h2.5v2.4h-2.5zM2096.7 506.4h2.5v2.4h-2.5zM2102.5 506.4h2.5v2.4h-2.5zM2111.2 506.4h5.4v2.4h-5.4zM2125.8 506.4h2.5v2.4h-2.5zM2131.6 506.4h8.3v2.4h-8.3zM2157.8 506.4h5.4v2.4h-5.4zM2166.5 506.4h2.5v2.4h-2.5zM1779.5 509.3h2.5v2.4h-2.5zM1788.2 509.3h2.5v2.4h-2.5zM1794.0 509.3h2.5v2.4h-2.5zM1820.2 509.3h2.5v2.4h-2.5zM1834.7 509.3h5.4v2.4h-5.4zM1849.3 509.3h2.5v2.4h-2.5zM1855.1 509.3h11.2v2.4h-11.2zM1878.4 509.3h5.4v2.4h-5.4zM1887.1 509.3h2.5v2.4h-2.5zM1892.9 509.3h2.5v2.4h-2.5zM1898.8 509.3h8.3v2.4h-8.3zM1910.4 509.3h2.5v2.4h-2.5zM1916.2 509.3h2.5v2.4h-2.5zM1925.0 509.3h2.5v2.4h-2.5zM1930.8 509.3h8.3v2.4h-8.3zM1954.1 509.3h2.5v2.4h-2.5zM1959.9 509.3h2.5v2.4h-2.5zM1971.5 509.3h2.5v2.4h-2.5zM1986.1 509.3h2.5v2.4h-2.5zM2003.5 509.3h2.5v2.4h-2.5zM2026.8 509.3h2.5v2.4h-2.5zM2032.6 509.3h2.5v2.4h-2.5zM2044.3 509.3h2.5v2.4h-2.5zM2058.8 509.3h2.5v2.4h-2.5zM2070.5 509.3h2.5v2.4h-2.5zM2079.2 509.3h2.5v2.4h-2.5zM2122.8 509.3h5.4v2.4h-5.4zM2131.6 509.3h5.4v2.4h-5.4zM2154.9 509.3h2.5v2.4h-2.5zM2181.1 509.3h2.5v2.4h-2.5zM1794.0 512.1h2.5v2.4h-2.5zM1823.1 512.1h5.4v2.4h-5.4zM1837.7 512.1h2.5v2.4h-2.5zM1846.4 512.1h5.4v2.4h-5.4zM1866.8 512.1h17.1v2.4h-17.1zM1890.0 512.1h2.5v2.4h-2.5zM1895.9 512.1h2.5v2.4h-2.5zM1904.6 512.1h2.5v2.4h-2.5zM1916.2 512.1h2.5v2.4h-2.5zM1927.9 512.1h5.4v2.4h-5.4zM1957.0 512.1h2.5v2.4h-2.5zM1971.5 512.1h5.4v2.4h-5.4zM1980.3 512.1h2.5v2.4h-2.5zM1986.1 512.1h2.5v2.4h-2.5zM2009.4 512.1h2.5v2.4h-2.5zM2029.7 512.1h5.4v2.4h-5.4zM2038.5 512.1h2.5v2.4h-2.5zM2044.3 512.1h2.5v2.4h-2.5zM2058.8 512.1h8.3v2.4h-8.3zM2082.1 512.1h2.5v2.4h-2.5zM2093.7 512.1h2.5v2.4h-2.5zM2119.9 512.1h5.4v2.4h-5.4zM2131.6 512.1h11.2v2.4h-11.2zM2146.1 512.1h5.4v2.4h-5.4zM2166.5 512.1h2.5v2.4h-2.5zM2181.1 512.1h2.5v2.4h-2.5zM1767.8 514.9h2.5v2.4h-2.5zM1788.2 514.9h2.5v2.4h-2.5zM1794.0 514.9h2.5v2.4h-2.5zM1811.5 514.9h2.5v2.4h-2.5zM1837.7 514.9h2.5v2.4h-2.5zM1843.5 514.9h5.4v2.4h-5.4zM1852.2 514.9h2.5v2.4h-2.5zM1858.0 514.9h2.5v2.4h-2.5zM1866.8 514.9h2.5v2.4h-2.5zM1878.4 514.9h11.2v2.4h-11.2zM1898.8 514.9h5.4v2.4h-5.4zM1910.4 514.9h5.4v2.4h-5.4zM1925.0 514.9h2.5v2.4h-2.5zM1930.8 514.9h8.3v2.4h-8.3zM1959.9 514.9h2.5v2.4h-2.5zM1971.5 514.9h2.5v2.4h-2.5zM2003.5 514.9h2.5v2.4h-2.5zM2012.3 514.9h2.5v2.4h-2.5zM2029.7 514.9h2.5v2.4h-2.5zM2038.5 514.9h2.5v2.4h-2.5zM2058.8 514.9h14.2v2.4h-14.2zM2079.2 514.9h2.5v2.4h-2.5zM2090.8 514.9h2.5v2.4h-2.5zM2099.6 514.9h2.5v2.4h-2.5zM2105.4 514.9h2.5v2.4h-2.5zM2117.0 514.9h2.5v2.4h-2.5zM2122.8 514.9h5.4v2.4h-5.4zM2134.5 514.9h2.5v2.4h-2.5zM2146.1 514.9h2.5v2.4h-2.5zM2154.9 514.9h2.5v2.4h-2.5zM2163.6 514.9h2.5v2.4h-2.5zM2204.3 514.9h2.5v2.4h-2.5zM1773.6 517.8h5.4v2.4h-5.4zM1788.2 517.8h8.3v2.4h-8.3zM1820.2 517.8h2.5v2.4h-2.5zM1840.6 517.8h5.4v2.4h-5.4zM1858.0 517.8h5.4v2.4h-5.4zM1866.8 517.8h2.5v2.4h-2.5zM1887.1 517.8h2.5v2.4h-2.5zM1898.8 517.8h5.4v2.4h-5.4zM1910.4 517.8h2.5v2.4h-2.5zM1916.2 517.8h2.5v2.4h-2.5zM1925.0 517.8h8.3v2.4h-8.3zM1942.4 517.8h2.5v2.4h-2.5zM1948.2 517.8h2.5v2.4h-2.5zM1959.9 517.8h2.5v2.4h-2.5zM1980.3 517.8h11.2v2.4h-11.2zM2006.4 517.8h2.5v2.4h-2.5zM2012.3 517.8h2.5v2.4h-2.5zM2021.0 517.8h2.5v2.4h-2.5zM2035.5 517.8h2.5v2.4h-2.5zM2044.3 517.8h5.4v2.4h-5.4zM2055.9 517.8h8.3v2.4h-8.3zM2079.2 517.8h2.5v2.4h-2.5zM2096.7 517.8h14.2v2.4h-14.2zM2119.9 517.8h2.5v2.4h-2.5zM2131.6 517.8h11.2v2.4h-11.2zM2151.9 517.8h2.5v2.4h-2.5zM2160.7 517.8h5.4v2.4h-5.4zM2172.3 517.8h2.5v2.4h-2.5zM2192.7 517.8h2.5v2.4h-2.5zM1776.5 520.6h5.4v2.4h-5.4zM1791.1 520.6h2.5v2.4h-2.5zM1796.9 520.6h5.4v2.4h-5.4zM1811.5 520.6h5.4v2.4h-5.4zM1828.9 520.6h2.5v2.4h-2.5zM1843.5 520.6h8.3v2.4h-8.3zM1858.0 520.6h5.4v2.4h-5.4zM1872.6 520.6h5.4v2.4h-5.4zM1884.2 520.6h2.5v2.4h-2.5zM1890.0 520.6h8.3v2.4h-8.3zM1904.6 520.6h2.5v2.4h-2.5zM1922.0 520.6h2.5v2.4h-2.5zM1927.9 520.6h2.5v2.4h-2.5zM1933.7 520.6h2.5v2.4h-2.5zM1939.5 520.6h2.5v2.4h-2.5zM1951.1 520.6h2.5v2.4h-2.5zM1983.2 520.6h8.3v2.4h-8.3zM2006.4 520.6h2.5v2.4h-2.5zM2012.3 520.6h2.5v2.4h-2.5zM2035.5 520.6h2.5v2.4h-2.5zM2044.3 520.6h2.5v2.4h-2.5zM2073.4 520.6h2.5v2.4h-2.5zM2085.0 520.6h5.4v2.4h-5.4zM2093.7 520.6h2.5v2.4h-2.5zM2108.3 520.6h2.5v2.4h-2.5zM2119.9 520.6h5.4v2.4h-5.4zM2128.7 520.6h5.4v2.4h-5.4zM2137.4 520.6h5.4v2.4h-5.4zM2146.1 520.6h2.5v2.4h-2.5zM2151.9 520.6h11.2v2.4h-11.2zM2166.5 520.6h2.5v2.4h-2.5zM2189.8 520.6h2.5v2.4h-2.5zM1776.5 523.5h2.5v2.4h-2.5zM1788.2 523.5h5.4v2.4h-5.4zM1799.8 523.5h2.5v2.4h-2.5zM1811.5 523.5h5.4v2.4h-5.4zM1831.8 523.5h2.5v2.4h-2.5zM1837.7 523.5h2.5v2.4h-2.5zM1863.8 523.5h11.2v2.4h-11.2zM1890.0 523.5h5.4v2.4h-5.4zM1901.7 523.5h11.2v2.4h-11.2zM1922.0 523.5h5.4v2.4h-5.4zM1930.8 523.5h2.5v2.4h-2.5zM1945.3 523.5h2.5v2.4h-2.5zM1951.1 523.5h2.5v2.4h-2.5zM1959.9 523.5h2.5v2.4h-2.5zM1971.5 523.5h5.4v2.4h-5.4zM1980.3 523.5h5.4v2.4h-5.4zM2006.4 523.5h2.5v2.4h-2.5zM2015.2 523.5h2.5v2.4h-2.5zM2032.6 523.5h2.5v2.4h-2.5zM2038.5 523.5h2.5v2.4h-2.5zM2058.8 523.5h2.5v2.4h-2.5zM2076.3 523.5h2.5v2.4h-2.5zM2082.1 523.5h2.5v2.4h-2.5zM2093.7 523.5h2.5v2.4h-2.5zM2102.5 523.5h5.4v2.4h-5.4zM2111.2 523.5h2.5v2.4h-2.5zM2146.1 523.5h5.4v2.4h-5.4zM2163.6 523.5h2.5v2.4h-2.5zM2172.3 523.5h2.5v2.4h-2.5zM2181.1 523.5h2.5v2.4h-2.5zM1776.5 526.3h2.5v2.4h-2.5zM1788.2 526.3h2.5v2.4h-2.5zM1799.8 526.3h2.5v2.4h-2.5zM1811.5 526.3h5.4v2.4h-5.4zM1849.3 526.3h2.5v2.4h-2.5zM1858.0 526.3h2.5v2.4h-2.5zM1869.7 526.3h2.5v2.4h-2.5zM1881.3 526.3h2.5v2.4h-2.5zM1887.1 526.3h2.5v2.4h-2.5zM1895.9 526.3h2.5v2.4h-2.5zM1904.6 526.3h5.4v2.4h-5.4zM1922.0 526.3h2.5v2.4h-2.5zM1933.7 526.3h2.5v2.4h-2.5zM1954.1 526.3h5.4v2.4h-5.4zM2021.0 526.3h2.5v2.4h-2.5zM2026.8 526.3h2.5v2.4h-2.5zM2041.4 526.3h5.4v2.4h-5.4zM2067.6 526.3h2.5v2.4h-2.5zM2076.3 526.3h5.4v2.4h-5.4zM2085.0 526.3h8.3v2.4h-8.3zM2105.4 526.3h2.5v2.4h-2.5zM2111.2 526.3h2.5v2.4h-2.5zM2117.0 526.3h5.4v2.4h-5.4zM2140.3 526.3h2.5v2.4h-2.5zM2146.1 526.3h2.5v2.4h-2.5zM2151.9 526.3h5.4v2.4h-5.4zM2175.2 526.3h2.5v2.4h-2.5zM2184.0 526.3h2.5v2.4h-2.5zM1788.2 529.1h2.5v2.4h-2.5zM1802.7 529.1h2.5v2.4h-2.5zM1808.6 529.1h8.3v2.4h-8.3zM1820.2 529.1h2.5v2.4h-2.5zM1831.8 529.1h11.2v2.4h-11.2zM1846.4 529.1h5.4v2.4h-5.4zM1855.1 529.1h2.5v2.4h-2.5zM1860.9 529.1h2.5v2.4h-2.5zM1875.5 529.1h2.5v2.4h-2.5zM1884.2 529.1h2.5v2.4h-2.5zM1898.8 529.1h5.4v2.4h-5.4zM1907.5 529.1h2.5v2.4h-2.5zM1919.1 529.1h8.3v2.4h-8.3zM1930.8 529.1h2.5v2.4h-2.5zM1936.6 529.1h8.3v2.4h-8.3zM1948.2 529.1h2.5v2.4h-2.5zM1957.0 529.1h2.5v2.4h-2.5zM1962.8 529.1h5.4v2.4h-5.4zM1974.4 529.1h5.4v2.4h-5.4zM2003.5 529.1h2.5v2.4h-2.5zM2015.2 529.1h2.5v2.4h-2.5zM2026.8 529.1h2.5v2.4h-2.5zM2038.5 529.1h5.4v2.4h-5.4zM2053.0 529.1h2.5v2.4h-2.5zM2058.8 529.1h2.5v2.4h-2.5zM2079.2 529.1h2.5v2.4h-2.5zM2087.9 529.1h14.2v2.4h-14.2zM2114.1 529.1h14.2v2.4h-14.2zM2146.1 529.1h2.5v2.4h-2.5zM2151.9 529.1h2.5v2.4h-2.5zM2172.3 529.1h2.5v2.4h-2.5zM2181.1 529.1h2.5v2.4h-2.5zM1779.5 532.0h11.2v2.4h-11.2zM1799.8 532.0h11.2v2.4h-11.2zM1817.3 532.0h5.4v2.4h-5.4zM1826.0 532.0h2.5v2.4h-2.5zM1831.8 532.0h5.4v2.4h-5.4zM1840.6 532.0h2.5v2.4h-2.5zM1849.3 532.0h2.5v2.4h-2.5zM1860.9 532.0h5.4v2.4h-5.4zM1869.7 532.0h5.4v2.4h-5.4zM1881.3 532.0h2.5v2.4h-2.5zM1887.1 532.0h2.5v2.4h-2.5zM1895.9 532.0h2.5v2.4h-2.5zM1901.7 532.0h8.3v2.4h-8.3zM1916.2 532.0h2.5v2.4h-2.5zM1922.0 532.0h2.5v2.4h-2.5zM1927.9 532.0h2.5v2.4h-2.5zM1942.4 532.0h2.5v2.4h-2.5zM1951.1 532.0h2.5v2.4h-2.5zM1957.0 532.0h2.5v2.4h-2.5zM1986.1 532.0h2.5v2.4h-2.5zM1997.7 532.0h2.5v2.4h-2.5zM2035.5 532.0h2.5v2.4h-2.5zM2044.3 532.0h5.4v2.4h-5.4zM2058.8 532.0h2.5v2.4h-2.5zM2085.0 532.0h2.5v2.4h-2.5zM2096.7 532.0h2.5v2.4h-2.5zM2119.9 532.0h5.4v2.4h-5.4zM2128.7 532.0h2.5v2.4h-2.5zM2143.2 532.0h2.5v2.4h-2.5zM2151.9 532.0h2.5v2.4h-2.5zM2157.8 532.0h8.3v2.4h-8.3zM2172.3 532.0h2.5v2.4h-2.5zM2189.8 532.0h2.5v2.4h-2.5zM1779.5 534.8h5.4v2.4h-5.4zM1791.1 534.8h8.3v2.4h-8.3zM1802.7 534.8h2.5v2.4h-2.5zM1811.5 534.8h5.4v2.4h-5.4zM1820.2 534.8h2.5v2.4h-2.5zM1826.0 534.8h2.5v2.4h-2.5zM1834.7 534.8h2.5v2.4h-2.5zM1840.6 534.8h2.5v2.4h-2.5zM1846.4 534.8h2.5v2.4h-2.5zM1858.0 534.8h5.4v2.4h-5.4zM1898.8 534.8h2.5v2.4h-2.5zM1925.0 534.8h2.5v2.4h-2.5zM1930.8 534.8h2.5v2.4h-2.5zM1939.5 534.8h8.3v2.4h-8.3zM1959.9 534.8h2.5v2.4h-2.5zM1977.3 534.8h5.4v2.4h-5.4zM1994.8 534.8h2.5v2.4h-2.5zM2006.4 534.8h5.4v2.4h-5.4zM2018.1 534.8h2.5v2.4h-2.5zM2023.9 534.8h2.5v2.4h-2.5zM2029.7 534.8h5.4v2.4h-5.4zM2055.9 534.8h2.5v2.4h-2.5zM2067.6 534.8h5.4v2.4h-5.4zM2082.1 534.8h5.4v2.4h-5.4zM2093.7 534.8h2.5v2.4h-2.5zM2102.5 534.8h8.3v2.4h-8.3zM2114.1 534.8h11.2v2.4h-11.2zM2140.3 534.8h5.4v2.4h-5.4zM2151.9 534.8h5.4v2.4h-5.4zM2181.1 534.8h8.3v2.4h-8.3zM1785.3 537.7h2.5v2.4h-2.5zM1791.1 537.7h2.5v2.4h-2.5zM1802.7 537.7h2.5v2.4h-2.5zM1808.6 537.7h2.5v2.4h-2.5zM1820.2 537.7h2.5v2.4h-2.5zM1826.0 537.7h5.4v2.4h-5.4zM1834.7 537.7h5.4v2.4h-5.4zM1849.3 537.7h8.3v2.4h-8.3zM1866.8 537.7h2.5v2.4h-2.5zM1872.6 537.7h2.5v2.4h-2.5zM1887.1 537.7h2.5v2.4h-2.5zM1892.9 537.7h11.2v2.4h-11.2zM1913.3 537.7h2.5v2.4h-2.5zM1922.0 537.7h8.3v2.4h-8.3zM1939.5 537.7h2.5v2.4h-2.5zM1974.4 537.7h2.5v2.4h-2.5zM1980.3 537.7h2.5v2.4h-2.5zM1989.0 537.7h2.5v2.4h-2.5zM1994.8 537.7h2.5v2.4h-2.5zM2003.5 537.7h2.5v2.4h-2.5zM2026.8 537.7h2.5v2.4h-2.5zM2035.5 537.7h2.5v2.4h-2.5zM2053.0 537.7h2.5v2.4h-2.5zM2064.6 537.7h2.5v2.4h-2.5zM2079.2 537.7h5.4v2.4h-5.4zM2090.8 537.7h5.4v2.4h-5.4zM2108.3 537.7h2.5v2.4h-2.5zM2114.1 537.7h5.4v2.4h-5.4zM2122.8 537.7h2.5v2.4h-2.5zM2137.4 537.7h2.5v2.4h-2.5zM2143.2 537.7h8.3v2.4h-8.3zM2154.9 537.7h2.5v2.4h-2.5zM2163.6 537.7h2.5v2.4h-2.5zM2169.4 537.7h2.5v2.4h-2.5zM1776.5 540.5h11.2v2.4h-11.2zM1808.6 540.5h2.5v2.4h-2.5zM1831.8 540.5h2.5v2.4h-2.5zM1837.7 540.5h2.5v2.4h-2.5zM1846.4 540.5h5.4v2.4h-5.4zM1863.8 540.5h2.5v2.4h-2.5zM1869.7 540.5h2.5v2.4h-2.5zM1875.5 540.5h5.4v2.4h-5.4zM1884.2 540.5h5.4v2.4h-5.4zM1898.8 540.5h2.5v2.4h-2.5zM1927.9 540.5h2.5v2.4h-2.5zM1936.6 540.5h5.4v2.4h-5.4zM1945.3 540.5h2.5v2.4h-2.5zM1977.3 540.5h2.5v2.4h-2.5zM2006.4 540.5h2.5v2.4h-2.5zM2021.0 540.5h2.5v2.4h-2.5zM2032.6 540.5h2.5v2.4h-2.5zM2041.4 540.5h5.4v2.4h-5.4zM2050.1 540.5h8.3v2.4h-8.3zM2085.0 540.5h2.5v2.4h-2.5zM2093.7 540.5h2.5v2.4h-2.5zM2108.3 540.5h5.4v2.4h-5.4zM2117.0 540.5h11.2v2.4h-11.2zM2140.3 540.5h2.5v2.4h-2.5zM2195.6 540.5h8.3v2.4h-8.3zM1776.5 543.3h2.5v2.4h-2.5zM1791.1 543.3h2.5v2.4h-2.5zM1799.8 543.3h2.5v2.4h-2.5zM1808.6 543.3h2.5v2.4h-2.5zM1817.3 543.3h2.5v2.4h-2.5zM1831.8 543.3h2.5v2.4h-2.5zM1840.6 543.3h2.5v2.4h-2.5zM1849.3 543.3h2.5v2.4h-2.5zM1855.1 543.3h2.5v2.4h-2.5zM1866.8 543.3h2.5v2.4h-2.5zM1875.5 543.3h2.5v2.4h-2.5zM1881.3 543.3h5.4v2.4h-5.4zM1890.0 543.3h2.5v2.4h-2.5zM1904.6 543.3h5.4v2.4h-5.4zM1930.8 543.3h5.4v2.4h-5.4zM1939.5 543.3h2.5v2.4h-2.5zM1948.2 543.3h2.5v2.4h-2.5zM1959.9 543.3h2.5v2.4h-2.5zM1965.7 543.3h2.5v2.4h-2.5zM1971.5 543.3h2.5v2.4h-2.5zM1997.7 543.3h5.4v2.4h-5.4zM2023.9 543.3h5.4v2.4h-5.4zM2041.4 543.3h5.4v2.4h-5.4zM2053.0 543.3h11.2v2.4h-11.2zM2079.2 543.3h2.5v2.4h-2.5zM2093.7 543.3h5.4v2.4h-5.4zM2102.5 543.3h5.4v2.4h-5.4zM2114.1 543.3h8.3v2.4h-8.3zM2128.7 543.3h5.4v2.4h-5.4zM2140.3 543.3h5.4v2.4h-5.4zM2151.9 543.3h5.4v2.4h-5.4zM2160.7 543.3h2.5v2.4h-2.5zM2166.5 543.3h8.3v2.4h-8.3zM2192.7 543.3h2.5v2.4h-2.5zM1811.5 546.2h5.4v2.4h-5.4zM1834.7 546.2h2.5v2.4h-2.5zM1840.6 546.2h2.5v2.4h-2.5zM1872.6 546.2h5.4v2.4h-5.4zM1884.2 546.2h2.5v2.4h-2.5zM1890.0 546.2h2.5v2.4h-2.5zM1898.8 546.2h2.5v2.4h-2.5zM1904.6 546.2h2.5v2.4h-2.5zM1913.3 546.2h5.4v2.4h-5.4zM1930.8 546.2h2.5v2.4h-2.5zM1939.5 546.2h2.5v2.4h-2.5zM1954.1 546.2h2.5v2.4h-2.5zM1968.6 546.2h2.5v2.4h-2.5zM1977.3 546.2h5.4v2.4h-5.4zM2032.6 546.2h5.4v2.4h-5.4zM2041.4 546.2h2.5v2.4h-2.5zM2061.7 546.2h2.5v2.4h-2.5zM2073.4 546.2h2.5v2.4h-2.5zM2079.2 546.2h5.4v2.4h-5.4zM2099.6 546.2h5.4v2.4h-5.4zM2125.8 546.2h11.2v2.4h-11.2zM2146.1 546.2h2.5v2.4h-2.5zM2178.1 546.2h2.5v2.4h-2.5zM1776.5 549.0h2.5v2.4h-2.5zM1785.3 549.0h5.4v2.4h-5.4zM1796.9 549.0h11.2v2.4h-11.2zM1820.2 549.0h2.5v2.4h-2.5zM1831.8 549.0h2.5v2.4h-2.5zM1843.5 549.0h2.5v2.4h-2.5zM1858.0 549.0h2.5v2.4h-2.5zM1869.7 549.0h2.5v2.4h-2.5zM1878.4 549.0h2.5v2.4h-2.5zM1895.9 549.0h2.5v2.4h-2.5zM1901.7 549.0h2.5v2.4h-2.5zM1907.5 549.0h2.5v2.4h-2.5zM1913.3 549.0h2.5v2.4h-2.5zM1919.1 549.0h5.4v2.4h-5.4zM1930.8 549.0h2.5v2.4h-2.5zM1939.5 549.0h2.5v2.4h-2.5zM1954.1 549.0h2.5v2.4h-2.5zM1962.8 549.0h2.5v2.4h-2.5zM1980.3 549.0h5.4v2.4h-5.4zM1994.8 549.0h2.5v2.4h-2.5zM2018.1 549.0h2.5v2.4h-2.5zM2032.6 549.0h2.5v2.4h-2.5zM2044.3 549.0h5.4v2.4h-5.4zM2070.5 549.0h2.5v2.4h-2.5zM2079.2 549.0h5.4v2.4h-5.4zM2093.7 549.0h2.5v2.4h-2.5zM2099.6 549.0h2.5v2.4h-2.5zM2125.8 549.0h14.2v2.4h-14.2zM2151.9 549.0h2.5v2.4h-2.5zM2157.8 549.0h2.5v2.4h-2.5zM2163.6 549.0h5.4v2.4h-5.4zM2172.3 549.0h5.4v2.4h-5.4zM1767.8 551.9h2.5v2.4h-2.5zM1779.5 551.9h2.5v2.4h-2.5zM1788.2 551.9h5.4v2.4h-5.4zM1796.9 551.9h2.5v2.4h-2.5zM1808.6 551.9h2.5v2.4h-2.5zM1814.4 551.9h8.3v2.4h-8.3zM1826.0 551.9h2.5v2.4h-2.5zM1849.3 551.9h5.4v2.4h-5.4zM1863.8 551.9h2.5v2.4h-2.5zM1869.7 551.9h11.2v2.4h-11.2zM1884.2 551.9h2.5v2.4h-2.5zM1892.9 551.9h2.5v2.4h-2.5zM1898.8 551.9h8.3v2.4h-8.3zM1919.1 551.9h2.5v2.4h-2.5zM1925.0 551.9h5.4v2.4h-5.4zM1933.7 551.9h2.5v2.4h-2.5zM1939.5 551.9h5.4v2.4h-5.4zM1962.8 551.9h2.5v2.4h-2.5zM1968.6 551.9h2.5v2.4h-2.5zM1977.3 551.9h2.5v2.4h-2.5zM2000.6 551.9h5.4v2.4h-5.4zM2029.7 551.9h5.4v2.4h-5.4zM2041.4 551.9h2.5v2.4h-2.5zM2050.1 551.9h2.5v2.4h-2.5zM2058.8 551.9h5.4v2.4h-5.4zM2087.9 551.9h17.1v2.4h-17.1zM2108.3 551.9h2.5v2.4h-2.5zM2114.1 551.9h2.5v2.4h-2.5zM2122.8 551.9h5.4v2.4h-5.4zM2134.5 551.9h2.5v2.4h-2.5zM2140.3 551.9h2.5v2.4h-2.5zM2160.7 551.9h2.5v2.4h-2.5zM2166.5 551.9h5.4v2.4h-5.4zM2175.2 551.9h5.4v2.4h-5.4zM1770.7 554.7h2.5v2.4h-2.5zM1779.5 554.7h8.3v2.4h-8.3zM1791.1 554.7h2.5v2.4h-2.5zM1796.9 554.7h2.5v2.4h-2.5zM1808.6 554.7h2.5v2.4h-2.5zM1823.1 554.7h2.5v2.4h-2.5zM1840.6 554.7h2.5v2.4h-2.5zM1858.0 554.7h2.5v2.4h-2.5zM1863.8 554.7h2.5v2.4h-2.5zM1881.3 554.7h2.5v2.4h-2.5zM1895.9 554.7h2.5v2.4h-2.5zM1901.7 554.7h2.5v2.4h-2.5zM1913.3 554.7h5.4v2.4h-5.4zM1930.8 554.7h8.3v2.4h-8.3zM1948.2 554.7h2.5v2.4h-2.5zM1959.9 554.7h2.5v2.4h-2.5zM1965.7 554.7h2.5v2.4h-2.5zM1980.3 554.7h5.4v2.4h-5.4zM1989.0 554.7h2.5v2.4h-2.5zM2044.3 554.7h11.2v2.4h-11.2zM2064.6 554.7h2.5v2.4h-2.5zM2076.3 554.7h5.4v2.4h-5.4zM2102.5 554.7h2.5v2.4h-2.5zM2114.1 554.7h5.4v2.4h-5.4zM2128.7 554.7h2.5v2.4h-2.5zM2146.1 554.7h5.4v2.4h-5.4zM2154.9 554.7h2.5v2.4h-2.5zM2172.3 554.7h2.5v2.4h-2.5zM2178.1 554.7h2.5v2.4h-2.5zM1779.5 557.5h2.5v2.4h-2.5zM1811.5 557.5h2.5v2.4h-2.5zM1817.3 557.5h2.5v2.4h-2.5zM1828.9 557.5h5.4v2.4h-5.4zM1843.5 557.5h2.5v2.4h-2.5zM1855.1 557.5h2.5v2.4h-2.5zM1860.9 557.5h8.3v2.4h-8.3zM1878.4 557.5h2.5v2.4h-2.5zM1904.6 557.5h8.3v2.4h-8.3zM1916.2 557.5h5.4v2.4h-5.4zM1925.0 557.5h5.4v2.4h-5.4zM1936.6 557.5h2.5v2.4h-2.5zM1951.1 557.5h2.5v2.4h-2.5zM1962.8 557.5h5.4v2.4h-5.4zM1980.3 557.5h2.5v2.4h-2.5zM1991.9 557.5h2.5v2.4h-2.5zM2000.6 557.5h2.5v2.4h-2.5zM2012.3 557.5h2.5v2.4h-2.5zM2021.0 557.5h5.4v2.4h-5.4zM2029.7 557.5h2.5v2.4h-2.5zM2041.4 557.5h2.5v2.4h-2.5zM2067.6 557.5h2.5v2.4h-2.5zM2073.4 557.5h2.5v2.4h-2.5zM2079.2 557.5h2.5v2.4h-2.5zM2085.0 557.5h2.5v2.4h-2.5zM2093.7 557.5h2.5v2.4h-2.5zM2108.3 557.5h14.2v2.4h-14.2zM2137.4 557.5h2.5v2.4h-2.5zM2143.2 557.5h2.5v2.4h-2.5zM2149.0 557.5h2.5v2.4h-2.5zM2166.5 557.5h2.5v2.4h-2.5zM2189.8 557.5h2.5v2.4h-2.5zM1779.5 560.4h5.4v2.4h-5.4zM1788.2 560.4h5.4v2.4h-5.4zM1805.6 560.4h5.4v2.4h-5.4zM1823.1 560.4h2.5v2.4h-2.5zM1840.6 560.4h2.5v2.4h-2.5zM1855.1 560.4h2.5v2.4h-2.5zM1869.7 560.4h2.5v2.4h-2.5zM1875.5 560.4h2.5v2.4h-2.5zM1884.2 560.4h2.5v2.4h-2.5zM1922.0 560.4h5.4v2.4h-5.4zM1930.8 560.4h2.5v2.4h-2.5zM1948.2 560.4h2.5v2.4h-2.5zM1974.4 560.4h2.5v2.4h-2.5zM1989.0 560.4h2.5v2.4h-2.5zM2012.3 560.4h2.5v2.4h-2.5zM2021.0 560.4h5.4v2.4h-5.4zM2029.7 560.4h8.3v2.4h-8.3zM2047.2 560.4h2.5v2.4h-2.5zM2055.9 560.4h2.5v2.4h-2.5zM2064.6 560.4h2.5v2.4h-2.5zM2070.5 560.4h2.5v2.4h-2.5zM2079.2 560.4h2.5v2.4h-2.5zM2093.7 560.4h5.4v2.4h-5.4zM2102.5 560.4h2.5v2.4h-2.5zM2108.3 560.4h2.5v2.4h-2.5zM2128.7 560.4h2.5v2.4h-2.5zM2146.1 560.4h2.5v2.4h-2.5zM2160.7 560.4h2.5v2.4h-2.5zM2166.5 560.4h2.5v2.4h-2.5zM2178.1 560.4h2.5v2.4h-2.5zM1776.5 563.2h2.5v2.4h-2.5zM1788.2 563.2h5.4v2.4h-5.4zM1799.8 563.2h2.5v2.4h-2.5zM1808.6 563.2h2.5v2.4h-2.5zM1814.4 563.2h5.4v2.4h-5.4zM1826.0 563.2h11.2v2.4h-11.2zM1849.3 563.2h5.4v2.4h-5.4zM1858.0 563.2h2.5v2.4h-2.5zM1866.8 563.2h5.4v2.4h-5.4zM1887.1 563.2h2.5v2.4h-2.5zM1895.9 563.2h2.5v2.4h-2.5zM1901.7 563.2h2.5v2.4h-2.5zM1910.4 563.2h5.4v2.4h-5.4zM1919.1 563.2h2.5v2.4h-2.5zM1959.9 563.2h2.5v2.4h-2.5zM1965.7 563.2h2.5v2.4h-2.5zM1980.3 563.2h2.5v2.4h-2.5zM1986.1 563.2h2.5v2.4h-2.5zM2041.4 563.2h5.4v2.4h-5.4zM2058.8 563.2h2.5v2.4h-2.5zM2067.6 563.2h2.5v2.4h-2.5zM2073.4 563.2h2.5v2.4h-2.5zM2079.2 563.2h2.5v2.4h-2.5zM2085.0 563.2h2.5v2.4h-2.5zM2090.8 563.2h2.5v2.4h-2.5zM2114.1 563.2h2.5v2.4h-2.5zM2119.9 563.2h2.5v2.4h-2.5zM2131.6 563.2h8.3v2.4h-8.3zM2163.6 563.2h5.4v2.4h-5.4zM2192.7 563.2h2.5v2.4h-2.5zM1779.5 566.1h5.4v2.4h-5.4zM1794.0 566.1h2.5v2.4h-2.5zM1808.6 566.1h5.4v2.4h-5.4zM1820.2 566.1h8.3v2.4h-8.3zM1849.3 566.1h2.5v2.4h-2.5zM1866.8 566.1h5.4v2.4h-5.4zM1878.4 566.1h5.4v2.4h-5.4zM1887.1 566.1h2.5v2.4h-2.5zM1892.9 566.1h8.3v2.4h-8.3zM1904.6 566.1h5.4v2.4h-5.4zM1930.8 566.1h5.4v2.4h-5.4zM1942.4 566.1h8.3v2.4h-8.3zM1971.5 566.1h2.5v2.4h-2.5zM1986.1 566.1h2.5v2.4h-2.5zM1991.9 566.1h2.5v2.4h-2.5zM2000.6 566.1h2.5v2.4h-2.5zM2009.4 566.1h2.5v2.4h-2.5zM2032.6 566.1h2.5v2.4h-2.5zM2041.4 566.1h2.5v2.4h-2.5zM2047.2 566.1h2.5v2.4h-2.5zM2079.2 566.1h2.5v2.4h-2.5zM2087.9 566.1h8.3v2.4h-8.3zM2099.6 566.1h2.5v2.4h-2.5zM2105.4 566.1h2.5v2.4h-2.5zM2111.2 566.1h2.5v2.4h-2.5zM2117.0 566.1h5.4v2.4h-5.4zM2128.7 566.1h2.5v2.4h-2.5zM2137.4 566.1h5.4v2.4h-5.4zM2146.1 566.1h5.4v2.4h-5.4zM2154.9 566.1h5.4v2.4h-5.4zM2163.6 566.1h2.5v2.4h-2.5zM2175.2 566.1h2.5v2.4h-2.5zM2184.0 566.1h5.4v2.4h-5.4zM1776.5 568.9h5.4v2.4h-5.4zM1799.8 568.9h2.5v2.4h-2.5zM1820.2 568.9h11.2v2.4h-11.2zM1834.7 568.9h5.4v2.4h-5.4zM1846.4 568.9h8.3v2.4h-8.3zM1869.7 568.9h5.4v2.4h-5.4zM1878.4 568.9h2.5v2.4h-2.5zM1887.1 568.9h2.5v2.4h-2.5zM1901.7 568.9h2.5v2.4h-2.5zM1919.1 568.9h2.5v2.4h-2.5zM1927.9 568.9h2.5v2.4h-2.5zM1939.5 568.9h5.4v2.4h-5.4zM1977.3 568.9h2.5v2.4h-2.5zM1989.0 568.9h2.5v2.4h-2.5zM1997.7 568.9h2.5v2.4h-2.5zM2006.4 568.9h2.5v2.4h-2.5zM2018.1 568.9h2.5v2.4h-2.5zM2038.5 568.9h2.5v2.4h-2.5zM2061.7 568.9h5.4v2.4h-5.4zM2079.2 568.9h2.5v2.4h-2.5zM2085.0 568.9h2.5v2.4h-2.5zM2090.8 568.9h2.5v2.4h-2.5zM2102.5 568.9h2.5v2.4h-2.5zM2108.3 568.9h2.5v2.4h-2.5zM2117.0 568.9h2.5v2.4h-2.5zM2128.7 568.9h2.5v2.4h-2.5zM2137.4 568.9h14.2v2.4h-14.2zM2154.9 568.9h2.5v2.4h-2.5zM2160.7 568.9h2.5v2.4h-2.5zM2166.5 568.9h2.5v2.4h-2.5zM2172.3 568.9h2.5v2.4h-2.5zM2201.4 568.9h2.5v2.4h-2.5zM1779.5 571.7h2.5v2.4h-2.5zM1796.9 571.7h2.5v2.4h-2.5zM1802.7 571.7h5.4v2.4h-5.4zM1814.4 571.7h2.5v2.4h-2.5zM1820.2 571.7h2.5v2.4h-2.5zM1837.7 571.7h2.5v2.4h-2.5zM1846.4 571.7h2.5v2.4h-2.5zM1852.2 571.7h2.5v2.4h-2.5zM1866.8 571.7h2.5v2.4h-2.5zM1878.4 571.7h5.4v2.4h-5.4zM1890.0 571.7h2.5v2.4h-2.5zM1898.8 571.7h5.4v2.4h-5.4zM1913.3 571.7h2.5v2.4h-2.5zM1922.0 571.7h2.5v2.4h-2.5zM1951.1 571.7h2.5v2.4h-2.5zM1957.0 571.7h2.5v2.4h-2.5zM1962.8 571.7h5.4v2.4h-5.4zM1971.5 571.7h2.5v2.4h-2.5zM1977.3 571.7h2.5v2.4h-2.5zM1986.1 571.7h2.5v2.4h-2.5zM1994.8 571.7h2.5v2.4h-2.5zM2000.6 571.7h2.5v2.4h-2.5zM2012.3 571.7h2.5v2.4h-2.5zM2018.1 571.7h2.5v2.4h-2.5zM2023.9 571.7h2.5v2.4h-2.5zM2032.6 571.7h2.5v2.4h-2.5zM2038.5 571.7h8.3v2.4h-8.3zM2050.1 571.7h5.4v2.4h-5.4zM2058.8 571.7h2.5v2.4h-2.5zM2067.6 571.7h2.5v2.4h-2.5zM2073.4 571.7h5.4v2.4h-5.4zM2087.9 571.7h2.5v2.4h-2.5zM2096.7 571.7h2.5v2.4h-2.5zM2114.1 571.7h2.5v2.4h-2.5zM2128.7 571.7h5.4v2.4h-5.4zM2140.3 571.7h8.3v2.4h-8.3zM2160.7 571.7h5.4v2.4h-5.4zM1782.4 574.6h2.5v2.4h-2.5zM1788.2 574.6h14.2v2.4h-14.2zM1811.5 574.6h2.5v2.4h-2.5zM1820.2 574.6h2.5v2.4h-2.5zM1828.9 574.6h2.5v2.4h-2.5zM1843.5 574.6h2.5v2.4h-2.5zM1863.8 574.6h5.4v2.4h-5.4zM1890.0 574.6h2.5v2.4h-2.5zM1898.8 574.6h2.5v2.4h-2.5zM1904.6 574.6h2.5v2.4h-2.5zM1913.3 574.6h2.5v2.4h-2.5zM1919.1 574.6h5.4v2.4h-5.4zM1927.9 574.6h2.5v2.4h-2.5zM1936.6 574.6h2.5v2.4h-2.5zM1942.4 574.6h5.4v2.4h-5.4zM1957.0 574.6h5.4v2.4h-5.4zM1968.6 574.6h2.5v2.4h-2.5zM1977.3 574.6h2.5v2.4h-2.5zM1994.8 574.6h2.5v2.4h-2.5zM2000.6 574.6h2.5v2.4h-2.5zM2012.3 574.6h5.4v2.4h-5.4zM2021.0 574.6h2.5v2.4h-2.5zM2026.8 574.6h2.5v2.4h-2.5zM2032.6 574.6h5.4v2.4h-5.4zM2047.2 574.6h2.5v2.4h-2.5zM2053.0 574.6h5.4v2.4h-5.4zM2067.6 574.6h5.4v2.4h-5.4zM2090.8 574.6h2.5v2.4h-2.5zM2102.5 574.6h2.5v2.4h-2.5zM2111.2 574.6h2.5v2.4h-2.5zM2117.0 574.6h5.4v2.4h-5.4zM2137.4 574.6h8.3v2.4h-8.3zM2157.8 574.6h2.5v2.4h-2.5zM2172.3 574.6h2.5v2.4h-2.5zM2201.4 574.6h2.5v2.4h-2.5zM1788.2 577.4h8.3v2.4h-8.3zM1799.8 577.4h2.5v2.4h-2.5zM1805.6 577.4h2.5v2.4h-2.5zM1811.5 577.4h5.4v2.4h-5.4zM1831.8 577.4h2.5v2.4h-2.5zM1837.7 577.4h2.5v2.4h-2.5zM1846.4 577.4h8.3v2.4h-8.3zM1863.8 577.4h5.4v2.4h-5.4zM1875.5 577.4h2.5v2.4h-2.5zM1881.3 577.4h5.4v2.4h-5.4zM1901.7 577.4h2.5v2.4h-2.5zM1925.0 577.4h5.4v2.4h-5.4zM1942.4 577.4h2.5v2.4h-2.5zM1965.7 577.4h2.5v2.4h-2.5zM1994.8 577.4h2.5v2.4h-2.5zM2000.6 577.4h2.5v2.4h-2.5zM2018.1 577.4h2.5v2.4h-2.5zM2047.2 577.4h2.5v2.4h-2.5zM2073.4 577.4h2.5v2.4h-2.5zM2079.2 577.4h2.5v2.4h-2.5zM2096.7 577.4h5.4v2.4h-5.4zM2108.3 577.4h2.5v2.4h-2.5zM2114.1 577.4h2.5v2.4h-2.5zM2125.8 577.4h5.4v2.4h-5.4zM2146.1 577.4h2.5v2.4h-2.5zM2154.9 577.4h2.5v2.4h-2.5zM2166.5 577.4h2.5v2.4h-2.5zM2175.2 577.4h5.4v2.4h-5.4zM1779.5 580.3h2.5v2.4h-2.5zM1811.5 580.3h2.5v2.4h-2.5zM1831.8 580.3h2.5v2.4h-2.5zM1837.7 580.3h8.3v2.4h-8.3zM1863.8 580.3h2.5v2.4h-2.5zM1872.6 580.3h2.5v2.4h-2.5zM1887.1 580.3h2.5v2.4h-2.5zM1892.9 580.3h5.4v2.4h-5.4zM1907.5 580.3h2.5v2.4h-2.5zM1919.1 580.3h2.5v2.4h-2.5zM1927.9 580.3h2.5v2.4h-2.5zM1939.5 580.3h2.5v2.4h-2.5zM1951.1 580.3h2.5v2.4h-2.5zM1959.9 580.3h2.5v2.4h-2.5zM1965.7 580.3h2.5v2.4h-2.5zM1971.5 580.3h2.5v2.4h-2.5zM1980.3 580.3h2.5v2.4h-2.5zM2012.3 580.3h2.5v2.4h-2.5zM2026.8 580.3h2.5v2.4h-2.5zM2032.6 580.3h2.5v2.4h-2.5zM2041.4 580.3h2.5v2.4h-2.5zM2053.0 580.3h2.5v2.4h-2.5zM2073.4 580.3h2.5v2.4h-2.5zM2087.9 580.3h5.4v2.4h-5.4zM2102.5 580.3h2.5v2.4h-2.5zM2111.2 580.3h8.3v2.4h-8.3zM2122.8 580.3h2.5v2.4h-2.5zM2143.2 580.3h2.5v2.4h-2.5zM2163.6 580.3h2.5v2.4h-2.5zM2172.3 580.3h2.5v2.4h-2.5zM2181.1 580.3h2.5v2.4h-2.5zM1773.6 583.1h2.5v2.4h-2.5zM1791.1 583.1h2.5v2.4h-2.5zM1799.8 583.1h2.5v2.4h-2.5zM1808.6 583.1h8.3v2.4h-8.3zM1837.7 583.1h5.4v2.4h-5.4zM1846.4 583.1h2.5v2.4h-2.5zM1869.7 583.1h2.5v2.4h-2.5zM1878.4 583.1h2.5v2.4h-2.5zM1898.8 583.1h5.4v2.4h-5.4zM1910.4 583.1h5.4v2.4h-5.4zM1919.1 583.1h2.5v2.4h-2.5zM1948.2 583.1h2.5v2.4h-2.5zM1957.0 583.1h2.5v2.4h-2.5zM1965.7 583.1h2.5v2.4h-2.5zM1974.4 583.1h2.5v2.4h-2.5zM2021.0 583.1h2.5v2.4h-2.5zM2041.4 583.1h2.5v2.4h-2.5zM2050.1 583.1h2.5v2.4h-2.5zM2064.6 583.1h5.4v2.4h-5.4zM2073.4 583.1h11.2v2.4h-11.2zM2090.8 583.1h2.5v2.4h-2.5zM2105.4 583.1h2.5v2.4h-2.5zM2111.2 583.1h11.2v2.4h-11.2zM2128.7 583.1h8.3v2.4h-8.3zM2146.1 583.1h2.5v2.4h-2.5zM2160.7 583.1h5.4v2.4h-5.4zM2181.1 583.1h2.5v2.4h-2.5zM1770.7 585.9h2.5v2.4h-2.5zM1785.3 585.9h5.4v2.4h-5.4zM1794.0 585.9h2.5v2.4h-2.5zM1799.8 585.9h5.4v2.4h-5.4zM1808.6 585.9h2.5v2.4h-2.5zM1823.1 585.9h2.5v2.4h-2.5zM1828.9 585.9h2.5v2.4h-2.5zM1837.7 585.9h2.5v2.4h-2.5zM1843.5 585.9h2.5v2.4h-2.5zM1849.3 585.9h2.5v2.4h-2.5zM1855.1 585.9h2.5v2.4h-2.5zM1860.9 585.9h8.3v2.4h-8.3zM1875.5 585.9h5.4v2.4h-5.4zM1890.0 585.9h11.2v2.4h-11.2zM1904.6 585.9h2.5v2.4h-2.5zM1910.4 585.9h2.5v2.4h-2.5zM1919.1 585.9h14.2v2.4h-14.2zM1945.3 585.9h2.5v2.4h-2.5zM1954.1 585.9h2.5v2.4h-2.5zM1965.7 585.9h2.5v2.4h-2.5zM1974.4 585.9h2.5v2.4h-2.5zM1980.3 585.9h2.5v2.4h-2.5zM1994.8 585.9h2.5v2.4h-2.5zM2015.2 585.9h2.5v2.4h-2.5zM2021.0 585.9h2.5v2.4h-2.5zM2026.8 585.9h2.5v2.4h-2.5zM2035.5 585.9h2.5v2.4h-2.5zM2047.2 585.9h2.5v2.4h-2.5zM2053.0 585.9h5.4v2.4h-5.4zM2061.7 585.9h5.4v2.4h-5.4zM2073.4 585.9h2.5v2.4h-2.5zM2093.7 585.9h2.5v2.4h-2.5zM2099.6 585.9h2.5v2.4h-2.5zM2105.4 585.9h2.5v2.4h-2.5zM2125.8 585.9h5.4v2.4h-5.4zM2143.2 585.9h2.5v2.4h-2.5zM2175.2 585.9h5.4v2.4h-5.4zM1779.5 588.8h8.3v2.4h-8.3zM1794.0 588.8h2.5v2.4h-2.5zM1799.8 588.8h8.3v2.4h-8.3zM1814.4 588.8h2.5v2.4h-2.5zM1820.2 588.8h22.9v2.4h-22.9zM1846.4 588.8h2.5v2.4h-2.5zM1852.2 588.8h2.5v2.4h-2.5zM1872.6 588.8h5.4v2.4h-5.4zM1898.8 588.8h2.5v2.4h-2.5zM1933.7 588.8h5.4v2.4h-5.4zM1945.3 588.8h5.4v2.4h-5.4zM1986.1 588.8h5.4v2.4h-5.4zM2000.6 588.8h2.5v2.4h-2.5zM2015.2 588.8h2.5v2.4h-2.5zM2026.8 588.8h2.5v2.4h-2.5zM2035.5 588.8h2.5v2.4h-2.5zM2044.3 588.8h2.5v2.4h-2.5zM2055.9 588.8h5.4v2.4h-5.4zM2079.2 588.8h2.5v2.4h-2.5zM2085.0 588.8h2.5v2.4h-2.5zM2090.8 588.8h5.4v2.4h-5.4zM2108.3 588.8h2.5v2.4h-2.5zM2117.0 588.8h5.4v2.4h-5.4zM2146.1 588.8h2.5v2.4h-2.5zM2151.9 588.8h2.5v2.4h-2.5zM2160.7 588.8h2.5v2.4h-2.5zM2166.5 588.8h2.5v2.4h-2.5zM2172.3 588.8h2.5v2.4h-2.5zM2181.1 588.8h2.5v2.4h-2.5zM1782.4 591.6h8.3v2.4h-8.3zM1796.9 591.6h2.5v2.4h-2.5zM1805.6 591.6h2.5v2.4h-2.5zM1814.4 591.6h5.4v2.4h-5.4zM1840.6 591.6h2.5v2.4h-2.5zM1846.4 591.6h2.5v2.4h-2.5zM1852.2 591.6h5.4v2.4h-5.4zM1875.5 591.6h5.4v2.4h-5.4zM1907.5 591.6h2.5v2.4h-2.5zM1930.8 591.6h2.5v2.4h-2.5zM1945.3 591.6h2.5v2.4h-2.5zM1951.1 591.6h8.3v2.4h-8.3zM1971.5 591.6h2.5v2.4h-2.5zM1980.3 591.6h2.5v2.4h-2.5zM2012.3 591.6h2.5v2.4h-2.5zM2032.6 591.6h2.5v2.4h-2.5zM2050.1 591.6h5.4v2.4h-5.4zM2058.8 591.6h2.5v2.4h-2.5zM2064.6 591.6h2.5v2.4h-2.5zM2070.5 591.6h2.5v2.4h-2.5zM2079.2 591.6h2.5v2.4h-2.5zM2087.9 591.6h5.4v2.4h-5.4zM2096.7 591.6h14.2v2.4h-14.2zM2114.1 591.6h5.4v2.4h-5.4zM2122.8 591.6h5.4v2.4h-5.4zM2137.4 591.6h2.5v2.4h-2.5zM2143.2 591.6h2.5v2.4h-2.5zM2151.9 591.6h2.5v2.4h-2.5zM2163.6 591.6h2.5v2.4h-2.5zM2189.8 591.6h5.4v2.4h-5.4zM1791.1 594.5h2.5v2.4h-2.5zM1802.7 594.5h2.5v2.4h-2.5zM1834.7 594.5h2.5v2.4h-2.5zM1846.4 594.5h5.4v2.4h-5.4zM1855.1 594.5h2.5v2.4h-2.5zM1860.9 594.5h8.3v2.4h-8.3zM1875.5 594.5h2.5v2.4h-2.5zM1890.0 594.5h2.5v2.4h-2.5zM1910.4 594.5h2.5v2.4h-2.5zM1916.2 594.5h2.5v2.4h-2.5zM1922.0 594.5h2.5v2.4h-2.5zM1927.9 594.5h2.5v2.4h-2.5zM1933.7 594.5h2.5v2.4h-2.5zM1942.4 594.5h2.5v2.4h-2.5zM1948.2 594.5h2.5v2.4h-2.5zM1971.5 594.5h2.5v2.4h-2.5zM1994.8 594.5h2.5v2.4h-2.5zM2000.6 594.5h2.5v2.4h-2.5zM2009.4 594.5h2.5v2.4h-2.5zM2044.3 594.5h2.5v2.4h-2.5zM2050.1 594.5h2.5v2.4h-2.5zM2067.6 594.5h2.5v2.4h-2.5zM2085.0 594.5h2.5v2.4h-2.5zM2096.7 594.5h2.5v2.4h-2.5zM2102.5 594.5h2.5v2.4h-2.5zM2111.2 594.5h5.4v2.4h-5.4zM2128.7 594.5h2.5v2.4h-2.5zM2137.4 594.5h2.5v2.4h-2.5zM2163.6 594.5h2.5v2.4h-2.5zM2178.1 594.5h5.4v2.4h-5.4zM1782.4 597.3h5.4v2.4h-5.4zM1796.9 597.3h2.5v2.4h-2.5zM1817.3 597.3h5.4v2.4h-5.4zM1846.4 597.3h5.4v2.4h-5.4zM1858.0 597.3h2.5v2.4h-2.5zM1872.6 597.3h2.5v2.4h-2.5zM1904.6 597.3h5.4v2.4h-5.4zM1913.3 597.3h2.5v2.4h-2.5zM1927.9 597.3h5.4v2.4h-5.4zM1939.5 597.3h2.5v2.4h-2.5zM1954.1 597.3h2.5v2.4h-2.5zM1959.9 597.3h2.5v2.4h-2.5zM2009.4 597.3h2.5v2.4h-2.5zM2047.2 597.3h2.5v2.4h-2.5zM2053.0 597.3h5.4v2.4h-5.4zM2070.5 597.3h2.5v2.4h-2.5zM2076.3 597.3h5.4v2.4h-5.4zM2090.8 597.3h14.2v2.4h-14.2zM2108.3 597.3h2.5v2.4h-2.5zM2114.1 597.3h2.5v2.4h-2.5zM2134.5 597.3h2.5v2.4h-2.5zM2172.3 597.3h2.5v2.4h-2.5zM1773.6 600.1h2.5v2.4h-2.5zM1791.1 600.1h2.5v2.4h-2.5zM1811.5 600.1h8.3v2.4h-8.3zM1823.1 600.1h5.4v2.4h-5.4zM1860.9 600.1h2.5v2.4h-2.5zM1866.8 600.1h2.5v2.4h-2.5zM1878.4 600.1h2.5v2.4h-2.5zM1895.9 600.1h2.5v2.4h-2.5zM1904.6 600.1h2.5v2.4h-2.5zM1910.4 600.1h2.5v2.4h-2.5zM1930.8 600.1h5.4v2.4h-5.4zM1948.2 600.1h2.5v2.4h-2.5zM1957.0 600.1h2.5v2.4h-2.5zM1965.7 600.1h2.5v2.4h-2.5zM1977.3 600.1h2.5v2.4h-2.5zM2000.6 600.1h2.5v2.4h-2.5zM2006.4 600.1h2.5v2.4h-2.5zM2032.6 600.1h5.4v2.4h-5.4zM2076.3 600.1h2.5v2.4h-2.5zM2085.0 600.1h2.5v2.4h-2.5zM2099.6 600.1h2.5v2.4h-2.5zM2119.9 600.1h2.5v2.4h-2.5zM2131.6 600.1h2.5v2.4h-2.5zM2140.3 600.1h2.5v2.4h-2.5zM2154.9 600.1h2.5v2.4h-2.5zM2160.7 600.1h2.5v2.4h-2.5zM2166.5 600.1h5.4v2.4h-5.4zM1782.4 603.0h2.5v2.4h-2.5zM1794.0 603.0h2.5v2.4h-2.5zM1805.6 603.0h2.5v2.4h-2.5zM1811.5 603.0h2.5v2.4h-2.5zM1817.3 603.0h2.5v2.4h-2.5zM1831.8 603.0h5.4v2.4h-5.4zM1840.6 603.0h2.5v2.4h-2.5zM1852.2 603.0h8.3v2.4h-8.3zM1866.8 603.0h2.5v2.4h-2.5zM1875.5 603.0h2.5v2.4h-2.5zM1881.3 603.0h2.5v2.4h-2.5zM1901.7 603.0h2.5v2.4h-2.5zM1913.3 603.0h2.5v2.4h-2.5zM1939.5 603.0h5.4v2.4h-5.4zM2012.3 603.0h2.5v2.4h-2.5zM2018.1 603.0h2.5v2.4h-2.5zM2053.0 603.0h5.4v2.4h-5.4zM2070.5 603.0h2.5v2.4h-2.5zM2082.1 603.0h2.5v2.4h-2.5zM2114.1 603.0h2.5v2.4h-2.5zM2119.9 603.0h2.5v2.4h-2.5zM2125.8 603.0h2.5v2.4h-2.5zM2140.3 603.0h2.5v2.4h-2.5zM2146.1 603.0h2.5v2.4h-2.5zM2151.9 603.0h2.5v2.4h-2.5zM2157.8 603.0h2.5v2.4h-2.5zM2163.6 603.0h2.5v2.4h-2.5zM2169.4 603.0h2.5v2.4h-2.5zM2178.1 603.0h2.5v2.4h-2.5zM1782.4 605.8h2.5v2.4h-2.5zM1791.1 605.8h2.5v2.4h-2.5zM1799.8 605.8h2.5v2.4h-2.5zM1805.6 605.8h2.5v2.4h-2.5zM1817.3 605.8h2.5v2.4h-2.5zM1828.9 605.8h5.4v2.4h-5.4zM1837.7 605.8h2.5v2.4h-2.5zM1852.2 605.8h2.5v2.4h-2.5zM1858.0 605.8h2.5v2.4h-2.5zM1887.1 605.8h2.5v2.4h-2.5zM1910.4 605.8h2.5v2.4h-2.5zM1925.0 605.8h2.5v2.4h-2.5zM1936.6 605.8h5.4v2.4h-5.4zM1983.2 605.8h2.5v2.4h-2.5zM2029.7 605.8h2.5v2.4h-2.5zM2047.2 605.8h2.5v2.4h-2.5zM2053.0 605.8h2.5v2.4h-2.5zM2073.4 605.8h2.5v2.4h-2.5zM2099.6 605.8h5.4v2.4h-5.4zM2117.0 605.8h2.5v2.4h-2.5zM2175.2 605.8h2.5v2.4h-2.5zM1776.5 608.7h2.5v2.4h-2.5zM1782.4 608.7h2.5v2.4h-2.5zM1794.0 608.7h2.5v2.4h-2.5zM1799.8 608.7h2.5v2.4h-2.5zM1805.6 608.7h2.5v2.4h-2.5zM1811.5 608.7h2.5v2.4h-2.5zM1831.8 608.7h2.5v2.4h-2.5zM1840.6 608.7h5.4v2.4h-5.4zM1849.3 608.7h5.4v2.4h-5.4zM1875.5 608.7h2.5v2.4h-2.5zM1913.3 608.7h2.5v2.4h-2.5zM1919.1 608.7h2.5v2.4h-2.5zM1925.0 608.7h2.5v2.4h-2.5zM1930.8 608.7h2.5v2.4h-2.5zM1939.5 608.7h2.5v2.4h-2.5zM1954.1 608.7h2.5v2.4h-2.5zM1974.4 608.7h2.5v2.4h-2.5zM2023.9 608.7h2.5v2.4h-2.5zM2029.7 608.7h2.5v2.4h-2.5zM2035.5 608.7h2.5v2.4h-2.5zM2067.6 608.7h2.5v2.4h-2.5zM2082.1 608.7h2.5v2.4h-2.5zM2096.7 608.7h5.4v2.4h-5.4zM2111.2 608.7h2.5v2.4h-2.5zM2146.1 608.7h2.5v2.4h-2.5zM2189.8 608.7h2.5v2.4h-2.5zM1773.6 611.5h2.5v2.4h-2.5zM1796.9 611.5h2.5v2.4h-2.5zM1805.6 611.5h2.5v2.4h-2.5zM1823.1 611.5h5.4v2.4h-5.4zM1831.8 611.5h2.5v2.4h-2.5zM1840.6 611.5h2.5v2.4h-2.5zM1849.3 611.5h8.3v2.4h-8.3zM1866.8 611.5h2.5v2.4h-2.5zM1901.7 611.5h5.4v2.4h-5.4zM1916.2 611.5h2.5v2.4h-2.5zM1927.9 611.5h2.5v2.4h-2.5zM1933.7 611.5h2.5v2.4h-2.5zM1974.4 611.5h2.5v2.4h-2.5zM2006.4 611.5h2.5v2.4h-2.5zM2070.5 611.5h2.5v2.4h-2.5zM2099.6 611.5h2.5v2.4h-2.5zM2140.3 611.5h2.5v2.4h-2.5zM2146.1 611.5h2.5v2.4h-2.5zM1785.3 614.3h2.5v2.4h-2.5zM1796.9 614.3h5.4v2.4h-5.4zM1808.6 614.3h5.4v2.4h-5.4zM1817.3 614.3h11.2v2.4h-11.2zM1840.6 614.3h2.5v2.4h-2.5zM1846.4 614.3h2.5v2.4h-2.5zM1852.2 614.3h2.5v2.4h-2.5zM1866.8 614.3h8.3v2.4h-8.3zM1892.9 614.3h5.4v2.4h-5.4zM1916.2 614.3h2.5v2.4h-2.5zM1986.1 614.3h2.5v2.4h-2.5zM2041.4 614.3h2.5v2.4h-2.5zM2067.6 614.3h2.5v2.4h-2.5zM2108.3 614.3h2.5v2.4h-2.5zM2128.7 614.3h2.5v2.4h-2.5zM2143.2 614.3h8.3v2.4h-8.3zM2157.8 614.3h2.5v2.4h-2.5zM2172.3 614.3h2.5v2.4h-2.5zM1782.4 617.2h2.5v2.4h-2.5zM1791.1 617.2h2.5v2.4h-2.5zM1796.9 617.2h5.4v2.4h-5.4zM1831.8 617.2h5.4v2.4h-5.4zM1843.5 617.2h2.5v2.4h-2.5zM1872.6 617.2h5.4v2.4h-5.4zM1881.3 617.2h2.5v2.4h-2.5zM1892.9 617.2h2.5v2.4h-2.5zM1913.3 617.2h2.5v2.4h-2.5zM1951.1 617.2h2.5v2.4h-2.5zM1965.7 617.2h2.5v2.4h-2.5zM2061.7 617.2h2.5v2.4h-2.5zM2096.7 617.2h2.5v2.4h-2.5zM2111.2 617.2h2.5v2.4h-2.5zM2137.4 617.2h2.5v2.4h-2.5zM1770.7 620.0h2.5v2.4h-2.5zM1776.5 620.0h2.5v2.4h-2.5zM1785.3 620.0h5.4v2.4h-5.4zM1796.9 620.0h2.5v2.4h-2.5zM1802.7 620.0h2.5v2.4h-2.5zM1811.5 620.0h5.4v2.4h-5.4zM1826.0 620.0h8.3v2.4h-8.3zM1837.7 620.0h2.5v2.4h-2.5zM1846.4 620.0h2.5v2.4h-2.5zM1852.2 620.0h2.5v2.4h-2.5zM1875.5 620.0h2.5v2.4h-2.5zM1887.1 620.0h2.5v2.4h-2.5zM1904.6 620.0h2.5v2.4h-2.5zM1910.4 620.0h2.5v2.4h-2.5zM1927.9 620.0h2.5v2.4h-2.5zM1939.5 620.0h2.5v2.4h-2.5zM1983.2 620.0h2.5v2.4h-2.5zM1989.0 620.0h2.5v2.4h-2.5zM1997.7 620.0h5.4v2.4h-5.4zM2029.7 620.0h2.5v2.4h-2.5zM2041.4 620.0h2.5v2.4h-2.5zM2090.8 620.0h2.5v2.4h-2.5zM2117.0 620.0h2.5v2.4h-2.5zM2122.8 620.0h2.5v2.4h-2.5zM2128.7 620.0h2.5v2.4h-2.5zM1785.3 622.9h8.3v2.4h-8.3zM1796.9 622.9h8.3v2.4h-8.3zM1811.5 622.9h2.5v2.4h-2.5zM1817.3 622.9h5.4v2.4h-5.4zM1826.0 622.9h2.5v2.4h-2.5zM1837.7 622.9h8.3v2.4h-8.3zM1852.2 622.9h2.5v2.4h-2.5zM1872.6 622.9h2.5v2.4h-2.5zM1878.4 622.9h2.5v2.4h-2.5zM1890.0 622.9h2.5v2.4h-2.5zM1895.9 622.9h2.5v2.4h-2.5zM1913.3 622.9h2.5v2.4h-2.5zM1989.0 622.9h2.5v2.4h-2.5zM2012.3 622.9h2.5v2.4h-2.5zM2023.9 622.9h2.5v2.4h-2.5zM2108.3 622.9h5.4v2.4h-5.4zM2131.6 622.9h2.5v2.4h-2.5zM2140.3 622.9h2.5v2.4h-2.5zM1776.5 625.7h2.5v2.4h-2.5zM1782.4 625.7h2.5v2.4h-2.5zM1799.8 625.7h5.4v2.4h-5.4zM1814.4 625.7h2.5v2.4h-2.5zM1826.0 625.7h2.5v2.4h-2.5zM1843.5 625.7h2.5v2.4h-2.5zM1858.0 625.7h5.4v2.4h-5.4zM1872.6 625.7h2.5v2.4h-2.5zM1884.2 625.7h11.2v2.4h-11.2zM1910.4 625.7h2.5v2.4h-2.5zM1933.7 625.7h5.4v2.4h-5.4zM1971.5 625.7h2.5v2.4h-2.5zM2067.6 625.7h2.5v2.4h-2.5zM2122.8 625.7h2.5v2.4h-2.5zM1785.3 628.5h5.4v2.4h-5.4zM1796.9 628.5h2.5v2.4h-2.5zM1808.6 628.5h2.5v2.4h-2.5zM1817.3 628.5h5.4v2.4h-5.4zM1826.0 628.5h2.5v2.4h-2.5zM1840.6 628.5h2.5v2.4h-2.5zM1860.9 628.5h2.5v2.4h-2.5zM1875.5 628.5h5.4v2.4h-5.4zM1890.0 628.5h2.5v2.4h-2.5zM1898.8 628.5h2.5v2.4h-2.5zM1910.4 628.5h2.5v2.4h-2.5zM1925.0 628.5h5.4v2.4h-5.4zM1942.4 628.5h2.5v2.4h-2.5zM1951.1 628.5h2.5v2.4h-2.5zM1959.9 628.5h2.5v2.4h-2.5zM2021.0 628.5h2.5v2.4h-2.5zM2035.5 628.5h2.5v2.4h-2.5zM2050.1 628.5h2.5v2.4h-2.5zM2090.8 628.5h5.4v2.4h-5.4zM2105.4 628.5h2.5v2.4h-2.5zM2128.7 628.5h2.5v2.4h-2.5zM1811.5 631.4h2.5v2.4h-2.5zM1820.2 631.4h2.5v2.4h-2.5zM1840.6 631.4h5.4v2.4h-5.4zM1849.3 631.4h17.1v2.4h-17.1zM1887.1 631.4h2.5v2.4h-2.5zM1916.2 631.4h2.5v2.4h-2.5zM1927.9 631.4h2.5v2.4h-2.5zM1948.2 631.4h2.5v2.4h-2.5zM2026.8 631.4h2.5v2.4h-2.5zM2131.6 631.4h2.5v2.4h-2.5zM1785.3 634.2h8.3v2.4h-8.3zM1828.9 634.2h5.4v2.4h-5.4zM1843.5 634.2h2.5v2.4h-2.5zM1852.2 634.2h5.4v2.4h-5.4zM1866.8 634.2h5.4v2.4h-5.4zM1878.4 634.2h11.2v2.4h-11.2zM1895.9 634.2h2.5v2.4h-2.5zM1904.6 634.2h2.5v2.4h-2.5zM1913.3 634.2h2.5v2.4h-2.5zM1925.0 634.2h5.4v2.4h-5.4zM1933.7 634.2h2.5v2.4h-2.5zM1951.1 634.2h2.5v2.4h-2.5zM1980.3 634.2h2.5v2.4h-2.5zM1986.1 634.2h2.5v2.4h-2.5zM1991.9 634.2h2.5v2.4h-2.5zM2009.4 634.2h2.5v2.4h-2.5zM2070.5 634.2h2.5v2.4h-2.5zM1826.0 637.1h2.5v2.4h-2.5zM1840.6 637.1h2.5v2.4h-2.5zM1849.3 637.1h2.5v2.4h-2.5zM1855.1 637.1h2.5v2.4h-2.5zM1863.8 637.1h2.5v2.4h-2.5zM1869.7 637.1h2.5v2.4h-2.5zM1875.5 637.1h2.5v2.4h-2.5zM1890.0 637.1h2.5v2.4h-2.5zM1895.9 637.1h11.2v2.4h-11.2zM1916.2 637.1h2.5v2.4h-2.5zM1927.9 637.1h2.5v2.4h-2.5zM2018.1 637.1h2.5v2.4h-2.5zM1782.4 639.9h5.4v2.4h-5.4zM1834.7 639.9h2.5v2.4h-2.5zM1846.4 639.9h5.4v2.4h-5.4zM1858.0 639.9h8.3v2.4h-8.3zM1869.7 639.9h2.5v2.4h-2.5zM1875.5 639.9h2.5v2.4h-2.5zM1881.3 639.9h2.5v2.4h-2.5zM1887.1 639.9h2.5v2.4h-2.5zM1901.7 639.9h2.5v2.4h-2.5zM1910.4 639.9h5.4v2.4h-5.4zM1927.9 639.9h8.3v2.4h-8.3zM1957.0 639.9h2.5v2.4h-2.5zM1971.5 639.9h2.5v2.4h-2.5zM2015.2 639.9h2.5v2.4h-2.5zM2105.4 639.9h5.4v2.4h-5.4zM1779.5 642.7h2.5v2.4h-2.5zM1828.9 642.7h2.5v2.4h-2.5zM1849.3 642.7h2.5v2.4h-2.5zM1875.5 642.7h2.5v2.4h-2.5zM1890.0 642.7h2.5v2.4h-2.5zM1904.6 642.7h5.4v2.4h-5.4zM1913.3 642.7h5.4v2.4h-5.4zM1939.5 642.7h2.5v2.4h-2.5zM2029.7 642.7h2.5v2.4h-2.5zM2082.1 642.7h2.5v2.4h-2.5zM2117.0 642.7h2.5v2.4h-2.5zM1849.3 645.6h2.5v2.4h-2.5zM1855.1 645.6h5.4v2.4h-5.4zM1866.8 645.6h2.5v2.4h-2.5zM1875.5 645.6h2.5v2.4h-2.5zM1901.7 645.6h2.5v2.4h-2.5zM1913.3 645.6h2.5v2.4h-2.5zM1922.0 645.6h2.5v2.4h-2.5zM1779.5 648.4h2.5v2.4h-2.5zM1849.3 648.4h8.3v2.4h-8.3zM1860.9 648.4h5.4v2.4h-5.4zM1869.7 648.4h5.4v2.4h-5.4zM1878.4 648.4h2.5v2.4h-2.5zM1898.8 648.4h2.5v2.4h-2.5zM1904.6 648.4h5.4v2.4h-5.4zM1930.8 648.4h2.5v2.4h-2.5zM1942.4 648.4h2.5v2.4h-2.5zM2038.5 648.4h2.5v2.4h-2.5zM2070.5 648.4h2.5v2.4h-2.5zM2149.0 648.4h2.5v2.4h-2.5zM2157.8 648.4h2.5v2.4h-2.5zM2163.6 648.4h2.5v2.4h-2.5zM1764.9 651.3h5.4v2.4h-5.4zM1773.6 651.3h2.5v2.4h-2.5zM1858.0 651.3h2.5v2.4h-2.5zM1872.6 651.3h2.5v2.4h-2.5zM1887.1 651.3h2.5v2.4h-2.5zM1919.1 651.3h2.5v2.4h-2.5zM1869.7 654.1h2.5v2.4h-2.5zM1878.4 654.1h2.5v2.4h-2.5zM1884.2 654.1h8.3v2.4h-8.3zM1898.8 654.1h2.5v2.4h-2.5zM1907.5 654.1h2.5v2.4h-2.5zM1913.3 654.1h2.5v2.4h-2.5zM1925.0 654.1h2.5v2.4h-2.5zM2023.9 654.1h2.5v2.4h-2.5zM1759.1 656.9h2.5v2.4h-2.5zM1770.7 656.9h2.5v2.4h-2.5zM1863.8 656.9h5.4v2.4h-5.4zM1872.6 656.9h11.2v2.4h-11.2zM1892.9 656.9h2.5v2.4h-2.5zM1904.6 656.9h2.5v2.4h-2.5zM1922.0 656.9h2.5v2.4h-2.5zM1951.1 656.9h2.5v2.4h-2.5zM1968.6 656.9h2.5v2.4h-2.5zM2151.9 656.9h2.5v2.4h-2.5zM1764.9 659.8h2.5v2.4h-2.5zM1878.4 659.8h2.5v2.4h-2.5zM1887.1 659.8h5.4v2.4h-5.4zM1895.9 659.8h2.5v2.4h-2.5zM1910.4 659.8h2.5v2.4h-2.5zM1922.0 659.8h2.5v2.4h-2.5zM1930.8 659.8h2.5v2.4h-2.5zM1997.7 659.8h2.5v2.4h-2.5zM1759.1 662.6h2.5v2.4h-2.5zM1887.1 662.6h2.5v2.4h-2.5zM1892.9 662.6h2.5v2.4h-2.5zM1904.6 662.6h5.4v2.4h-5.4zM1977.3 662.6h2.5v2.4h-2.5zM1994.8 662.6h2.5v2.4h-2.5zM2169.4 662.6h2.5v2.4h-2.5zM1750.3 665.5h2.5v2.4h-2.5zM1759.1 665.5h2.5v2.4h-2.5zM1764.9 665.5h2.5v2.4h-2.5zM1881.3 665.5h5.4v2.4h-5.4zM1895.9 665.5h2.5v2.4h-2.5zM1901.7 665.5h5.4v2.4h-5.4zM1910.4 665.5h5.4v2.4h-5.4zM1922.0 665.5h2.5v2.4h-2.5zM1930.8 665.5h2.5v2.4h-2.5zM2032.6 665.5h2.5v2.4h-2.5zM2125.8 665.5h2.5v2.4h-2.5zM2140.3 665.5h5.4v2.4h-5.4zM1762.0 668.3h2.5v2.4h-2.5zM1881.3 668.3h5.4v2.4h-5.4zM1895.9 668.3h2.5v2.4h-2.5zM1901.7 668.3h2.5v2.4h-2.5zM1910.4 668.3h2.5v2.4h-2.5zM1916.2 668.3h2.5v2.4h-2.5zM1764.9 671.1h2.5v2.4h-2.5zM1878.4 671.1h2.5v2.4h-2.5zM1887.1 671.1h2.5v2.4h-2.5zM1901.7 671.1h8.3v2.4h-8.3zM1927.9 671.1h2.5v2.4h-2.5zM1762.0 674.0h2.5v2.4h-2.5zM1878.4 674.0h5.4v2.4h-5.4zM1887.1 674.0h5.4v2.4h-5.4zM1898.8 674.0h2.5v2.4h-2.5zM1910.4 674.0h2.5v2.4h-2.5zM1922.0 674.0h2.5v2.4h-2.5zM1962.8 674.0h2.5v2.4h-2.5zM1997.7 674.0h2.5v2.4h-2.5zM2003.5 674.0h2.5v2.4h-2.5zM2009.4 674.0h2.5v2.4h-2.5zM2149.0 674.0h2.5v2.4h-2.5zM1762.0 676.8h2.5v2.4h-2.5zM1875.5 676.8h2.5v2.4h-2.5zM1895.9 676.8h2.5v2.4h-2.5zM1907.5 676.8h2.5v2.4h-2.5zM2000.6 676.8h2.5v2.4h-2.5zM1759.1 679.6h5.4v2.4h-5.4zM1878.4 679.6h5.4v2.4h-5.4zM1898.8 679.6h2.5v2.4h-2.5zM1904.6 679.6h5.4v2.4h-5.4zM2134.5 679.6h2.5v2.4h-2.5zM2140.3 679.6h2.5v2.4h-2.5zM1759.1 682.5h2.5v2.4h-2.5zM1869.7 682.5h2.5v2.4h-2.5zM1884.2 682.5h2.5v2.4h-2.5zM1895.9 682.5h2.5v2.4h-2.5zM1913.3 682.5h2.5v2.4h-2.5zM1756.2 685.3h2.5v2.4h-2.5zM1762.0 685.3h2.5v2.4h-2.5zM1858.0 685.3h2.5v2.4h-2.5zM1895.9 685.3h2.5v2.4h-2.5zM1901.7 685.3h2.5v2.4h-2.5zM2050.1 685.3h2.5v2.4h-2.5zM1762.0 688.2h8.3v2.4h-8.3zM1776.5 688.2h5.4v2.4h-5.4zM1811.5 688.2h5.4v2.4h-5.4zM1831.8 688.2h8.3v2.4h-8.3zM1843.5 688.2h5.4v2.4h-5.4zM1852.2 688.2h2.5v2.4h-2.5zM1858.0 688.2h2.5v2.4h-2.5zM1863.8 688.2h2.5v2.4h-2.5zM1878.4 688.2h2.5v2.4h-2.5zM1887.1 688.2h2.5v2.4h-2.5zM2044.3 688.2h2.5v2.4h-2.5zM2134.5 688.2h2.5v2.4h-2.5zM1770.7 691.0h2.5v2.4h-2.5zM1782.4 691.0h2.5v2.4h-2.5zM1788.2 691.0h2.5v2.4h-2.5zM1796.9 691.0h2.5v2.4h-2.5zM1808.6 691.0h8.3v2.4h-8.3zM1823.1 691.0h2.5v2.4h-2.5zM1828.9 691.0h2.5v2.4h-2.5zM1834.7 691.0h2.5v2.4h-2.5zM1843.5 691.0h5.4v2.4h-5.4zM1855.1 691.0h2.5v2.4h-2.5zM1860.9 691.0h2.5v2.4h-2.5zM1866.8 691.0h2.5v2.4h-2.5zM1890.0 691.0h2.5v2.4h-2.5zM1910.4 691.0h2.5v2.4h-2.5zM2023.9 691.0h2.5v2.4h-2.5zM1788.2 693.8h2.5v2.4h-2.5zM1814.4 693.8h2.5v2.4h-2.5zM1826.0 693.8h2.5v2.4h-2.5zM1840.6 693.8h2.5v2.4h-2.5zM1869.7 693.8h2.5v2.4h-2.5zM1878.4 693.8h2.5v2.4h-2.5zM2169.4 693.8h2.5v2.4h-2.5zM1764.9 696.7h2.5v2.4h-2.5zM1773.6 696.7h2.5v2.4h-2.5zM1788.2 696.7h2.5v2.4h-2.5zM1843.5 696.7h2.5v2.4h-2.5zM1872.6 696.7h2.5v2.4h-2.5zM1820.2 699.5h2.5v2.4h-2.5z"/>
<path fill="rgb(0,0,255)" d="M1814.4 418.4h2.5v2.4h-2.5zM1826.0 429.7h2.5v2.4h-2.5zM2102.5 429.7h2.5v2.4h-2.5zM2128.7 429.7h2.5v2.4h-2.5zM2157.8 429.7h2.5v2.4h-2.5zM1840.6 432.6h5.4v2.4h-5.4zM1968.6 432.6h2.5v2.4h-2.5zM2085.0 432.6h2.5v2.4h-2.5zM2102.5 432.6h2.5v2.4h-2.5zM2114.1 432.6h2.5v2.4h-2.5zM1782.4 435.4h2.5v2.4h-2.5zM1802.7 435.4h2.5v2.4h-2.5zM1814.4 435.4h5.4v2.4h-5.4zM1866.8 435.4h2.5v2.4h-2.5zM1796.9 438.3h2.5v2.4h-2.5zM1820.2 438.3h2.5v2.4h-2.5zM1826.0 438.3h2.5v2.4h-2.5zM1837.7 438.3h2.5v2.4h-2.5zM2085.0 438.3h2.5v2.4h-2.5zM2111.2 438.3h2.5v2.4h-2.5zM1823.1 441.1h2.5v2.4h-2.5zM1863.8 441.1h2.5v2.4h-2.5zM1925.0 441.1h2.5v2.4h-2.5zM2073.4 441.1h2.5v2.4h-2.5zM2131.6 441.1h5.4v2.4h-5.4zM2157.8 441.1h2.5v2.4h-2.5zM2186.9 441.1h2.5v2.4h-2.5zM1788.2 443.9h2.5v2.4h-2.5zM1863.8 443.9h2.5v2.4h-2.5zM2070.5 443.9h2.5v2.4h-2.5zM2082.1 443.9h5.4v2.4h-5.4zM2093.7 443.9h2.5v2.4h-2.5zM1779.5 446.8h2.5v2.4h-2.5zM1791.1 446.8h2.5v2.4h-2.5zM1799.8 446.8h2.5v2.4h-2.5zM1814.4 446.8h2.5v2.4h-2.5zM1875.5 446.8h2.5v2.4h-2.5zM1919.1 446.8h2.5v2.4h-2.5zM1942.4 446.8h2.5v2.4h-2.5zM2026.8 446.8h2.5v2.4h-2.5zM2053.0 446.8h2.5v2.4h-2.5zM2111.2 446.8h2.5v2.4h-2.5zM2140.3 446.8h2.5v2.4h-2.5zM1779.5 449.6h2.5v2.4h-2.5zM1785.3 449.6h2.5v2.4h-2.5zM1866.8 449.6h5.4v2.4h-5.4zM1881.3 449.6h2.5v2.4h-2.5zM1916.2 449.6h2.5v2.4h-2.5zM1936.6 449.6h2.5v2.4h-2.5zM1959.9 449.6h2.5v2.4h-2.5zM2082.1 449.6h2.5v2.4h-2.5zM2102.5 449.6h2.5v2.4h-2.5zM2143.2 449.6h2.5v2.4h-2.5zM2160.7 449.6h2.5v2.4h-2.5zM2175.2 449.6h5.4v2.4h-5.4zM2035.5 452.5h2.5v2.4h-2.5zM2067.6 452.5h2.5v2.4h-2.5zM2128.7 452.5h2.5v2.4h-2.5zM1788.2 455.3h2.5v2.4h-2.5zM1878.4 455.3h2.5v2.4h-2.5zM1892.9 455.3h2.5v2.4h-2.5zM1913.3 455.3h2.5v2.4h-2.5zM2073.4 455.3h2.5v2.4h-2.5zM1954.1 458.1h2.5v2.4h-2.5zM2067.6 458.1h2.5v2.4h-2.5zM2134.5 458.1h2.5v2.4h-2.5zM2157.8 458.1h2.5v2.4h-2.5zM1895.9 461.0h2.5v2.4h-2.5zM1989.0 461.0h2.5v2.4h-2.5zM2006.4 461.0h2.5v2.4h-2.5zM2012.3 461.0h2.5v2.4h-2.5zM2058.8 461.0h2.5v2.4h-2.5zM2079.2 461.0h2.5v2.4h-2.5zM2085.0 461.0h2.5v2.4h-2.5zM2117.0 461.0h2.5v2.4h-2.5zM2143.2 461.0h2.5v2.4h-2.5zM1802.7 463.8h2.5v2.4h-2.5zM1884.2 463.8h2.5v2.4h-2.5zM1916.2 463.8h2.5v2.4h-2.5zM1930.8 463.8h2.5v2.4h-2.5zM1959.9 463.8h2.5v2.4h-2.5zM1977.3 463.8h2.5v2.4h-2.5zM2023.9 463.8h2.5v2.4h-2.5zM2029.7 463.8h2.5v2.4h-2.5zM2041.4 463.8h2.5v2.4h-2.5zM2070.5 463.8h2.5v2.4h-2.5zM1930.8 466.7h2.5v2.4h-2.5zM2006.4 466.7h2.5v2.4h-2.5zM2029.7 466.7h2.5v2.4h-2.5zM2085.0 466.7h2.5v2.4h-2.5zM2157.8 466.7h2.5v2.4h-2.5zM1875.5 469.5h2.5v2.4h-2.5zM1910.4 469.5h2.5v2.4h-2.5zM2055.9 469.5h2.5v2.4h-2.5zM2064.6 469.5h2.5v2.4h-2.5zM2082.1 469.5h2.5v2.4h-2.5zM2090.8 469.5h2.5v2.4h-2.5zM1878.4 472.3h2.5v2.4h-2.5zM1913.3 472.3h2.5v2.4h-2.5zM1936.6 472.3h2.5v2.4h-2.5zM2044.3 472.3h2.5v2.4h-2.5zM2122.8 472.3h5.4v2.4h-5.4zM1895.9 475.2h2.5v2.4h-2.5zM1933.7 475.2h2.5v2.4h-2.5zM2067.6 475.2h2.5v2.4h-2.5zM2090.8 475.2h2.5v2.4h-2.5zM1890.0 478.0h2.5v2.4h-2.5zM1942.4 478.0h2.5v2.4h-2.5zM1977.3 478.0h2.5v2.4h-2.5zM2085.0 478.0h2.5v2.4h-2.5zM2119.9 478.0h2.5v2.4h-2.5zM2146.1 478.0h2.5v2.4h-2.5zM2163.6 478.0h5.4v2.4h-5.4zM1901.7 480.9h2.5v2.4h-2.5zM1916.2 480.9h2.5v2.4h-2.5zM1925.0 480.9h2.5v2.4h-2.5zM1933.7 480.9h2.5v2.4h-2.5zM2090.8 480.9h2.5v2.4h-2.5zM2151.9 480.9h2.5v2.4h-2.5zM1776.5 483.7h2.5v2.4h-2.5zM1907.5 483.7h2.5v2.4h-2.5zM1936.6 483.7h5.4v2.4h-5.4zM1977.3 483.7h2.5v2.4h-2.5zM1989.0 483.7h2.5v2.4h-2.5zM2058.8 483.7h2.5v2.4h-2.5zM2079.2 483.7h2.5v2.4h-2.5zM2119.9 483.7h2.5v2.4h-2.5zM2131.6 483.7h5.4v2.4h-5.4zM1919.1 486.5h2.5v2.4h-2.5zM2032.6 486.5h2.5v2.4h-2.5zM2119.9 486.5h2.5v2.4h-2.5zM1904.6 489.4h2.5v2.4h-2.5zM1916.2 489.4h2.5v2.4h-2.5zM1933.7 489.4h2.5v2.4h-2.5zM1986.1 489.4h2.5v2.4h-2.5zM2021.0 489.4h2.5v2.4h-2.5zM2073.4 489.4h2.5v2.4h-2.5zM2082.1 489.4h2.5v2.4h-2.5zM1942.4 492.2h2.5v2.4h-2.5zM2035.5 492.2h2.5v2.4h-2.5zM2058.8 492.2h2.5v2.4h-2.5zM2090.8 492.2h2.5v2.4h-2.5zM2122.8 492.2h2.5v2.4h-2.5zM2128.7 492.2h2.5v2.4h-2.5zM1878.4 495.1h2.5v2.4h-2.5zM2038.5 495.1h2.5v2.4h-2.5zM2064.6 495.1h2.5v2.4h-2.5zM2117.0 495.1h2.5v2.4h-2.5zM1878.4 497.9h5.4v2.4h-5.4zM1887.1 497.9h2.5v2.4h-2.5zM1892.9 497.9h2.5v2.4h-2.5zM1925.0 497.9h2.5v2.4h-2.5zM1936.6 497.9h2.5v2.4h-2.5zM1983.2 497.9h2.5v2.4h-2.5zM2047.2 497.9h5.4v2.4h-5.4zM2058.8 497.9h2.5v2.4h-2.5zM2067.6 497.9h2.5v2.4h-2.5zM2137.4 497.9h2.5v2.4h-2.5zM2149.0 497.9h2.5v2.4h-2.5zM2160.7 497.9h2.5v2.4h-2.5zM1901.7 500.7h2.5v2.4h-2.5zM2149.0 500.7h2.5v2.4h-2.5zM1808.6 503.6h2.5v2.4h-2.5zM1887.1 503.6h2.5v2.4h-2.5zM1895.9 503.6h2.5v2.4h-2.5zM1936.6 503.6h2.5v2.4h-2.5zM1959.9 503.6h2.5v2.4h-2.5zM1980.3 503.6h2.5v2.4h-2.5zM2055.9 503.6h2.5v2.4h-2.5zM2064.6 503.6h2.5v2.4h-2.5zM2166.5 503.6h2.5v2.4h-2.5zM1933.7 506.4h2.5v2.4h-2.5zM1939.5 506.4h2.5v2.4h-2.5zM2021.0 506.4h2.5v2.4h-2.5zM2108.3 506.4h2.5v2.4h-2.5zM2146.1 506.4h2.5v2.4h-2.5zM2163.6 506.4h2.5v2.4h-2.5zM1811.5 509.3h2.5v2.4h-2.5zM1884.2 509.3h2.5v2.4h-2.5zM2053.0 509.3h2.5v2.4h-2.5zM2099.6 509.3h2.5v2.4h-2.5zM2105.4 509.3h2.5v2.4h-2.5zM2146.1 509.3h2.5v2.4h-2.5zM1802.7 512.1h2.5v2.4h-2.5zM1939.5 512.1h2.5v2.4h-2.5zM1945.3 512.1h2.5v2.4h-2.5zM2047.2 512.1h2.5v2.4h-2.5zM2102.5 512.1h2.5v2.4h-2.5zM1776.5 514.9h2.5v2.4h-2.5zM1948.2 514.9h2.5v2.4h-2.5zM1957.0 514.9h2.5v2.4h-2.5zM2111.2 514.9h2.5v2.4h-2.5zM2143.2 514.9h2.5v2.4h-2.5zM2151.9 514.9h2.5v2.4h-2.5zM1919.1 517.8h2.5v2.4h-2.5zM1805.6 520.6h2.5v2.4h-2.5zM1919.1 520.6h2.5v2.4h-2.5zM2029.7 520.6h2.5v2.4h-2.5zM2064.6 520.6h2.5v2.4h-2.5zM2070.5 520.6h2.5v2.4h-2.5zM1913.3 523.5h2.5v2.4h-2.5zM1936.6 523.5h2.5v2.4h-2.5zM1962.8 523.5h8.3v2.4h-8.3zM2055.9 523.5h2.5v2.4h-2.5zM2166.5 523.5h2.5v2.4h-2.5zM2070.5 526.3h2.5v2.4h-2.5zM2134.5 526.3h2.5v2.4h-2.5zM1951.1 529.1h2.5v2.4h-2.5zM2061.7 529.1h2.5v2.4h-2.5zM2073.4 529.1h2.5v2.4h-2.5zM2157.8 529.1h2.5v2.4h-2.5zM1776.5 532.0h2.5v2.4h-2.5zM1913.3 532.0h2.5v2.4h-2.5zM1962.8 532.0h2.5v2.4h-2.5zM2021.0 532.0h2.5v2.4h-2.5zM2064.6 532.0h2.5v2.4h-2.5zM2073.4 532.0h2.5v2.4h-2.5zM2082.1 532.0h2.5v2.4h-2.5zM2087.9 532.0h2.5v2.4h-2.5zM2146.1 532.0h2.5v2.4h-2.5zM2169.4 532.0h2.5v2.4h-2.5zM1776.5 534.8h2.5v2.4h-2.5zM1866.8 534.8h2.5v2.4h-2.5zM1916.2 534.8h2.5v2.4h-2.5zM1957.0 534.8h2.5v2.4h-2.5zM2044.3 534.8h2.5v2.4h-2.5zM2058.8 534.8h5.4v2.4h-5.4zM1878.4 537.7h2.5v2.4h-2.5zM2175.2 537.7h2.5v2.4h-2.5zM1919.1 540.5h2.5v2.4h-2.5zM1925.0 540.5h2.5v2.4h-2.5zM1962.8 540.5h2.5v2.4h-2.5zM2038.5 540.5h2.5v2.4h-2.5zM2061.7 540.5h2.5v2.4h-2.5zM2169.4 540.5h2.5v2.4h-2.5zM1860.9 543.3h2.5v2.4h-2.5zM1895.9 543.3h2.5v2.4h-2.5zM1913.3 543.3h2.5v2.4h-2.5zM1922.0 543.3h2.5v2.4h-2.5zM2021.0 543.3h2.5v2.4h-2.5zM2134.5 543.3h2.5v2.4h-2.5zM1907.5 546.2h2.5v2.4h-2.5zM1945.3 546.2h2.5v2.4h-2.5zM1957.0 546.2h2.5v2.4h-2.5zM2053.0 546.2h2.5v2.4h-2.5zM2070.5 546.2h2.5v2.4h-2.5zM2154.9 546.2h2.5v2.4h-2.5zM2166.5 546.2h2.5v2.4h-2.5zM1910.4 549.0h2.5v2.4h-2.5zM1916.2 549.0h2.5v2.4h-2.5zM1927.9 549.0h2.5v2.4h-2.5zM1971.5 549.0h2.5v2.4h-2.5zM2041.4 549.0h2.5v2.4h-2.5zM2064.6 549.0h5.4v2.4h-5.4zM1948.2 551.9h2.5v2.4h-2.5zM2151.9 551.9h2.5v2.4h-2.5zM1910.4 554.7h2.5v2.4h-2.5zM1951.1 554.7h2.5v2.4h-2.5zM2055.9 554.7h2.5v2.4h-2.5zM2090.8 554.7h2.5v2.4h-2.5zM2099.6 554.7h2.5v2.4h-2.5zM2160.7 554.7h2.5v2.4h-2.5zM1802.7 557.5h2.5v2.4h-2.5zM1933.7 557.5h2.5v2.4h-2.5zM1954.1 557.5h2.5v2.4h-2.5zM2015.2 557.5h2.5v2.4h-2.5zM2154.9 557.5h2.5v2.4h-2.5zM1773.6 560.4h2.5v2.4h-2.5zM1837.7 560.4h2.5v2.4h-2.5zM1881.3 560.4h2.5v2.4h-2.5zM1887.1 560.4h2.5v2.4h-2.5zM1892.9 560.4h2.5v2.4h-2.5zM1901.7 560.4h2.5v2.4h-2.5zM1986.1 560.4h2.5v2.4h-2.5zM2050.1 560.4h2.5v2.4h-2.5zM2085.0 560.4h2.5v2.4h-2.5zM2131.6 560.4h2.5v2.4h-2.5zM1872.6 563.2h2.5v2.4h-2.5zM1916.2 563.2h2.5v2.4h-2.5zM2151.9 563.2h2.5v2.4h-2.5zM1831.8 566.1h2.5v2.4h-2.5zM1916.2 566.1h2.5v2.4h-2.5zM2006.4 566.1h2.5v2.4h-2.5zM2029.7 566.1h2.5v2.4h-2.5zM2053.0 566.1h2.5v2.4h-2.5zM2061.7 566.1h2.5v2.4h-2.5zM2085.0 566.1h2.5v2.4h-2.5zM2114.1 566.1h2.5v2.4h-2.5zM1881.3 568.9h2.5v2.4h-2.5zM2076.3 568.9h2.5v2.4h-2.5zM1930.8 571.7h2.5v2.4h-2.5zM2093.7 571.7h2.5v2.4h-2.5zM1858.0 574.6h2.5v2.4h-2.5zM1887.1 574.6h2.5v2.4h-2.5zM1901.7 574.6h2.5v2.4h-2.5zM2041.4 574.6h2.5v2.4h-2.5zM2050.1 574.6h2.5v2.4h-2.5zM2105.4 574.6h2.5v2.4h-2.5zM1782.4 577.4h2.5v2.4h-2.5zM1808.6 577.4h2.5v2.4h-2.5zM1922.0 577.4h2.5v2.4h-2.5zM1930.8 577.4h2.5v2.4h-2.5zM1957.0 577.4h2.5v2.4h-2.5zM2015.2 577.4h2.5v2.4h-2.5zM2023.9 577.4h2.5v2.4h-2.5zM2029.7 577.4h2.5v2.4h-2.5zM2085.0 577.4h2.5v2.4h-2.5zM2137.4 577.4h2.5v2.4h-2.5zM2151.9 577.4h2.5v2.4h-2.5zM1782.4 580.3h2.5v2.4h-2.5zM1910.4 580.3h2.5v2.4h-2.5zM1930.8 580.3h2.5v2.4h-2.5zM2055.9 580.3h2.5v2.4h-2.5zM2140.3 580.3h2.5v2.4h-2.5zM2175.2 580.3h2.5v2.4h-2.5zM1881.3 583.1h2.5v2.4h-2.5zM1942.4 583.1h2.5v2.4h-2.5zM1971.5 583.1h2.5v2.4h-2.5zM2047.2 583.1h2.5v2.4h-2.5zM2061.7 583.1h2.5v2.4h-2.5zM2102.5 583.1h2.5v2.4h-2.5zM1858.0 585.9h2.5v2.4h-2.5zM1887.1 585.9h2.5v2.4h-2.5zM1901.7 585.9h2.5v2.4h-2.5zM1913.3 585.9h2.5v2.4h-2.5zM2009.4 585.9h2.5v2.4h-2.5zM2111.2 585.9h2.5v2.4h-2.5zM2157.8 585.9h2.5v2.4h-2.5zM1860.9 588.8h2.5v2.4h-2.5zM1869.7 588.8h2.5v2.4h-2.5zM1974.4 588.8h2.5v2.4h-2.5zM2009.4 588.8h2.5v2.4h-2.5zM2038.5 588.8h2.5v2.4h-2.5zM2047.2 588.8h2.5v2.4h-2.5zM2114.1 588.8h2.5v2.4h-2.5zM1802.7 591.6h2.5v2.4h-2.5zM1808.6 591.6h2.5v2.4h-2.5zM1884.2 591.6h5.4v2.4h-5.4zM1820.2 594.5h2.5v2.4h-2.5zM1925.0 594.5h2.5v2.4h-2.5zM2041.4 594.5h2.5v2.4h-2.5zM2055.9 594.5h2.5v2.4h-2.5zM2061.7 594.5h5.4v2.4h-5.4zM2079.2 594.5h2.5v2.4h-2.5zM1881.3 597.3h5.4v2.4h-5.4zM1895.9 597.3h2.5v2.4h-2.5zM1933.7 597.3h2.5v2.4h-2.5zM1942.4 597.3h2.5v2.4h-2.5zM2041.4 597.3h2.5v2.4h-2.5zM2058.8 597.3h2.5v2.4h-2.5zM2073.4 597.3h2.5v2.4h-2.5zM2085.0 597.3h2.5v2.4h-2.5zM2122.8 597.3h2.5v2.4h-2.5zM2163.6 597.3h2.5v2.4h-2.5zM1779.5 600.1h2.5v2.4h-2.5zM1863.8 600.1h2.5v2.4h-2.5zM1872.6 600.1h2.5v2.4h-2.5zM1890.0 600.1h2.5v2.4h-2.5zM2050.1 600.1h2.5v2.4h-2.5zM1808.6 603.0h2.5v2.4h-2.5zM2117.0 603.0h2.5v2.4h-2.5zM1860.9 605.8h2.5v2.4h-2.5zM1901.7 605.8h2.5v2.4h-2.5zM1913.3 605.8h2.5v2.4h-2.5zM1788.2 608.7h2.5v2.4h-2.5zM1869.7 608.7h2.5v2.4h-2.5zM1884.2 608.7h2.5v2.4h-2.5zM1898.8 608.7h2.5v2.4h-2.5zM1927.9 608.7h2.5v2.4h-2.5zM1788.2 611.5h2.5v2.4h-2.5zM1875.5 611.5h2.5v2.4h-2.5zM1881.3 611.5h2.5v2.4h-2.5zM1925.0 611.5h2.5v2.4h-2.5zM2093.7 611.5h2.5v2.4h-2.5zM1860.9 614.3h2.5v2.4h-2.5zM1884.2 614.3h2.5v2.4h-2.5zM1933.7 614.3h2.5v2.4h-2.5zM1855.1 617.2h2.5v2.4h-2.5zM1863.8 617.2h2.5v2.4h-2.5zM1869.7 617.2h2.5v2.4h-2.5zM1901.7 617.2h2.5v2.4h-2.5zM1916.2 617.2h2.5v2.4h-2.5zM1849.3 620.0h2.5v2.4h-2.5zM1875.5 622.9h2.5v2.4h-2.5zM1887.1 622.9h2.5v2.4h-2.5zM1820.2 625.7h2.5v2.4h-2.5zM1904.6 625.7h2.5v2.4h-2.5zM1913.3 625.7h2.5v2.4h-2.5zM1930.8 625.7h2.5v2.4h-2.5zM1846.4 628.5h2.5v2.4h-2.5zM1901.7 628.5h2.5v2.4h-2.5zM1907.5 628.5h2.5v2.4h-2.5zM1919.1 628.5h2.5v2.4h-2.5zM1779.5 631.4h2.5v2.4h-2.5zM1796.9 631.4h2.5v2.4h-2.5zM1805.6 631.4h2.5v2.4h-2.5zM1875.5 631.4h2.5v2.4h-2.5zM1892.9 631.4h2.5v2.4h-2.5zM1904.6 631.4h2.5v2.4h-2.5zM1794.0 634.2h2.5v2.4h-2.5zM1808.6 634.2h2.5v2.4h-2.5zM1872.6 634.2h2.5v2.4h-2.5zM1907.5 634.2h2.5v2.4h-2.5zM1846.4 637.1h2.5v2.4h-2.5zM1860.9 637.1h2.5v2.4h-2.5zM1887.1 637.1h2.5v2.4h-2.5zM1866.8 639.9h2.5v2.4h-2.5zM1907.5 639.9h2.5v2.4h-2.5zM1788.2 642.7h2.5v2.4h-2.5zM1826.0 642.7h2.5v2.4h-2.5zM1837.7 642.7h2.5v2.4h-2.5zM1785.3 645.6h2.5v2.4h-2.5zM1872.6 645.6h2.5v2.4h-2.5zM1892.9 645.6h2.5v2.4h-2.5zM1910.4 645.6h2.5v2.4h-2.5zM1837.7 648.4h2.5v2.4h-2.5zM1846.4 651.3h2.5v2.4h-2.5zM1881.3 651.3h2.5v2.4h-2.5zM1892.9 651.3h2.5v2.4h-2.5zM1901.7 654.1h2.5v2.4h-2.5zM1887.1 656.9h2.5v2.4h-2.5zM1895.9 656.9h2.5v2.4h-2.5zM1910.4 656.9h2.5v2.4h-2.5zM1773.6 659.8h2.5v2.4h-2.5zM1770.7 662.6h2.5v2.4h-2.5zM1910.4 662.6h2.5v2.4h-2.5zM1770.7 665.5h2.5v2.4h-2.5zM1890.0 665.5h2.5v2.4h-2.5zM1875.5 668.3h2.5v2.4h-2.5zM1898.8 668.3h2.5v2.4h-2.5zM1907.5 668.3h2.5v2.4h-2.5zM1913.3 668.3h2.5v2.4h-2.5zM1895.9 674.0h2.5v2.4h-2.5zM1904.6 674.0h2.5v2.4h-2.5zM1770.7 676.8h5.4v2.4h-5.4zM1892.9 676.8h2.5v2.4h-2.5zM1895.9 679.6h2.5v2.4h-2.5zM1890.0 682.5h2.5v2.4h-2.5zM1779.5 685.3h5.4v2.4h-5.4zM1817.3 685.3h2.5v2.4h-2.5zM1837.7 685.3h2.5v2.4h-2.5zM1852.2 685.3h2.5v2.4h-2.5zM1863.8 685.3h2.5v2.4h-2.5zM1875.5 685.3h2.5v2.4h-2.5zM1770.7 688.2h2.5v2.4h-2.5zM1759.1 691.0h5.4v2.4h-5.4zM1767.8 693.8h2.5v2.4h-2.5z"/>
<path fill="rgb(0,0,255)" d="M1840.6 443.9h2.5v2.4h-2.5zM1925.0 443.9h2.5v2.4h-2.5zM1805.6 446.8h2.5v2.4h-2.5zM1837.7 446.8h2.5v2.4h-2.5zM1925.0 446.8h2.5v2.4h-2.5zM1834.7 449.6h2.5v2.4h-2.5zM1852.2 449.6h5.4v2.4h-5.4zM2114.1 449.6h2.5v2.4h-2.5zM1802.7 452.5h2.5v2.4h-2.5zM1820.2 452.5h2.5v2.4h-2.5zM1834.7 452.5h2.5v2.4h-2.5zM1843.5 452.5h2.5v2.4h-2.5zM2114.1 452.5h5.4v2.4h-5.4zM1791.1 455.3h2.5v2.4h-2.5zM1823.1 455.3h2.5v2.4h-2.5zM1840.6 455.3h2.5v2.4h-2.5zM1866.8 455.3h2.5v2.4h-2.5zM2105.4 455.3h2.5v2.4h-2.5zM2122.8 455.3h5.4v2.4h-5.4zM1843.5 458.1h2.5v2.4h-2.5zM1855.1 458.1h2.5v2.4h-2.5zM1872.6 458.1h2.5v2.4h-2.5zM2079.2 458.1h2.5v2.4h-2.5zM1782.4 461.0h2.5v2.4h-2.5zM1788.2 461.0h2.5v2.4h-2.5zM1811.5 461.0h5.4v2.4h-5.4zM1852.2 461.0h2.5v2.4h-2.5zM1872.6 461.0h5.4v2.4h-5.4zM2119.9 461.0h5.4v2.4h-5.4zM2128.7 461.0h2.5v2.4h-2.5zM1782.4 463.8h5.4v2.4h-5.4zM1814.4 463.8h2.5v2.4h-2.5zM1840.6 463.8h2.5v2.4h-2.5zM1860.9 463.8h8.3v2.4h-8.3zM2128.7 463.8h5.4v2.4h-5.4zM1788.2 466.7h2.5v2.4h-2.5zM1814.4 466.7h2.5v2.4h-2.5zM1820.2 466.7h2.5v2.4h-2.5zM1863.8 466.7h2.5v2.4h-2.5zM1913.3 466.7h2.5v2.4h-2.5zM2061.7 466.7h2.5v2.4h-2.5zM2131.6 466.7h2.5v2.4h-2.5zM2166.5 466.7h2.5v2.4h-2.5zM1805.6 469.5h2.5v2.4h-2.5zM1823.1 469.5h2.5v2.4h-2.5zM1785.3 472.3h2.5v2.4h-2.5zM1860.9 472.3h2.5v2.4h-2.5zM2096.7 472.3h2.5v2.4h-2.5zM2102.5 472.3h2.5v2.4h-2.5zM1785.3 475.2h2.5v2.4h-2.5zM1826.0 475.2h2.5v2.4h-2.5zM1863.8 475.2h2.5v2.4h-2.5zM1919.1 475.2h2.5v2.4h-2.5zM2041.4 475.2h2.5v2.4h-2.5zM2076.3 475.2h2.5v2.4h-2.5zM2099.6 475.2h2.5v2.4h-2.5zM2134.5 475.2h5.4v2.4h-5.4zM2143.2 475.2h2.5v2.4h-2.5zM1811.5 478.0h2.5v2.4h-2.5zM1837.7 478.0h5.4v2.4h-5.4zM1866.8 478.0h2.5v2.4h-2.5zM1919.1 478.0h2.5v2.4h-2.5zM2058.8 478.0h2.5v2.4h-2.5zM2076.3 478.0h2.5v2.4h-2.5zM2087.9 478.0h2.5v2.4h-2.5zM1843.5 480.9h5.4v2.4h-5.4zM1872.6 480.9h2.5v2.4h-2.5zM2067.6 480.9h5.4v2.4h-5.4zM1782.4 483.7h2.5v2.4h-2.5zM1823.1 483.7h2.5v2.4h-2.5zM1869.7 483.7h2.5v2.4h-2.5zM1788.2 486.5h2.5v2.4h-2.5zM1872.6 486.5h2.5v2.4h-2.5zM2053.0 486.5h2.5v2.4h-2.5zM2064.6 486.5h5.4v2.4h-5.4zM1788.2 489.4h2.5v2.4h-2.5zM1794.0 489.4h2.5v2.4h-2.5zM1826.0 489.4h2.5v2.4h-2.5zM1852.2 489.4h2.5v2.4h-2.5zM1858.0 489.4h5.4v2.4h-5.4zM1872.6 489.4h5.4v2.4h-5.4zM1892.9 489.4h2.5v2.4h-2.5zM2067.6 489.4h2.5v2.4h-2.5zM2111.2 489.4h2.5v2.4h-2.5zM1782.4 492.2h5.4v2.4h-5.4zM1895.9 492.2h2.5v2.4h-2.5zM1919.1 492.2h2.5v2.4h-2.5zM1925.0 492.2h5.4v2.4h-5.4zM1959.9 492.2h2.5v2.4h-2.5zM2053.0 492.2h5.4v2.4h-5.4zM2070.5 492.2h5.4v2.4h-5.4zM2096.7 492.2h2.5v2.4h-2.5zM2111.2 492.2h2.5v2.4h-2.5zM1796.9 495.1h5.4v2.4h-5.4zM1820.2 495.1h5.4v2.4h-5.4zM1846.4 495.1h2.5v2.4h-2.5zM1855.1 495.1h2.5v2.4h-2.5zM1872.6 495.1h2.5v2.4h-2.5zM1933.7 495.1h2.5v2.4h-2.5zM2093.7 495.1h2.5v2.4h-2.5zM2169.4 495.1h2.5v2.4h-2.5zM1776.5 497.9h2.5v2.4h-2.5zM1802.7 497.9h2.5v2.4h-2.5zM1866.8 497.9h2.5v2.4h-2.5zM1910.4 497.9h2.5v2.4h-2.5zM2079.2 497.9h2.5v2.4h-2.5zM1788.2 500.7h2.5v2.4h-2.5zM1811.5 500.7h2.5v2.4h-2.5zM1831.8 500.7h2.5v2.4h-2.5zM1860.9 500.7h2.5v2.4h-2.5zM1869.7 500.7h2.5v2.4h-2.5zM1910.4 500.7h2.5v2.4h-2.5zM1782.4 503.6h2.5v2.4h-2.5zM1788.2 503.6h2.5v2.4h-2.5zM1858.0 503.6h2.5v2.4h-2.5zM1898.8 503.6h2.5v2.4h-2.5zM2076.3 503.6h2.5v2.4h-2.5zM2090.8 503.6h2.5v2.4h-2.5zM2096.7 503.6h2.5v2.4h-2.5zM1788.2 506.4h2.5v2.4h-2.5zM1849.3 506.4h2.5v2.4h-2.5zM2076.3 506.4h2.5v2.4h-2.5zM2093.7 506.4h2.5v2.4h-2.5zM1791.1 509.3h2.5v2.4h-2.5zM1799.8 509.3h2.5v2.4h-2.5zM1808.6 509.3h2.5v2.4h-2.5zM1922.0 509.3h2.5v2.4h-2.5zM2085.0 509.3h2.5v2.4h-2.5zM2128.7 509.3h2.5v2.4h-2.5zM1840.6 512.1h2.5v2.4h-2.5zM1910.4 512.1h2.5v2.4h-2.5zM1925.0 512.1h2.5v2.4h-2.5zM1942.4 512.1h2.5v2.4h-2.5zM2073.4 512.1h2.5v2.4h-2.5zM2087.9 512.1h2.5v2.4h-2.5zM2096.7 512.1h2.5v2.4h-2.5zM1785.3 514.9h2.5v2.4h-2.5zM1831.8 514.9h2.5v2.4h-2.5zM1840.6 514.9h2.5v2.4h-2.5zM1855.1 514.9h2.5v2.4h-2.5zM1860.9 514.9h5.4v2.4h-5.4zM1904.6 514.9h2.5v2.4h-2.5zM1927.9 514.9h2.5v2.4h-2.5zM1942.4 514.9h2.5v2.4h-2.5zM2032.6 514.9h5.4v2.4h-5.4zM2093.7 514.9h2.5v2.4h-2.5zM1782.4 517.8h2.5v2.4h-2.5zM1796.9 517.8h5.4v2.4h-5.4zM1849.3 517.8h2.5v2.4h-2.5zM1855.1 517.8h2.5v2.4h-2.5zM1869.7 517.8h2.5v2.4h-2.5zM1881.3 517.8h2.5v2.4h-2.5zM1890.0 517.8h5.4v2.4h-5.4zM2032.6 517.8h2.5v2.4h-2.5zM2076.3 517.8h2.5v2.4h-2.5zM2082.1 517.8h5.4v2.4h-5.4zM2093.7 517.8h2.5v2.4h-2.5zM2114.1 517.8h5.4v2.4h-5.4zM2122.8 517.8h2.5v2.4h-2.5zM1782.4 520.6h2.5v2.4h-2.5zM1794.0 520.6h2.5v2.4h-2.5zM1817.3 520.6h5.4v2.4h-5.4zM1834.7 520.6h2.5v2.4h-2.5zM1852.2 520.6h2.5v2.4h-2.5zM1910.4 520.6h5.4v2.4h-5.4zM2076.3 520.6h5.4v2.4h-5.4zM2096.7 520.6h2.5v2.4h-2.5zM2102.5 520.6h2.5v2.4h-2.5zM2111.2 520.6h2.5v2.4h-2.5zM2117.0 520.6h2.5v2.4h-2.5zM2125.8 520.6h2.5v2.4h-2.5zM2149.0 520.6h2.5v2.4h-2.5zM1858.0 523.5h5.4v2.4h-5.4zM1881.3 523.5h2.5v2.4h-2.5zM1898.8 523.5h2.5v2.4h-2.5zM1927.9 523.5h2.5v2.4h-2.5zM2085.0 523.5h2.5v2.4h-2.5zM2099.6 523.5h2.5v2.4h-2.5zM2108.3 523.5h2.5v2.4h-2.5zM2117.0 523.5h2.5v2.4h-2.5zM2128.7 523.5h5.4v2.4h-5.4zM2151.9 523.5h2.5v2.4h-2.5zM1831.8 526.3h2.5v2.4h-2.5zM1837.7 526.3h2.5v2.4h-2.5zM1846.4 526.3h2.5v2.4h-2.5zM1855.1 526.3h2.5v2.4h-2.5zM1878.4 526.3h2.5v2.4h-2.5zM1898.8 526.3h2.5v2.4h-2.5zM1927.9 526.3h5.4v2.4h-5.4zM2082.1 526.3h2.5v2.4h-2.5zM2102.5 526.3h2.5v2.4h-2.5zM1794.0 529.1h5.4v2.4h-5.4zM1817.3 529.1h2.5v2.4h-2.5zM1866.8 529.1h2.5v2.4h-2.5zM1881.3 529.1h2.5v2.4h-2.5zM1890.0 529.1h8.3v2.4h-8.3zM1904.6 529.1h2.5v2.4h-2.5zM2140.3 529.1h2.5v2.4h-2.5zM1814.4 532.0h2.5v2.4h-2.5zM1823.1 532.0h2.5v2.4h-2.5zM1843.5 532.0h2.5v2.4h-2.5zM1855.1 532.0h2.5v2.4h-2.5zM1875.5 532.0h5.4v2.4h-5.4zM1892.9 532.0h2.5v2.4h-2.5zM1933.7 532.0h5.4v2.4h-5.4zM2099.6 532.0h2.5v2.4h-2.5zM1788.2 534.8h2.5v2.4h-2.5zM1799.8 534.8h2.5v2.4h-2.5zM1805.6 534.8h2.5v2.4h-2.5zM1890.0 534.8h2.5v2.4h-2.5zM1895.9 534.8h2.5v2.4h-2.5zM1933.7 534.8h2.5v2.4h-2.5zM2172.3 534.8h2.5v2.4h-2.5zM1779.5 537.7h5.4v2.4h-5.4zM1788.2 537.7h2.5v2.4h-2.5zM1831.8 537.7h2.5v2.4h-2.5zM1858.0 537.7h5.4v2.4h-5.4zM1890.0 537.7h2.5v2.4h-2.5zM1930.8 537.7h2.5v2.4h-2.5zM2096.7 537.7h2.5v2.4h-2.5zM2111.2 537.7h2.5v2.4h-2.5zM2172.3 537.7h2.5v2.4h-2.5zM1799.8 540.5h2.5v2.4h-2.5zM1843.5 540.5h2.5v2.4h-2.5zM2067.6 540.5h2.5v2.4h-2.5zM1779.5 543.3h2.5v2.4h-2.5zM1794.0 543.3h2.5v2.4h-2.5zM1843.5 543.3h2.5v2.4h-2.5zM1892.9 543.3h2.5v2.4h-2.5zM1919.1 543.3h2.5v2.4h-2.5zM2087.9 543.3h2.5v2.4h-2.5zM2125.8 543.3h2.5v2.4h-2.5zM1794.0 546.2h2.5v2.4h-2.5zM1831.8 546.2h2.5v2.4h-2.5zM1837.7 546.2h2.5v2.4h-2.5zM1843.5 546.2h2.5v2.4h-2.5zM1849.3 546.2h2.5v2.4h-2.5zM1858.0 546.2h2.5v2.4h-2.5zM2105.4 546.2h2.5v2.4h-2.5zM1834.7 549.0h2.5v2.4h-2.5zM1840.6 549.0h2.5v2.4h-2.5zM1881.3 549.0h5.4v2.4h-5.4zM1898.8 549.0h2.5v2.4h-2.5zM2102.5 549.0h5.4v2.4h-5.4zM2117.0 549.0h2.5v2.4h-2.5zM2140.3 549.0h2.5v2.4h-2.5zM2160.7 549.0h2.5v2.4h-2.5zM1782.4 551.9h2.5v2.4h-2.5zM1794.0 551.9h2.5v2.4h-2.5zM1799.8 551.9h5.4v2.4h-5.4zM1811.5 551.9h2.5v2.4h-2.5zM1831.8 551.9h2.5v2.4h-2.5zM1837.7 551.9h2.5v2.4h-2.5zM1846.4 551.9h2.5v2.4h-2.5zM1866.8 551.9h2.5v2.4h-2.5zM2117.0 551.9h2.5v2.4h-2.5zM2163.6 551.9h2.5v2.4h-2.5zM1831.8 554.7h5.4v2.4h-5.4zM1843.5 554.7h2.5v2.4h-2.5zM1855.1 554.7h2.5v2.4h-2.5zM1869.7 554.7h5.4v2.4h-5.4zM1898.8 554.7h2.5v2.4h-2.5zM1925.0 554.7h5.4v2.4h-5.4zM2111.2 554.7h2.5v2.4h-2.5zM2122.8 554.7h2.5v2.4h-2.5zM2131.6 554.7h5.4v2.4h-5.4zM2140.3 554.7h2.5v2.4h-2.5zM2163.6 554.7h2.5v2.4h-2.5zM1796.9 557.5h2.5v2.4h-2.5zM1846.4 557.5h2.5v2.4h-2.5zM2050.1 557.5h2.5v2.4h-2.5zM2102.5 557.5h2.5v2.4h-2.5zM2128.7 557.5h2.5v2.4h-2.5zM1826.0 560.4h2.5v2.4h-2.5zM1843.5 560.4h2.5v2.4h-2.5zM1898.8 560.4h2.5v2.4h-2.5zM1907.5 560.4h2.5v2.4h-2.5zM2082.1 560.4h2.5v2.4h-2.5zM2117.0 560.4h2.5v2.4h-2.5zM2143.2 560.4h2.5v2.4h-2.5zM1779.5 563.2h2.5v2.4h-2.5zM1820.2 563.2h2.5v2.4h-2.5zM1843.5 563.2h2.5v2.4h-2.5zM1884.2 563.2h2.5v2.4h-2.5zM1907.5 563.2h2.5v2.4h-2.5zM2064.6 563.2h2.5v2.4h-2.5zM2070.5 563.2h2.5v2.4h-2.5zM2099.6 563.2h2.5v2.4h-2.5zM2122.8 563.2h2.5v2.4h-2.5zM2143.2 563.2h5.4v2.4h-5.4zM2160.7 563.2h2.5v2.4h-2.5zM1788.2 566.1h2.5v2.4h-2.5zM1796.9 566.1h2.5v2.4h-2.5zM1840.6 566.1h2.5v2.4h-2.5zM1858.0 566.1h2.5v2.4h-2.5zM2070.5 566.1h2.5v2.4h-2.5zM2151.9 566.1h2.5v2.4h-2.5zM2160.7 566.1h2.5v2.4h-2.5zM1782.4 568.9h2.5v2.4h-2.5zM1788.2 568.9h2.5v2.4h-2.5zM1843.5 568.9h2.5v2.4h-2.5zM1855.1 568.9h2.5v2.4h-2.5zM1866.8 568.9h2.5v2.4h-2.5zM2134.5 568.9h2.5v2.4h-2.5zM2151.9 568.9h2.5v2.4h-2.5zM2163.6 568.9h2.5v2.4h-2.5zM1826.0 571.7h2.5v2.4h-2.5zM1869.7 571.7h2.5v2.4h-2.5zM2070.5 571.7h2.5v2.4h-2.5zM2099.6 571.7h2.5v2.4h-2.5zM2117.0 571.7h2.5v2.4h-2.5zM1826.0 574.6h2.5v2.4h-2.5zM1837.7 574.6h2.5v2.4h-2.5zM1846.4 574.6h2.5v2.4h-2.5zM1872.6 574.6h2.5v2.4h-2.5zM2087.9 574.6h2.5v2.4h-2.5zM2099.6 574.6h2.5v2.4h-2.5zM1802.7 577.4h2.5v2.4h-2.5zM1834.7 577.4h2.5v2.4h-2.5zM1913.3 577.4h5.4v2.4h-5.4zM2087.9 577.4h2.5v2.4h-2.5zM2105.4 577.4h2.5v2.4h-2.5zM1826.0 580.3h2.5v2.4h-2.5zM1866.8 580.3h5.4v2.4h-5.4zM1916.2 580.3h2.5v2.4h-2.5zM2108.3 580.3h2.5v2.4h-2.5zM2125.8 580.3h5.4v2.4h-5.4zM1794.0 583.1h5.4v2.4h-5.4zM1817.3 583.1h2.5v2.4h-2.5zM1831.8 583.1h2.5v2.4h-2.5zM1852.2 583.1h2.5v2.4h-2.5zM2055.9 583.1h2.5v2.4h-2.5zM2137.4 583.1h2.5v2.4h-2.5zM1817.3 585.9h2.5v2.4h-2.5zM1826.0 585.9h2.5v2.4h-2.5zM1852.2 585.9h2.5v2.4h-2.5zM2058.8 585.9h2.5v2.4h-2.5zM2119.9 585.9h5.4v2.4h-5.4zM2134.5 585.9h2.5v2.4h-2.5zM1808.6 588.8h2.5v2.4h-2.5zM1817.3 588.8h2.5v2.4h-2.5zM1843.5 588.8h2.5v2.4h-2.5zM2099.6 588.8h2.5v2.4h-2.5zM2128.7 588.8h5.4v2.4h-5.4zM1823.1 591.6h2.5v2.4h-2.5zM1831.8 591.6h2.5v2.4h-2.5zM1837.7 591.6h2.5v2.4h-2.5zM1788.2 594.5h2.5v2.4h-2.5zM1840.6 594.5h5.4v2.4h-5.4zM2093.7 594.5h2.5v2.4h-2.5zM2143.2 594.5h2.5v2.4h-2.5zM1831.8 597.3h5.4v2.4h-5.4zM1840.6 597.3h2.5v2.4h-2.5zM2140.3 597.3h2.5v2.4h-2.5zM1794.0 600.1h5.4v2.4h-5.4zM1834.7 600.1h5.4v2.4h-5.4zM1843.5 600.1h5.4v2.4h-5.4zM1791.1 603.0h2.5v2.4h-2.5zM1802.7 603.0h2.5v2.4h-2.5zM1837.7 603.0h2.5v2.4h-2.5zM1843.5 603.0h2.5v2.4h-2.5zM1860.9 603.0h2.5v2.4h-2.5zM1840.6 605.8h5.4v2.4h-5.4zM1796.9 608.7h2.5v2.4h-2.5zM1802.7 608.7h2.5v2.4h-2.5zM1814.4 608.7h2.5v2.4h-2.5zM1823.1 608.7h5.4v2.4h-5.4zM1808.6 611.5h8.3v2.4h-8.3zM1820.2 611.5h2.5v2.4h-2.5zM1831.8 614.3h2.5v2.4h-2.5zM1802.7 617.2h2.5v2.4h-2.5zM1808.6 617.2h2.5v2.4h-2.5zM1840.6 617.2h2.5v2.4h-2.5zM1834.7 620.0h2.5v2.4h-2.5zM1794.0 622.9h2.5v2.4h-2.5zM1808.6 622.9h2.5v2.4h-2.5zM1828.9 622.9h2.5v2.4h-2.5zM1855.1 625.7h2.5v2.4h-2.5zM1811.5 628.5h2.5v2.4h-2.5zM1831.8 628.5h2.5v2.4h-2.5zM1782.4 631.4h5.4v2.4h-5.4zM1817.3 631.4h2.5v2.4h-2.5zM1831.8 631.4h2.5v2.4h-2.5zM1823.1 634.2h5.4v2.4h-5.4zM1831.8 637.1h5.4v2.4h-5.4zM1878.4 637.1h2.5v2.4h-2.5zM1823.1 639.9h2.5v2.4h-2.5zM1878.4 639.9h2.5v2.4h-2.5zM1895.9 639.9h2.5v2.4h-2.5zM1922.0 639.9h5.4v2.4h-5.4zM1855.1 642.7h5.4v2.4h-5.4zM1892.9 642.7h8.3v2.4h-8.3zM1922.0 642.7h5.4v2.4h-5.4zM1884.2 645.6h2.5v2.4h-2.5zM1843.5 651.3h2.5v2.4h-2.5zM1860.9 651.3h2.5v2.4h-2.5zM1869.7 651.3h2.5v2.4h-2.5zM1875.5 651.3h2.5v2.4h-2.5zM1904.6 654.1h2.5v2.4h-2.5zM1907.5 656.9h2.5v2.4h-2.5zM1892.9 659.8h2.5v2.4h-2.5zM1901.7 659.8h2.5v2.4h-2.5zM1764.9 662.6h2.5v2.4h-2.5zM1881.3 662.6h5.4v2.4h-5.4zM1898.8 662.6h5.4v2.4h-5.4zM1869.7 665.5h2.5v2.4h-2.5zM1878.4 665.5h2.5v2.4h-2.5zM1764.9 668.3h2.5v2.4h-2.5zM1872.6 671.1h2.5v2.4h-2.5zM1881.3 671.1h2.5v2.4h-2.5zM1884.2 676.8h2.5v2.4h-2.5zM1878.4 682.5h2.5v2.4h-2.5zM1785.3 688.2h2.5v2.4h-2.5zM1796.9 688.2h2.5v2.4h-2.5zM1817.3 688.2h2.5v2.4h-2.5zM1869.7 688.2h2.5v2.4h-2.5zM1773.6 691.0h5.4v2.4h-5.4zM1831.8 691.0h2.5v2.4h-2.5z"/>
<path fill="rgb(0,182,203)" d="M1796.7 455.1h2.9v2.8h-2.9zM1805.4 455.1h2.9v2.8h-2.9zM1811.3 455.1h2.9v2.8h-2.9zM1834.5 455.1h2.9v2.8h-2.9zM2102.3 455.1h2.9v2.8h-2.9zM1793.8 457.9h5.8v2.8h-5.8zM1805.4 457.9h2.9v2.8h-2.9zM1825.8 457.9h2.9v2.8h-2.9zM1831.6 457.9h2.9v2.8h-2.9zM1796.7 460.8h2.9v2.8h-2.9zM1802.5 460.8h5.8v2.8h-5.8zM1799.6 463.6h2.9v2.8h-2.9zM1822.9 463.6h2.9v2.8h-2.9zM1857.8 463.6h2.9v2.8h-2.9zM1805.4 466.5h2.9v2.8h-2.9zM1825.8 466.5h2.9v2.8h-2.9zM1788.0 469.3h2.9v2.8h-2.9zM1796.7 469.3h2.9v2.8h-2.9zM1831.6 469.3h2.9v2.8h-2.9zM1852.0 469.3h2.9v2.8h-2.9zM1828.7 472.1h2.9v2.8h-2.9zM1849.1 472.1h5.8v2.8h-5.8zM1799.6 475.0h5.8v2.8h-5.8zM1852.0 475.0h2.9v2.8h-2.9zM1788.0 477.8h2.9v2.8h-2.9zM1799.6 477.8h2.9v2.8h-2.9zM1814.2 477.8h5.8v2.8h-5.8zM1828.7 477.8h2.9v2.8h-2.9zM1846.2 477.8h2.9v2.8h-2.9zM1854.9 477.8h2.9v2.8h-2.9zM1793.8 480.7h5.8v2.8h-5.8zM1802.5 480.7h2.9v2.8h-2.9zM1831.6 480.7h2.9v2.8h-2.9zM1852.0 480.7h2.9v2.8h-2.9zM1796.7 483.5h2.9v2.8h-2.9zM1808.4 483.5h2.9v2.8h-2.9zM1817.1 483.5h2.9v2.8h-2.9zM1825.8 483.5h5.8v2.8h-5.8zM1834.5 486.3h2.9v2.8h-2.9zM1840.4 486.3h2.9v2.8h-2.9zM1863.6 489.2h2.9v2.8h-2.9zM1805.4 492.0h2.9v2.8h-2.9zM1814.2 492.0h2.9v2.8h-2.9zM1805.4 494.9h2.9v2.8h-2.9zM1811.3 494.9h2.9v2.8h-2.9zM1779.2 497.7h2.9v2.8h-2.9zM1788.0 497.7h2.9v2.8h-2.9zM1808.4 497.7h2.9v2.8h-2.9zM1814.2 497.7h2.9v2.8h-2.9zM1782.2 500.5h2.9v2.8h-2.9zM1796.7 500.5h8.7v2.8h-8.7zM1825.8 500.5h2.9v2.8h-2.9zM1796.7 503.4h2.9v2.8h-2.9zM1825.8 503.4h2.9v2.8h-2.9zM1843.3 503.4h2.9v2.8h-2.9zM1799.6 506.2h2.9v2.8h-2.9zM1820.0 506.2h2.9v2.8h-2.9zM1828.7 506.2h2.9v2.8h-2.9zM1840.4 506.2h2.9v2.8h-2.9zM1846.2 506.2h2.9v2.8h-2.9zM1822.9 509.1h2.9v2.8h-2.9zM1820.0 511.9h2.9v2.8h-2.9zM1828.7 511.9h2.9v2.8h-2.9zM1843.3 511.9h2.9v2.8h-2.9zM2076.1 511.9h2.9v2.8h-2.9zM1820.0 514.7h2.9v2.8h-2.9zM1802.5 517.6h2.9v2.8h-2.9zM1811.3 517.6h2.9v2.8h-2.9zM1817.1 517.6h2.9v2.8h-2.9zM1825.8 517.6h5.8v2.8h-5.8zM1802.5 520.4h2.9v2.8h-2.9zM1837.5 520.4h5.8v2.8h-5.8zM2122.6 523.3h2.9v2.8h-2.9zM1782.2 526.1h5.8v2.8h-5.8zM1808.4 526.1h2.9v2.8h-2.9zM1840.4 526.1h2.9v2.8h-2.9zM1860.7 526.1h2.9v2.8h-2.9zM1785.1 528.9h2.9v2.8h-2.9zM1822.9 528.9h2.9v2.8h-2.9zM1817.1 534.6h2.9v2.8h-2.9zM1805.4 537.5h2.9v2.8h-2.9zM1811.3 537.5h2.9v2.8h-2.9zM1846.2 537.5h2.9v2.8h-2.9zM1788.0 540.3h2.9v2.8h-2.9zM1802.5 540.3h5.8v2.8h-5.8zM1820.0 540.3h2.9v2.8h-2.9zM1805.4 543.1h2.9v2.8h-2.9zM1814.2 543.1h2.9v2.8h-2.9zM1822.9 543.1h5.8v2.8h-5.8zM1796.7 546.0h2.9v2.8h-2.9zM1805.4 546.0h5.8v2.8h-5.8zM1852.0 546.0h2.9v2.8h-2.9zM1779.2 548.8h2.9v2.8h-2.9zM1808.4 548.8h2.9v2.8h-2.9zM1825.8 548.8h5.8v2.8h-5.8zM1857.8 551.7h2.9v2.8h-2.9zM1820.0 554.5h2.9v2.8h-2.9zM1849.1 554.5h2.9v2.8h-2.9zM1860.7 554.5h2.9v2.8h-2.9zM1849.1 557.3h2.9v2.8h-2.9zM1785.1 560.2h2.9v2.8h-2.9zM1820.0 560.2h2.9v2.8h-2.9zM1849.1 560.2h2.9v2.8h-2.9zM1843.3 565.9h2.9v2.8h-2.9zM1796.7 568.7h2.9v2.8h-2.9zM1840.4 568.7h2.9v2.8h-2.9zM1802.5 580.1h2.9v2.8h-2.9zM1817.1 580.1h2.9v2.8h-2.9zM1793.8 628.3h2.9v2.8h-2.9zM1788.0 631.2h5.8v2.8h-5.8zM1808.4 631.2h2.9v2.8h-2.9zM1788.0 636.9h2.9v2.8h-2.9zM1828.7 636.9h2.9v2.8h-2.9zM1828.7 639.7h2.9v2.8h-2.9zM1846.2 642.5h2.9v2.8h-2.9zM1846.2 645.4h2.9v2.8h-2.9zM1846.2 648.2h2.9v2.8h-2.9zM1779.2 651.1h2.9v2.8h-2.9zM1849.1 659.6h2.9v2.8h-2.9zM1866.6 659.6h2.9v2.8h-2.9zM1849.1 662.4h2.9v2.8h-2.9zM1872.4 662.4h5.8v2.8h-5.8zM1875.3 670.9h2.9v2.8h-2.9zM1764.7 673.8h5.8v2.8h-5.8zM1764.7 676.6h2.9v2.8h-2.9zM1776.3 676.6h2.9v2.8h-2.9zM1849.1 679.4h2.9v2.8h-2.9zM1776.3 682.3h2.9v2.8h-2.9zM1834.5 682.3h2.9v2.8h-2.9zM1854.9 682.3h2.9v2.8h-2.9zM1764.7 685.1h2.9v2.8h-2.9zM1788.0 688.0h5.8v2.8h-5.8zM1808.4 688.0h2.9v2.8h-2.9zM1849.1 688.0h2.9v2.8h-2.9zM1802.5 690.8h2.9v2.8h-2.9z"/>
<path fill="rgb(0,240,160)" d="M1802.5 438.1h2.9v2.8h-2.9zM2119.7 438.1h2.9v2.8h-2.9zM1788.0 440.9h2.9v2.8h-2.9zM1837.5 443.7h2.9v2.8h-2.9zM1825.8 446.6h2.9v2.8h-2.9zM1831.6 446.6h2.9v2.8h-2.9zM1854.9 446.6h2.9v2.8h-2.9zM1895.7 446.6h2.9v2.8h-2.9zM2137.2 446.6h2.9v2.8h-2.9zM1910.2 449.4h2.9v2.8h-2.9zM2073.2 449.4h2.9v2.8h-2.9zM1822.9 452.3h2.9v2.8h-2.9zM1965.5 452.3h2.9v2.8h-2.9zM2055.7 452.3h2.9v2.8h-2.9zM1849.1 455.1h2.9v2.8h-2.9zM1869.5 455.1h2.9v2.8h-2.9zM1886.9 455.1h2.9v2.8h-2.9zM1901.5 455.1h2.9v2.8h-2.9zM1918.9 455.1h2.9v2.8h-2.9zM2081.9 455.1h2.9v2.8h-2.9zM2087.7 455.1h2.9v2.8h-2.9zM1866.6 457.9h2.9v2.8h-2.9zM2105.2 457.9h2.9v2.8h-2.9zM2111.0 457.9h2.9v2.8h-2.9zM1849.1 460.8h2.9v2.8h-2.9zM2035.3 460.8h2.9v2.8h-2.9zM1895.7 463.6h2.9v2.8h-2.9zM2064.4 463.6h2.9v2.8h-2.9zM2140.1 463.6h2.9v2.8h-2.9zM2169.2 463.6h2.9v2.8h-2.9zM1834.5 466.5h2.9v2.8h-2.9zM1939.3 466.5h2.9v2.8h-2.9zM2113.9 466.5h2.9v2.8h-2.9zM1779.2 469.3h2.9v2.8h-2.9zM2102.3 469.3h2.9v2.8h-2.9zM2145.9 469.3h2.9v2.8h-2.9zM1814.2 472.1h2.9v2.8h-2.9zM1866.6 472.1h2.9v2.8h-2.9zM1953.9 472.1h2.9v2.8h-2.9zM2058.6 472.1h2.9v2.8h-2.9zM1907.3 475.0h2.9v2.8h-2.9zM2052.8 475.0h2.9v2.8h-2.9zM2111.0 475.0h2.9v2.8h-2.9zM2134.3 477.8h2.9v2.8h-2.9zM2154.7 480.7h2.9v2.8h-2.9zM1886.9 486.3h2.9v2.8h-2.9zM1892.7 486.3h2.9v2.8h-2.9zM2177.9 486.3h2.9v2.8h-2.9zM2049.9 489.2h2.9v2.8h-2.9zM2113.9 489.2h2.9v2.8h-2.9zM2157.6 489.2h2.9v2.8h-2.9zM1837.5 492.0h2.9v2.8h-2.9zM1962.6 492.0h2.9v2.8h-2.9zM1921.8 494.9h2.9v2.8h-2.9zM1936.4 494.9h2.9v2.8h-2.9zM1959.7 494.9h2.9v2.8h-2.9zM2102.3 494.9h2.9v2.8h-2.9zM2172.1 494.9h2.9v2.8h-2.9zM2128.5 497.7h2.9v2.8h-2.9zM1814.2 500.5h2.9v2.8h-2.9zM1913.1 500.5h2.9v2.8h-2.9zM2084.8 500.5h2.9v2.8h-2.9zM2154.7 500.5h2.9v2.8h-2.9zM2102.3 503.4h2.9v2.8h-2.9zM1814.2 506.2h2.9v2.8h-2.9zM1889.8 506.2h2.9v2.8h-2.9zM1907.3 506.2h2.9v2.8h-2.9zM1918.9 506.2h2.9v2.8h-2.9zM1785.1 509.1h2.9v2.8h-2.9zM1869.5 509.1h2.9v2.8h-2.9zM1875.3 509.1h2.9v2.8h-2.9zM1913.1 509.1h2.9v2.8h-2.9zM2047.0 509.1h2.9v2.8h-2.9zM2090.6 509.1h2.9v2.8h-2.9zM2137.2 509.1h2.9v2.8h-2.9zM1788.0 511.9h2.9v2.8h-2.9zM1854.9 511.9h2.9v2.8h-2.9zM2116.8 511.9h2.9v2.8h-2.9zM1872.4 514.7h2.9v2.8h-2.9zM2131.4 514.7h2.9v2.8h-2.9zM2160.5 514.7h2.9v2.8h-2.9zM1884.0 517.6h2.9v2.8h-2.9zM2017.9 517.6h2.9v2.8h-2.9zM2145.9 517.6h2.9v2.8h-2.9zM1866.6 520.4h2.9v2.8h-2.9zM1898.6 520.4h2.9v2.8h-2.9zM1884.0 523.3h2.9v2.8h-2.9zM2096.5 523.3h2.9v2.8h-2.9zM1805.4 526.1h2.9v2.8h-2.9zM1817.1 526.1h2.9v2.8h-2.9zM1828.7 528.9h2.9v2.8h-2.9zM1852.0 528.9h2.9v2.8h-2.9zM1910.2 528.9h2.9v2.8h-2.9zM2128.5 528.9h2.9v2.8h-2.9zM2140.1 531.8h2.9v2.8h-2.9zM2125.6 534.6h2.9v2.8h-2.9zM1793.8 537.5h2.9v2.8h-2.9zM1817.1 537.5h2.9v2.8h-2.9zM1983.0 537.5h2.9v2.8h-2.9zM2070.3 537.5h2.9v2.8h-2.9zM2128.5 537.5h2.9v2.8h-2.9zM1814.2 540.3h2.9v2.8h-2.9zM1834.5 540.3h2.9v2.8h-2.9zM1857.8 540.3h2.9v2.8h-2.9zM1872.4 540.3h2.9v2.8h-2.9zM1933.5 540.3h2.9v2.8h-2.9zM2148.8 540.3h2.9v2.8h-2.9zM1788.0 543.1h2.9v2.8h-2.9zM1878.2 543.1h2.9v2.8h-2.9zM1886.9 543.1h2.9v2.8h-2.9zM2067.4 543.1h2.9v2.8h-2.9zM2090.6 543.1h2.9v2.8h-2.9zM2111.0 543.1h2.9v2.8h-2.9zM1782.2 546.0h2.9v2.8h-2.9zM2087.7 546.0h2.9v2.8h-2.9zM2096.5 546.0h2.9v2.8h-2.9zM2119.7 546.0h2.9v2.8h-2.9zM1875.3 548.8h2.9v2.8h-2.9zM1886.9 548.8h2.9v2.8h-2.9zM1936.4 548.8h2.9v2.8h-2.9zM2111.0 548.8h2.9v2.8h-2.9zM2047.0 551.7h2.9v2.8h-2.9zM2055.7 551.7h2.9v2.8h-2.9zM2131.4 551.7h2.9v2.8h-2.9zM1875.3 554.5h2.9v2.8h-2.9zM2119.7 554.5h2.9v2.8h-2.9zM1840.4 557.3h2.9v2.8h-2.9zM1895.7 557.3h2.9v2.8h-2.9zM1994.6 557.3h2.9v2.8h-2.9zM2026.6 557.3h2.9v2.8h-2.9zM1799.6 560.2h2.9v2.8h-2.9zM1828.7 560.2h2.9v2.8h-2.9zM2073.2 560.2h2.9v2.8h-2.9zM2122.6 560.2h2.9v2.8h-2.9zM1805.4 565.9h2.9v2.8h-2.9zM2102.3 565.9h2.9v2.8h-2.9zM2134.3 565.9h2.9v2.8h-2.9zM1802.5 568.7h2.9v2.8h-2.9zM1857.8 568.7h2.9v2.8h-2.9zM2047.0 568.7h2.9v2.8h-2.9zM2099.4 568.7h2.9v2.8h-2.9zM2122.6 568.7h2.9v2.8h-2.9zM1785.1 571.5h2.9v2.8h-2.9zM1834.5 571.5h2.9v2.8h-2.9zM2125.6 571.5h2.9v2.8h-2.9zM2154.7 571.5h2.9v2.8h-2.9zM1831.6 574.4h2.9v2.8h-2.9zM1849.1 574.4h2.9v2.8h-2.9zM1869.5 574.4h2.9v2.8h-2.9zM2076.1 574.4h2.9v2.8h-2.9zM1822.9 577.2h2.9v2.8h-2.9zM2119.7 577.2h2.9v2.8h-2.9zM2160.5 577.2h2.9v2.8h-2.9zM2151.8 580.1h2.9v2.8h-2.9zM1822.9 582.9h2.9v2.8h-2.9zM1828.7 582.9h2.9v2.8h-2.9zM1939.3 582.9h2.9v2.8h-2.9zM1948.0 585.7h2.9v2.8h-2.9zM2032.4 585.7h2.9v2.8h-2.9zM2079.0 585.7h2.9v2.8h-2.9zM1939.3 588.6h2.9v2.8h-2.9zM2096.5 588.6h2.9v2.8h-2.9zM2134.3 591.4h2.9v2.8h-2.9zM1785.1 594.3h2.9v2.8h-2.9zM1825.8 594.3h2.9v2.8h-2.9zM2090.6 594.3h2.9v2.8h-2.9zM2049.9 597.1h2.9v2.8h-2.9zM1788.0 599.9h2.9v2.8h-2.9zM1849.1 599.9h2.9v2.8h-2.9zM1799.6 602.8h2.9v2.8h-2.9zM1820.0 602.8h5.8v2.8h-5.8zM2087.7 602.8h2.9v2.8h-2.9zM1793.8 605.6h2.9v2.8h-2.9zM1837.5 611.3h2.9v2.8h-2.9zM1776.3 614.1h2.9v2.8h-2.9zM1793.8 614.1h2.9v2.8h-2.9zM1828.7 614.1h2.9v2.8h-2.9zM1785.1 617.0h2.9v2.8h-2.9zM1811.3 617.0h2.9v2.8h-2.9zM1817.1 617.0h2.9v2.8h-2.9zM1782.2 619.8h2.9v2.8h-2.9zM1828.7 625.5h2.9v2.8h-2.9zM1834.5 625.5h2.9v2.8h-2.9zM1892.7 628.3h2.9v2.8h-2.9zM1799.6 631.2h5.8v2.8h-5.8zM1837.5 631.2h2.9v2.8h-2.9zM1796.7 634.0h2.9v2.8h-2.9zM1811.3 634.0h2.9v2.8h-2.9zM1837.5 636.9h2.9v2.8h-2.9zM1854.9 639.7h2.9v2.8h-2.9zM1886.9 642.5h2.9v2.8h-2.9zM1799.6 645.4h2.9v2.8h-2.9zM1828.7 645.4h2.9v2.8h-2.9zM1843.3 645.4h2.9v2.8h-2.9zM1924.8 645.4h2.9v2.8h-2.9zM1866.6 648.2h2.9v2.8h-2.9zM1785.1 651.1h2.9v2.8h-2.9zM1854.9 651.1h2.9v2.8h-2.9zM1889.8 651.1h2.9v2.8h-2.9zM1866.6 653.9h2.9v2.8h-2.9zM1776.3 656.7h2.9v2.8h-2.9zM1852.0 659.6h2.9v2.8h-2.9zM1863.6 665.2h2.9v2.8h-2.9zM1872.4 673.8h2.9v2.8h-2.9zM1881.1 676.6h2.9v2.8h-2.9zM1764.7 679.4h11.6v2.8h-11.6zM1831.6 679.4h2.9v2.8h-2.9zM1854.9 679.4h5.8v2.8h-5.8zM1869.5 679.4h2.9v2.8h-2.9zM1825.8 682.3h2.9v2.8h-2.9zM1852.0 682.3h2.9v2.8h-2.9zM1857.8 682.3h2.9v2.8h-2.9zM1881.1 682.3h2.9v2.8h-2.9zM1767.6 685.1h2.9v2.8h-2.9zM1776.3 685.1h2.9v2.8h-2.9zM1785.1 685.1h2.9v2.8h-2.9zM1814.2 685.1h2.9v2.8h-2.9zM1820.0 685.1h2.9v2.8h-2.9zM1831.6 685.1h2.9v2.8h-2.9zM1872.4 685.1h2.9v2.8h-2.9zM1886.9 685.1h2.9v2.8h-2.9zM1805.4 688.0h2.9v2.8h-2.9zM1854.9 688.0h2.9v2.8h-2.9zM1779.2 690.8h2.9v2.8h-2.9z"/>
<path fill="rgb(0,255,122)" d="M2099.4 452.3h2.9v2.8h-2.9zM1793.8 455.1h2.9v2.8h-2.9zM1808.4 455.1h2.9v2.8h-2.9zM1814.2 455.1h2.9v2.8h-2.9zM1837.5 455.1h2.9v2.8h-2.9zM1822.9 457.9h2.9v2.8h-2.9zM1828.7 457.9h2.9v2.8h-2.9zM1834.5 457.9h2.9v2.8h-2.9zM2099.4 457.9h2.9v2.8h-2.9zM1799.6 460.8h2.9v2.8h-2.9zM1834.5 460.8h2.9v2.8h-2.9zM1840.4 460.8h2.9v2.8h-2.9zM1857.8 460.8h2.9v2.8h-2.9zM1805.4 463.6h2.9v2.8h-2.9zM1828.7 463.6h2.9v2.8h-2.9zM1854.9 463.6h2.9v2.8h-2.9zM1790.9 466.5h5.8v2.8h-5.8zM1846.2 466.5h2.9v2.8h-2.9zM1790.9 469.3h2.9v2.8h-2.9zM1828.7 469.3h2.9v2.8h-2.9zM1846.2 469.3h2.9v2.8h-2.9zM1831.6 472.1h2.9v2.8h-2.9zM1831.6 475.0h2.9v2.8h-2.9zM1837.5 475.0h2.9v2.8h-2.9zM1843.3 475.0h2.9v2.8h-2.9zM1849.1 475.0h2.9v2.8h-2.9zM1857.8 475.0h5.8v2.8h-5.8zM1793.8 477.8h2.9v2.8h-2.9zM1820.0 477.8h2.9v2.8h-2.9zM1785.1 480.7h8.7v2.8h-8.7zM1805.4 480.7h2.9v2.8h-2.9zM1814.2 480.7h5.8v2.8h-5.8zM1828.7 480.7h2.9v2.8h-2.9zM1866.6 480.7h2.9v2.8h-2.9zM1831.6 483.5h2.9v2.8h-2.9zM1837.5 483.5h5.8v2.8h-5.8zM1852.0 483.5h2.9v2.8h-2.9zM1860.7 483.5h2.9v2.8h-2.9zM1799.6 486.3h5.8v2.8h-5.8zM1814.2 486.3h2.9v2.8h-2.9zM1825.8 486.3h2.9v2.8h-2.9zM1831.6 486.3h2.9v2.8h-2.9zM1837.5 486.3h2.9v2.8h-2.9zM1866.6 486.3h2.9v2.8h-2.9zM1799.6 489.2h2.9v2.8h-2.9zM1805.4 489.2h5.8v2.8h-5.8zM1869.5 489.2h2.9v2.8h-2.9zM1843.3 492.0h5.8v2.8h-5.8zM1863.6 492.0h5.8v2.8h-5.8zM1892.7 492.0h2.9v2.8h-2.9zM1785.1 497.7h2.9v2.8h-2.9zM1852.0 497.7h2.9v2.8h-2.9zM1822.9 500.5h2.9v2.8h-2.9zM1849.1 500.5h2.9v2.8h-2.9zM1817.1 503.4h2.9v2.8h-2.9zM1796.7 506.2h2.9v2.8h-2.9zM1817.1 506.2h2.9v2.8h-2.9zM1796.7 509.1h2.9v2.8h-2.9zM1814.2 509.1h2.9v2.8h-2.9zM1825.8 509.1h2.9v2.8h-2.9zM1843.3 509.1h2.9v2.8h-2.9zM2073.2 509.1h5.8v2.8h-5.8zM1817.1 511.9h2.9v2.8h-2.9zM2079.0 511.9h2.9v2.8h-2.9zM1805.4 514.7h2.9v2.8h-2.9zM1817.1 514.7h2.9v2.8h-2.9zM1825.8 514.7h2.9v2.8h-2.9zM2084.8 514.7h5.8v2.8h-5.8zM1805.4 517.6h2.9v2.8h-2.9zM1834.5 517.6h5.8v2.8h-5.8zM1852.0 517.6h2.9v2.8h-2.9zM1825.8 520.4h2.9v2.8h-2.9zM1779.2 523.3h2.9v2.8h-2.9zM1825.8 523.3h2.9v2.8h-2.9zM1840.4 523.3h5.8v2.8h-5.8zM2119.7 523.3h2.9v2.8h-2.9zM2125.6 523.3h2.9v2.8h-2.9zM1779.2 526.1h2.9v2.8h-2.9zM1822.9 526.1h5.8v2.8h-5.8zM1863.6 526.1h2.9v2.8h-2.9zM1782.2 528.9h2.9v2.8h-2.9zM1857.8 528.9h2.9v2.8h-2.9zM1878.2 528.9h2.9v2.8h-2.9zM1793.8 531.8h5.8v2.8h-5.8zM1822.9 534.6h2.9v2.8h-2.9zM1840.4 540.3h2.9v2.8h-2.9zM1811.3 543.1h2.9v2.8h-2.9zM1779.2 546.0h2.9v2.8h-2.9zM1788.0 546.0h5.8v2.8h-5.8zM1817.1 546.0h2.9v2.8h-2.9zM1822.9 546.0h2.9v2.8h-2.9zM1828.7 546.0h2.9v2.8h-2.9zM1782.2 548.8h2.9v2.8h-2.9zM1811.3 548.8h2.9v2.8h-2.9zM1822.9 548.8h2.9v2.8h-2.9zM1849.1 548.8h5.8v2.8h-5.8zM2113.9 548.8h2.9v2.8h-2.9zM1814.2 554.5h5.8v2.8h-5.8zM1825.8 554.5h2.9v2.8h-2.9zM1852.0 554.5h2.9v2.8h-2.9zM1788.0 557.3h2.9v2.8h-2.9zM1820.0 557.3h2.9v2.8h-2.9zM1793.8 560.2h2.9v2.8h-2.9zM1817.1 560.2h2.9v2.8h-2.9zM1852.0 560.2h2.9v2.8h-2.9zM1857.8 560.2h2.9v2.8h-2.9zM1785.1 563.0h2.9v2.8h-2.9zM1793.8 563.0h2.9v2.8h-2.9zM1846.2 563.0h2.9v2.8h-2.9zM1854.9 565.9h2.9v2.8h-2.9zM1790.9 568.7h2.9v2.8h-2.9zM1790.9 571.5h5.8v2.8h-5.8zM1822.9 571.5h2.9v2.8h-2.9zM1814.2 574.4h5.8v2.8h-5.8zM1814.2 580.1h2.9v2.8h-2.9zM1820.0 580.1h2.9v2.8h-2.9zM1852.0 580.1h2.9v2.8h-2.9zM1854.9 599.9h2.9v2.8h-2.9zM1799.6 619.8h2.9v2.8h-2.9zM1796.7 625.5h2.9v2.8h-2.9zM1808.4 625.5h2.9v2.8h-2.9zM1790.9 628.3h2.9v2.8h-2.9zM1799.6 628.3h5.8v2.8h-5.8zM1793.8 631.2h2.9v2.8h-2.9zM1805.4 636.9h2.9v2.8h-2.9zM1822.9 636.9h2.9v2.8h-2.9zM1793.8 642.5h2.9v2.8h-2.9zM1834.5 642.5h2.9v2.8h-2.9zM1843.3 642.5h2.9v2.8h-2.9zM1811.3 645.4h2.9v2.8h-2.9zM1822.9 645.4h2.9v2.8h-2.9zM1790.9 651.1h2.9v2.8h-2.9zM1808.4 651.1h2.9v2.8h-2.9zM1837.5 651.1h2.9v2.8h-2.9zM1770.5 653.9h8.7v2.8h-8.7zM1782.2 653.9h2.9v2.8h-2.9zM1849.1 653.9h2.9v2.8h-2.9zM1854.9 653.9h2.9v2.8h-2.9zM1872.4 653.9h2.9v2.8h-2.9zM1767.6 656.7h2.9v2.8h-2.9zM1779.2 656.7h2.9v2.8h-2.9zM1860.7 656.7h2.9v2.8h-2.9zM1767.6 659.6h2.9v2.8h-2.9zM1872.4 659.6h5.8v2.8h-5.8zM1773.4 662.4h2.9v2.8h-2.9zM1866.6 665.2h2.9v2.8h-2.9zM1875.3 665.2h2.9v2.8h-2.9zM1773.4 673.8h2.9v2.8h-2.9zM1869.5 673.8h2.9v2.8h-2.9zM1857.8 676.6h8.7v2.8h-8.7zM1843.3 679.4h2.9v2.8h-2.9zM1852.0 679.4h2.9v2.8h-2.9zM1761.8 682.3h2.9v2.8h-2.9zM1863.6 682.3h2.9v2.8h-2.9zM1788.0 685.1h2.9v2.8h-2.9zM1866.6 685.1h2.9v2.8h-2.9zM1828.7 688.0h2.9v2.8h-2.9zM1840.4 688.0h2.9v2.8h-2.9zM1799.6 690.8h2.9v2.8h-2.9z"/>
<path fill="rgb(0,255,87)" d="M1808.4 449.4h2.9v2.8h-2.9zM1846.2 449.4h2.9v2.8h-2.9zM2038.3 472.1h2.9v2.8h-2.9zM2061.5 475.0h2.9v2.8h-2.9zM1782.2 480.7h2.9v2.8h-2.9zM1948.0 486.3h2.9v2.8h-2.9zM2140.1 492.0h2.9v2.8h-2.9zM2096.5 494.9h2.9v2.8h-2.9zM2143.0 497.7h2.9v2.8h-2.9zM2081.9 500.5h2.9v2.8h-2.9zM1814.2 503.4h2.9v2.8h-2.9zM1779.2 506.2h2.9v2.8h-2.9zM1872.4 528.9h2.9v2.8h-2.9zM1930.6 531.8h2.9v2.8h-2.9zM1843.3 534.6h2.9v2.8h-2.9zM1849.1 534.6h2.9v2.8h-2.9zM2099.4 534.6h2.9v2.8h-2.9zM1811.3 540.3h2.9v2.8h-2.9zM1852.0 540.3h2.9v2.8h-2.9zM2023.7 540.3h2.9v2.8h-2.9zM2105.2 540.3h2.9v2.8h-2.9zM1802.5 546.0h2.9v2.8h-2.9zM1892.7 548.8h2.9v2.8h-2.9zM1860.7 551.7h2.9v2.8h-2.9zM2143.0 551.7h2.9v2.8h-2.9zM2076.1 557.3h2.9v2.8h-2.9zM1860.7 560.2h2.9v2.8h-2.9zM2105.2 560.2h2.9v2.8h-2.9zM2140.1 560.2h2.9v2.8h-2.9zM2067.4 565.9h2.9v2.8h-2.9zM1840.4 571.5h2.9v2.8h-2.9zM1895.7 577.2h2.9v2.8h-2.9zM2070.3 577.2h2.9v2.8h-2.9zM1788.0 580.1h2.9v2.8h-2.9zM1849.1 580.1h2.9v2.8h-2.9zM2137.2 585.7h2.9v2.8h-2.9zM2122.6 588.6h2.9v2.8h-2.9zM1828.7 591.4h2.9v2.8h-2.9zM2140.1 594.3h2.9v2.8h-2.9zM2151.8 594.3h2.9v2.8h-2.9zM1857.8 599.9h2.9v2.8h-2.9zM1793.8 611.3h2.9v2.8h-2.9zM1843.3 614.1h2.9v2.8h-2.9zM1852.0 625.5h2.9v2.8h-2.9zM1805.4 634.0h2.9v2.8h-2.9zM1790.9 636.9h2.9v2.8h-2.9zM1817.1 636.9h5.8v2.8h-5.8zM1814.2 639.7h2.9v2.8h-2.9zM1820.0 639.7h2.9v2.8h-2.9zM1790.9 642.5h2.9v2.8h-2.9zM1808.4 642.5h2.9v2.8h-2.9zM1822.9 642.5h2.9v2.8h-2.9zM1814.2 645.4h2.9v2.8h-2.9zM1837.5 645.4h5.8v2.8h-5.8zM1881.1 645.4h2.9v2.8h-2.9zM1814.2 648.2h2.9v2.8h-2.9zM1822.9 651.1h2.9v2.8h-2.9zM1779.2 653.9h2.9v2.8h-2.9zM1840.4 656.7h2.9v2.8h-2.9zM1863.6 659.6h2.9v2.8h-2.9zM1837.5 662.4h2.9v2.8h-2.9zM1866.6 662.4h2.9v2.8h-2.9zM1843.3 668.1h5.8v2.8h-5.8zM1854.9 668.1h2.9v2.8h-2.9zM1843.3 670.9h2.9v2.8h-2.9zM1866.6 679.4h2.9v2.8h-2.9zM1811.3 682.3h2.9v2.8h-2.9zM1843.3 682.3h2.9v2.8h-2.9zM1790.9 685.1h2.9v2.8h-2.9zM1802.5 685.1h2.9v2.8h-2.9zM1843.3 685.1h2.9v2.8h-2.9zM1773.4 688.0h2.9v2.8h-2.9zM1802.5 688.0h2.9v2.8h-2.9z"/>
<path fill="rgb(0,255,52)" d="M2099.4 455.1h2.9v2.8h-2.9zM1811.3 457.9h2.9v2.8h-2.9zM1793.8 460.8h2.9v2.8h-2.9zM1799.6 466.5h5.8v2.8h-5.8zM1843.3 469.3h2.9v2.8h-2.9zM1799.6 472.1h2.9v2.8h-2.9zM1793.8 475.0h2.9v2.8h-2.9zM1802.5 477.8h2.9v2.8h-2.9zM1860.7 480.7h2.9v2.8h-2.9zM1790.9 483.5h2.9v2.8h-2.9zM1811.3 483.5h2.9v2.8h-2.9zM1854.9 483.5h2.9v2.8h-2.9zM1802.5 492.0h2.9v2.8h-2.9zM1814.2 494.9h2.9v2.8h-2.9zM1782.2 497.7h2.9v2.8h-2.9zM1811.3 497.7h2.9v2.8h-2.9zM1825.8 497.7h2.9v2.8h-2.9zM1799.6 503.4h2.9v2.8h-2.9zM1828.7 514.7h2.9v2.8h-2.9zM1808.4 517.6h2.9v2.8h-2.9zM1814.2 517.6h2.9v2.8h-2.9zM1788.0 520.4h2.9v2.8h-2.9zM1808.4 523.3h2.9v2.8h-2.9zM1846.2 523.3h2.9v2.8h-2.9zM1805.4 528.9h2.9v2.8h-2.9zM1817.1 540.3h2.9v2.8h-2.9zM1822.9 540.3h2.9v2.8h-2.9zM1802.5 543.1h2.9v2.8h-2.9zM1785.1 546.0h2.9v2.8h-2.9zM1799.6 546.0h2.9v2.8h-2.9zM1825.8 546.0h2.9v2.8h-2.9zM1854.9 548.8h2.9v2.8h-2.9zM1790.9 557.3h2.9v2.8h-2.9zM1822.9 557.3h2.9v2.8h-2.9zM1799.6 571.5h2.9v2.8h-2.9zM1802.5 582.9h2.9v2.8h-2.9zM1805.4 625.5h2.9v2.8h-2.9zM1796.7 636.9h2.9v2.8h-2.9zM1808.4 636.9h2.9v2.8h-2.9zM1788.0 639.7h2.9v2.8h-2.9zM1793.8 639.7h2.9v2.8h-2.9zM1805.4 639.7h2.9v2.8h-2.9zM1817.1 639.7h2.9v2.8h-2.9zM1825.8 639.7h2.9v2.8h-2.9zM1805.4 642.5h2.9v2.8h-2.9zM1811.3 642.5h2.9v2.8h-2.9zM1831.6 642.5h2.9v2.8h-2.9zM1840.4 642.5h2.9v2.8h-2.9zM1782.2 645.4h2.9v2.8h-2.9zM1796.7 645.4h2.9v2.8h-2.9zM1834.5 645.4h2.9v2.8h-2.9zM1790.9 648.2h2.9v2.8h-2.9zM1825.8 648.2h2.9v2.8h-2.9zM1843.3 648.2h2.9v2.8h-2.9zM1852.0 651.1h2.9v2.8h-2.9zM1817.1 653.9h2.9v2.8h-2.9zM1825.8 653.9h2.9v2.8h-2.9zM1837.5 653.9h2.9v2.8h-2.9zM1843.3 653.9h2.9v2.8h-2.9zM1782.2 656.7h2.9v2.8h-2.9zM1849.1 656.7h2.9v2.8h-2.9zM1770.5 659.6h2.9v2.8h-2.9zM1785.1 659.6h2.9v2.8h-2.9zM1846.2 659.6h2.9v2.8h-2.9zM1846.2 665.2h2.9v2.8h-2.9zM1872.4 665.2h2.9v2.8h-2.9zM1767.6 670.9h2.9v2.8h-2.9zM1770.5 673.8h2.9v2.8h-2.9zM1875.3 673.8h2.9v2.8h-2.9zM1834.5 676.6h2.9v2.8h-2.9zM1854.9 676.6h2.9v2.8h-2.9zM1872.4 676.6h2.9v2.8h-2.9zM1837.5 679.4h2.9v2.8h-2.9zM1846.2 679.4h2.9v2.8h-2.9zM1764.7 682.3h2.9v2.8h-2.9zM1782.2 682.3h2.9v2.8h-2.9zM1814.2 682.3h2.9v2.8h-2.9zM1820.0 682.3h2.9v2.8h-2.9zM1846.2 682.3h2.9v2.8h-2.9zM1866.6 682.3h2.9v2.8h-2.9zM1770.5 685.1h2.9v2.8h-2.9zM1808.4 685.1h2.9v2.8h-2.9zM1834.5 685.1h2.9v2.8h-2.9zM1799.6 688.0h2.9v2.8h-2.9z"/>
<path fill="rgb(16,255,26)" d="M1793.8 449.4h2.9v2.8h-2.9zM1825.8 463.6h2.9v2.8h-2.9zM1854.9 469.3h2.9v2.8h-2.9zM1834.5 494.9h2.9v2.8h-2.9zM1808.4 500.5h2.9v2.8h-2.9zM1852.0 500.5h2.9v2.8h-2.9zM1828.7 503.4h2.9v2.8h-2.9zM2128.5 503.4h2.9v2.8h-2.9zM1843.3 506.2h2.9v2.8h-2.9zM1811.3 511.9h2.9v2.8h-2.9zM1907.3 517.6h2.9v2.8h-2.9zM1785.1 523.3h2.9v2.8h-2.9zM2143.0 523.3h2.9v2.8h-2.9zM1814.2 537.5h2.9v2.8h-2.9zM1785.1 543.1h2.9v2.8h-2.9zM1817.1 548.8h2.9v2.8h-2.9zM1785.1 557.3h2.9v2.8h-2.9zM1910.2 565.9h2.9v2.8h-2.9zM2122.6 574.4h2.9v2.8h-2.9zM1799.6 580.1h2.9v2.8h-2.9zM1802.5 634.0h2.9v2.8h-2.9zM1793.8 636.9h2.9v2.8h-2.9zM1802.5 636.9h2.9v2.8h-2.9zM1811.3 636.9h2.9v2.8h-2.9zM1799.6 639.7h2.9v2.8h-2.9zM1802.5 642.5h2.9v2.8h-2.9zM1820.0 642.5h2.9v2.8h-2.9zM1788.0 645.4h5.8v2.8h-5.8zM1788.0 648.2h2.9v2.8h-2.9zM1808.4 648.2h2.9v2.8h-2.9zM1820.0 648.2h2.9v2.8h-2.9zM1831.6 651.1h2.9v2.8h-2.9zM1828.7 653.9h2.9v2.8h-2.9zM1840.4 653.9h2.9v2.8h-2.9zM1852.0 653.9h2.9v2.8h-2.9zM1846.2 656.7h2.9v2.8h-2.9zM1776.3 659.6h8.7v2.8h-8.7zM1834.5 659.6h2.9v2.8h-2.9zM1840.4 659.6h2.9v2.8h-2.9zM1837.5 665.2h2.9v2.8h-2.9zM1849.1 665.2h2.9v2.8h-2.9zM1852.0 668.1h2.9v2.8h-2.9zM1872.4 668.1h2.9v2.8h-2.9zM1854.9 670.9h5.8v2.8h-5.8zM1863.6 670.9h2.9v2.8h-2.9zM1776.3 673.8h2.9v2.8h-2.9zM1843.3 673.8h2.9v2.8h-2.9zM1863.6 673.8h5.8v2.8h-5.8zM1852.0 676.6h2.9v2.8h-2.9zM1866.6 676.6h2.9v2.8h-2.9zM1776.3 679.4h2.9v2.8h-2.9zM1782.2 679.4h2.9v2.8h-2.9zM1840.4 679.4h2.9v2.8h-2.9zM1860.7 679.4h5.8v2.8h-5.8zM1773.4 682.3h2.9v2.8h-2.9zM1785.1 682.3h2.9v2.8h-2.9zM1831.6 682.3h2.9v2.8h-2.9zM1837.5 682.3h5.8v2.8h-5.8zM1860.7 682.3h2.9v2.8h-2.9zM1811.3 685.1h2.9v2.8h-2.9zM1828.7 685.1h2.9v2.8h-2.9zM1846.2 685.1h2.9v2.8h-2.9z"/>
<path fill="rgb(64,255,14)" d="M1779.2 494.9h2.9v2.8h-2.9zM1811.3 503.4h2.9v2.8h-2.9zM1811.3 506.2h2.9v2.8h-2.9zM1805.4 523.3h2.9v2.8h-2.9zM1802.5 526.1h2.9v2.8h-2.9zM1799.6 636.9h2.9v2.8h-2.9zM1799.6 642.5h2.9v2.8h-2.9zM1817.1 642.5h2.9v2.8h-2.9zM1793.8 645.4h2.9v2.8h-2.9zM1808.4 645.4h2.9v2.8h-2.9zM1822.9 648.2h2.9v2.8h-2.9zM1802.5 651.1h2.9v2.8h-2.9zM1811.3 651.1h2.9v2.8h-2.9zM1820.0 651.1h2.9v2.8h-2.9zM1834.5 651.1h2.9v2.8h-2.9zM1788.0 653.9h2.9v2.8h-2.9zM1834.5 653.9h2.9v2.8h-2.9zM1846.2 653.9h2.9v2.8h-2.9zM1854.9 656.7h2.9v2.8h-2.9zM1837.5 659.6h2.9v2.8h-2.9zM1860.7 659.6h2.9v2.8h-2.9zM1834.5 662.4h2.9v2.8h-2.9zM1852.0 662.4h2.9v2.8h-2.9zM1863.6 662.4h2.9v2.8h-2.9zM1776.3 665.2h2.9v2.8h-2.9zM1770.5 668.1h2.9v2.8h-2.9zM1849.1 668.1h2.9v2.8h-2.9zM1860.7 668.1h2.9v2.8h-2.9zM1869.5 668.1h2.9v2.8h-2.9zM1834.5 670.9h2.9v2.8h-2.9zM1840.4 670.9h2.9v2.8h-2.9zM1866.6 670.9h5.8v2.8h-5.8zM1846.2 673.8h5.8v2.8h-5.8zM1854.9 673.8h2.9v2.8h-2.9zM1840.4 676.6h2.9v2.8h-2.9zM1869.5 676.6h2.9v2.8h-2.9zM1802.5 679.4h2.9v2.8h-2.9zM1825.8 679.4h5.8v2.8h-5.8zM1849.1 682.3h2.9v2.8h-2.9zM1773.4 685.1h2.9v2.8h-2.9zM1822.9 685.1h5.8v2.8h-5.8zM1849.1 685.1h2.9v2.8h-2.9z"/>
<path fill="rgb(111,255,2)" d="M1817.1 571.5h2.9v2.8h-2.9zM1799.6 634.0h2.9v2.8h-2.9zM1814.2 634.0h2.9v2.8h-2.9zM1808.4 639.7h2.9v2.8h-2.9zM1796.7 642.5h2.9v2.8h-2.9zM1817.1 645.4h5.8v2.8h-5.8zM1785.1 648.2h2.9v2.8h-2.9zM1799.6 648.2h2.9v2.8h-2.9zM1811.3 648.2h2.9v2.8h-2.9zM1828.7 648.2h2.9v2.8h-2.9zM1782.2 651.1h2.9v2.8h-2.9zM1788.0 651.1h2.9v2.8h-2.9zM1793.8 651.1h2.9v2.8h-2.9zM1805.4 651.1h2.9v2.8h-2.9zM1814.2 651.1h2.9v2.8h-2.9zM1825.8 651.1h2.9v2.8h-2.9zM1840.4 651.1h2.9v2.8h-2.9zM1799.6 653.9h2.9v2.8h-2.9zM1820.0 653.9h2.9v2.8h-2.9zM1785.1 656.7h2.9v2.8h-2.9zM1828.7 656.7h2.9v2.8h-2.9zM1857.8 656.7h2.9v2.8h-2.9zM1793.8 659.6h2.9v2.8h-2.9zM1843.3 659.6h2.9v2.8h-2.9zM1857.8 659.6h2.9v2.8h-2.9zM1776.3 662.4h2.9v2.8h-2.9zM1846.2 662.4h2.9v2.8h-2.9zM1773.4 665.2h2.9v2.8h-2.9zM1834.5 665.2h2.9v2.8h-2.9zM1840.4 665.2h5.8v2.8h-5.8zM1857.8 668.1h2.9v2.8h-2.9zM1773.4 670.9h2.9v2.8h-2.9zM1846.2 670.9h5.8v2.8h-5.8zM1782.2 673.8h5.8v2.8h-5.8zM1790.9 673.8h2.9v2.8h-2.9zM1840.4 673.8h2.9v2.8h-2.9zM1852.0 673.8h2.9v2.8h-2.9zM1857.8 673.8h5.8v2.8h-5.8zM1782.2 676.6h2.9v2.8h-2.9zM1793.8 676.6h2.9v2.8h-2.9zM1843.3 676.6h2.9v2.8h-2.9zM1788.0 679.4h2.9v2.8h-2.9zM1793.8 679.4h5.8v2.8h-5.8zM1811.3 679.4h2.9v2.8h-2.9zM1820.0 679.4h5.8v2.8h-5.8zM1767.6 682.3h2.9v2.8h-2.9zM1817.1 682.3h2.9v2.8h-2.9zM1828.7 682.3h2.9v2.8h-2.9zM1860.7 685.1h2.9v2.8h-2.9z"/>
<path fill="rgb(173,255,0)" d="M1814.2 636.9h2.9v2.8h-2.9zM1796.7 639.7h2.9v2.8h-2.9zM1802.5 639.7h2.9v2.8h-2.9zM1814.2 642.5h2.9v2.8h-2.9zM1802.5 645.4h2.9v2.8h-2.9zM1796.7 648.2h2.9v2.8h-2.9zM1802.5 648.2h2.9v2.8h-2.9zM1831.6 648.2h2.9v2.8h-2.9zM1817.1 651.1h2.9v2.8h-2.9zM1785.1 653.9h2.9v2.8h-2.9zM1790.9 653.9h2.9v2.8h-2.9zM1805.4 653.9h2.9v2.8h-2.9zM1857.8 653.9h2.9v2.8h-2.9zM1788.0 656.7h2.9v2.8h-2.9zM1793.8 656.7h2.9v2.8h-2.9zM1820.0 656.7h5.8v2.8h-5.8zM1834.5 656.7h5.8v2.8h-5.8zM1852.0 656.7h2.9v2.8h-2.9zM1820.0 659.6h2.9v2.8h-2.9zM1828.7 659.6h5.8v2.8h-5.8zM1854.9 659.6h2.9v2.8h-2.9zM1820.0 662.4h2.9v2.8h-2.9zM1825.8 662.4h2.9v2.8h-2.9zM1840.4 662.4h5.8v2.8h-5.8zM1854.9 662.4h5.8v2.8h-5.8zM1831.6 665.2h2.9v2.8h-2.9zM1852.0 665.2h5.8v2.8h-5.8zM1773.4 668.1h2.9v2.8h-2.9zM1834.5 668.1h2.9v2.8h-2.9zM1863.6 668.1h5.8v2.8h-5.8zM1776.3 670.9h2.9v2.8h-2.9zM1837.5 670.9h2.9v2.8h-2.9zM1825.8 673.8h2.9v2.8h-2.9zM1779.2 676.6h2.9v2.8h-2.9zM1785.1 676.6h5.8v2.8h-5.8zM1805.4 676.6h2.9v2.8h-2.9zM1811.3 676.6h2.9v2.8h-2.9zM1825.8 676.6h8.7v2.8h-8.7zM1779.2 679.4h2.9v2.8h-2.9zM1785.1 679.4h2.9v2.8h-2.9zM1808.4 679.4h2.9v2.8h-2.9zM1834.5 679.4h2.9v2.8h-2.9zM1770.5 682.3h2.9v2.8h-2.9zM1788.0 682.3h11.6v2.8h-11.6zM1802.5 682.3h2.9v2.8h-2.9zM1822.9 682.3h2.9v2.8h-2.9z"/>
<path fill="rgb(239,255,0)" d="M1811.3 639.7h2.9v2.8h-2.9zM1805.4 645.4h2.9v2.8h-2.9zM1793.8 648.2h2.9v2.8h-2.9zM1817.1 648.2h2.9v2.8h-2.9zM1796.7 651.1h5.8v2.8h-5.8zM1828.7 651.1h2.9v2.8h-2.9zM1793.8 653.9h2.9v2.8h-2.9zM1814.2 653.9h2.9v2.8h-2.9zM1790.9 656.7h2.9v2.8h-2.9zM1805.4 656.7h2.9v2.8h-2.9zM1817.1 656.7h2.9v2.8h-2.9zM1831.6 656.7h2.9v2.8h-2.9zM1843.3 656.7h2.9v2.8h-2.9zM1799.6 659.6h2.9v2.8h-2.9zM1808.4 659.6h2.9v2.8h-2.9zM1831.6 662.4h2.9v2.8h-2.9zM1860.7 662.4h2.9v2.8h-2.9zM1788.0 665.2h2.9v2.8h-2.9zM1860.7 665.2h2.9v2.8h-2.9zM1817.1 668.1h2.9v2.8h-2.9zM1828.7 668.1h2.9v2.8h-2.9zM1837.5 668.1h5.8v2.8h-5.8zM1825.8 670.9h2.9v2.8h-2.9zM1860.7 670.9h2.9v2.8h-2.9zM1779.2 673.8h2.9v2.8h-2.9zM1831.6 673.8h2.9v2.8h-2.9zM1790.9 676.6h2.9v2.8h-2.9zM1846.2 676.6h5.8v2.8h-5.8zM1817.1 679.4h2.9v2.8h-2.9zM1779.2 682.3h2.9v2.8h-2.9zM1799.6 682.3h2.9v2.8h-2.9zM1796.7 685.1h2.9v2.8h-2.9z"/>
<path fill="rgb(255,218,0)" d="M1805.4 648.2h2.9v2.8h-2.9zM1796.7 653.9h2.9v2.8h-2.9zM1802.5 653.9h2.9v2.8h-2.9zM1811.3 653.9h2.9v2.8h-2.9zM1822.9 653.9h2.9v2.8h-2.9zM1831.6 653.9h2.9v2.8h-2.9zM1814.2 656.7h2.9v2.8h-2.9zM1788.0 659.6h5.8v2.8h-5.8zM1796.7 659.6h2.9v2.8h-2.9zM1814.2 659.6h5.8v2.8h-5.8zM1825.8 659.6h2.9v2.8h-2.9zM1779.2 662.4h2.9v2.8h-2.9zM1822.9 662.4h2.9v2.8h-2.9zM1828.7 662.4h2.9v2.8h-2.9zM1782.2 665.2h2.9v2.8h-2.9zM1817.1 665.2h2.9v2.8h-2.9zM1822.9 665.2h2.9v2.8h-2.9zM1828.7 665.2h2.9v2.8h-2.9zM1857.8 665.2h2.9v2.8h-2.9zM1782.2 668.1h2.9v2.8h-2.9zM1820.0 668.1h2.9v2.8h-2.9zM1779.2 670.9h2.9v2.8h-2.9zM1805.4 670.9h2.9v2.8h-2.9zM1822.9 670.9h2.9v2.8h-2.9zM1828.7 670.9h5.8v2.8h-5.8zM1852.0 670.9h2.9v2.8h-2.9zM1788.0 673.8h2.9v2.8h-2.9zM1834.5 673.8h2.9v2.8h-2.9zM1802.5 676.6h2.9v2.8h-2.9zM1814.2 676.6h2.9v2.8h-2.9zM1822.9 676.6h2.9v2.8h-2.9zM1790.9 679.4h2.9v2.8h-2.9zM1799.6 679.4h2.9v2.8h-2.9zM1805.4 679.4h2.9v2.8h-2.9zM1808.4 682.3h2.9v2.8h-2.9z"/>
<path fill="rgb(255,170,0)" d="M1802.5 656.7h2.9v2.8h-2.9zM1808.4 656.7h2.9v2.8h-2.9zM1825.8 656.7h2.9v2.8h-2.9zM1802.5 659.6h2.9v2.8h-2.9zM1811.3 659.6h2.9v2.8h-2.9zM1822.9 659.6h2.9v2.8h-2.9zM1785.1 662.4h2.9v2.8h-2.9zM1790.9 662.4h2.9v2.8h-2.9zM1814.2 662.4h5.8v2.8h-5.8zM1779.2 665.2h2.9v2.8h-2.9zM1785.1 665.2h2.9v2.8h-2.9zM1811.3 665.2h2.9v2.8h-2.9zM1825.8 665.2h2.9v2.8h-2.9zM1831.6 668.1h2.9v2.8h-2.9zM1782.2 670.9h5.8v2.8h-5.8zM1793.8 670.9h2.9v2.8h-2.9zM1793.8 673.8h2.9v2.8h-2.9zM1805.4 673.8h5.8v2.8h-5.8zM1814.2 673.8h2.9v2.8h-2.9zM1820.0 673.8h5.8v2.8h-5.8zM1808.4 676.6h2.9v2.8h-2.9zM1817.1 676.6h2.9v2.8h-2.9zM1814.2 679.4h2.9v2.8h-2.9zM1799.6 685.1h2.9v2.8h-2.9z"/>
<path fill="rgb(255,118,0)" d="M1808.4 653.9h2.9v2.8h-2.9zM1811.3 656.7h2.9v2.8h-2.9zM1782.2 662.4h2.9v2.8h-2.9zM1788.0 662.4h2.9v2.8h-2.9zM1799.6 662.4h2.9v2.8h-2.9zM1814.2 665.2h2.9v2.8h-2.9zM1776.3 668.1h5.8v2.8h-5.8zM1785.1 668.1h5.8v2.8h-5.8zM1805.4 668.1h2.9v2.8h-2.9zM1822.9 668.1h2.9v2.8h-2.9zM1790.9 670.9h2.9v2.8h-2.9zM1808.4 670.9h2.9v2.8h-2.9zM1817.1 670.9h5.8v2.8h-5.8zM1796.7 673.8h2.9v2.8h-2.9zM1802.5 673.8h2.9v2.8h-2.9zM1811.3 673.8h2.9v2.8h-2.9zM1828.7 673.8h2.9v2.8h-2.9zM1837.5 673.8h2.9v2.8h-2.9zM1796.7 676.6h2.9v2.8h-2.9zM1820.0 676.6h2.9v2.8h-2.9zM1805.4 682.3h2.9v2.8h-2.9z"/>
<path fill="rgb(255,59,0)" d="M1796.7 656.7h5.8v2.8h-5.8zM1805.4 659.6h2.9v2.8h-2.9zM1802.5 662.4h8.7v2.8h-8.7zM1793.8 665.2h2.9v2.8h-2.9zM1802.5 665.2h2.9v2.8h-2.9zM1820.0 665.2h2.9v2.8h-2.9zM1790.9 668.1h2.9v2.8h-2.9zM1796.7 668.1h2.9v2.8h-2.9zM1825.8 668.1h2.9v2.8h-2.9zM1788.0 670.9h2.9v2.8h-2.9zM1796.7 670.9h2.9v2.8h-2.9zM1802.5 670.9h2.9v2.8h-2.9zM1799.6 673.8h2.9v2.8h-2.9zM1799.6 676.6h2.9v2.8h-2.9z"/>
<path fill="rgb(255,0,0)" d="M1793.8 662.4h5.8v2.8h-5.8zM1811.3 662.4h2.9v2.8h-2.9zM1790.9 665.2h2.9v2.8h-2.9zM1796.7 665.2h5.8v2.8h-5.8zM1805.4 665.2h5.8v2.8h-5.8zM1793.8 668.1h2.9v2.8h-2.9zM1799.6 668.1h5.8v2.8h-5.8zM1808.4 668.1h8.7v2.8h-8.7zM1799.6 670.9h2.9v2.8h-2.9zM1811.3 670.9h5.8v2.8h-5.8zM1817.1 673.8h2.9v2.8h-2.9z"/>
</g>
<g fill="none" stroke="#000">
<rect x="101" y="120" width="746" height="727" stroke-width="3"/>
<rect x="847" y="120" width="742" height="727" stroke-width="3"/>
<rect x="1593" y="120" width="745" height="727" stroke-width="3"/>
</g>
<rect x="444.2" y="120" width="5" height="727"/>
<rect x="101" y="601.8" width="746" height="5"/>
<rect x="1190.2" y="120" width="5" height="727"/>
<rect x="847" y="601.8" width="742" height="5"/>
<rect x="1940.5" y="120" width="5" height="727"/>
<rect x="1593" y="601.8" width="745" height="5"/>
<text x="0" y="0" transform="translate(113.9 173.2) scale(0.89 1.07)" font-size="36" font-weight="bold">Q1</text>
<text x="0" y="0" transform="translate(113.9 812.6) scale(0.89 1.07)" font-size="36" font-weight="bold">Q4</text>
<text x="0" y="0" transform="translate(807.6 173.2) scale(0.89 1.07)" font-size="36" font-weight="bold" text-anchor="end">Q2</text>
<text x="0" y="0" transform="translate(807.6 812.6) scale(0.89 1.07)" font-size="36" font-weight="bold" text-anchor="end">Q3</text>
<text x="0" y="0" transform="translate(854.9 173.2) scale(0.89 1.07)" font-size="36" font-weight="bold">Q1</text>
<text x="0" y="0" transform="translate(854.9 812.6) scale(0.89 1.07)" font-size="36" font-weight="bold">Q4</text>
<text x="0" y="0" transform="translate(1547.9 173.2) scale(0.89 1.07)" font-size="36" font-weight="bold" text-anchor="end">Q2</text>
<text x="0" y="0" transform="translate(1547.9 812.6) scale(0.89 1.07)" font-size="36" font-weight="bold" text-anchor="end">Q3</text>
<text x="0" y="0" transform="translate(39 93.4) scale(1.06 1.04)" font-size="107" font-weight="bold">A</text>
<text x="0" y="0" transform="translate(157.5 108) scale(1 1.04)" font-size="91.6">CD8α/CD8β iso</text>
<text x="0" y="0" transform="translate(993 108) scale(1 1.04)" font-size="92">CD8β iso</text>
<text x="0" y="0" transform="translate(1727 108) scale(1 1.04)" font-size="92">Sample</text>
<text x="0" y="0" transform="translate(1630.5 233.2) scale(1 1.05)" font-size="91.2" font-weight="bold" fill="#ff0012">CD8αα</text>
<text x="0" y="0" transform="translate(2024 237.6) scale(1 1.05)" font-size="91.3" font-weight="bold">CD8αβ</text>
<text x="0" y="0" transform="translate(1627.5 824) scale(1 1.04)" font-size="92" font-weight="bold" fill="#1033ff">DN</text>
<text x="0" y="0" transform="translate(84.8 622.5) rotate(-90) scale(1 1.06)" font-size="91.5">CD8α</text>
<text x="0" y="0" transform="translate(315 939) scale(1 1.04)" font-size="92">CD8β</text>
<rect x="568" y="901.6" width="1537" height="12"/>
<path d="M2099.3 884.8 L2144.7 907.4 L2099.3 930z"/>
<text x="0" y="0" transform="translate(52 1162.8) scale(1 1.04)" font-size="107" font-weight="bold">B</text>
<rect x="464.4" y="1091.3" width="10.6" height="1112"/>
<rect x="423" y="2193.3" width="1699" height="10.6"/>
<rect x="423" y="2192.7" width="46.7" height="10.6"/>
<text x="0" y="0" transform="translate(416.5 2227.0) scale(1 1.02)" font-size="85" font-weight="bold" text-anchor="end">0</text>
<rect x="423" y="1972.42" width="46.7" height="10.6"/>
<text x="0" y="0" transform="translate(416.5 2006.72) scale(1 1.02)" font-size="85" font-weight="bold" text-anchor="end">20</text>
<rect x="423" y="1752.14" width="46.7" height="10.6"/>
<text x="0" y="0" transform="translate(416.5 1786.44) scale(1 1.02)" font-size="85" font-weight="bold" text-anchor="end">40</text>
<rect x="423" y="1531.86" width="46.7" height="10.6"/>
<text x="0" y="0" transform="translate(416.5 1566.1599999999999) scale(1 1.02)" font-size="85" font-weight="bold" text-anchor="end">60</text>
<rect x="423" y="1311.58" width="46.7" height="10.6"/>
<text x="0" y="0" transform="translate(416.5 1345.88) scale(1 1.02)" font-size="85" font-weight="bold" text-anchor="end">80</text>
<rect x="423" y="1091.3" width="46.7" height="10.6"/>
<text x="0" y="0" transform="translate(416.5 1125.6) scale(1 1.02)" font-size="85" font-weight="bold" text-anchor="end">100</text>
<rect x="581.4" y="2198" width="10.6" height="26"/>
<rect x="757.6" y="2198" width="10.6" height="26"/>
<rect x="933.8" y="2198" width="10.6" height="26"/>
<rect x="1110" y="2198" width="10.6" height="26"/>
<rect x="1286.2" y="2198" width="10.6" height="26"/>
<rect x="1462.4" y="2198" width="10.6" height="26"/>
<rect x="1638.6" y="2198" width="10.6" height="26"/>
<rect x="1814.8" y="2198" width="10.6" height="26"/>
<rect x="1991" y="2198" width="10.6" height="26"/>
<text x="0" y="0" transform="translate(263.5 1922.5) rotate(-90) scale(1 1.07)" font-size="92" font-weight="bold">% in γδ-IELs</text>
<rect x="527.5" y="1511.5" width="118.5" height="11"/>
<rect x="564.5" y="1344" width="44" height="44" fill="#1033ff"/>
<rect x="564.5" y="1402" width="44" height="44" fill="#1033ff"/>
<rect x="564.5" y="1481" width="44" height="44" fill="#1033ff"/>
<rect x="527.5" y="1628.4" width="44" height="44" fill="#1033ff"/>
<rect x="601.5" y="1619.7" width="44" height="44" fill="#1033ff"/>
<rect x="584.2" y="1459.7" width="5" height="114.1" fill="#1033ff"/>
<rect x="554.7" y="1457.2" width="64.3" height="5" fill="#1033ff"/>
<rect x="554.7" y="1571.3" width="64.3" height="5" fill="#1033ff"/>
<rect x="1056.5" y="1415.5" width="118.2" height="11"/>
<rect x="1093.5" y="1244.5" width="44" height="44" fill="#1033ff"/>
<rect x="1093.5" y="1315.8" width="44" height="44" fill="#1033ff"/>
<rect x="1093.5" y="1404" width="44" height="44" fill="#1033ff"/>
<rect x="1093.5" y="1475" width="44" height="44" fill="#1033ff"/>
<rect x="1093.5" y="1557" width="44" height="44" fill="#1033ff"/>
<rect x="1050" y="1422" width="53.8" height="166" fill="#fff"/>
<rect x="1113.3" y="1366" width="5" height="110.7" fill="#1033ff"/>
<rect x="1084" y="1363.5" width="63" height="5" fill="#1033ff"/>
<rect x="1084" y="1474.2" width="63" height="5" fill="#1033ff"/>
<rect x="1084" y="1470" width="19.8" height="12" fill="#fff"/>
<rect x="1103.8" y="1475" width="34" height="42.8" fill="#1033ff"/>
<rect x="1585.6" y="1258" width="44" height="44" fill="#1033ff"/>
<rect x="1659" y="1277.4" width="44" height="44" fill="#1033ff"/>
<rect x="1659" y="1405.8" width="44" height="44" fill="#1033ff"/>
<rect x="1622.6" y="1551.4" width="44" height="44" fill="#1033ff"/>
<rect x="1616.4" y="1387" width="13.1" height="44.5" fill="#1033ff"/>
<rect x="1629.5" y="1391.9" width="73.5" height="11"/>
<rect x="1642" y="1345" width="5" height="105.3" fill="#1033ff"/>
<rect x="1616.4" y="1342.5" width="59.3" height="5" fill="#1033ff"/>
<rect x="1616.4" y="1447.8" width="59.3" height="5" fill="#1033ff"/>
<rect x="703.7" y="2049.8" width="118.4" height="11"/>
<circle cx="762.7" cy="1934" r="21.8" fill="#ff2616"/>
<circle cx="726.5" cy="2043.8" r="21.8" fill="#ff2616"/>
<circle cx="799.7" cy="2041.8" r="21.8" fill="#ff2616"/>
<circle cx="726.5" cy="2133" r="21.8" fill="#ff2616"/>
<circle cx="799.7" cy="2124.6" r="21.8" fill="#ff2616"/>
<rect x="760.4" y="2019.5" width="5" height="72.5" fill="#ff2616"/>
<rect x="730.9" y="2017" width="64" height="5" fill="#ff2616"/>
<rect x="730.9" y="2089.5" width="64" height="5" fill="#ff2616"/>
<rect x="880.3" y="1967.8" width="118.4" height="11"/>
<rect x="937" y="1928" width="5" height="89.6"/>
<rect x="907.5" y="1925.5" width="64" height="5"/>
<rect x="907.5" y="2015.1" width="64" height="5"/>
<circle cx="939" cy="1840" r="21.8"/>
<circle cx="975.7" cy="1927.5" r="21.8"/>
<circle cx="902.5" cy="1958" r="21.8"/>
<circle cx="975.7" cy="2057" r="21.8"/>
<circle cx="902.5" cy="2081.5" r="21.8"/>
<rect x="1232.6" y="2124.1" width="118.4" height="11"/>
<circle cx="1254.8" cy="2074.6" r="21.8" fill="#ff2616"/>
<circle cx="1328.3" cy="2103.5" r="21.8" fill="#ff2616"/>
<circle cx="1291.8" cy="2142" r="21.8" fill="#ff2616"/>
<circle cx="1254.8" cy="2166.2" r="21.8" fill="#ff2616"/>
<circle cx="1328.3" cy="2158" r="21.8" fill="#ff2616"/>
<rect x="1289.3" y="2111" width="5" height="37" fill="#ff2616"/>
<rect x="1259.8" y="2108.5" width="64" height="5" fill="#ff2616"/>
<rect x="1259.8" y="2145.5" width="64" height="5" fill="#ff2616"/>
<rect x="1408.8" y="1987.5" width="118.4" height="11"/>
<rect x="1465.5" y="1955" width="5" height="76.4"/>
<rect x="1436" y="1952.5" width="64" height="5"/>
<rect x="1436" y="2028.9" width="64" height="5"/>
<circle cx="1468" cy="1892.4" r="21.8"/>
<circle cx="1504.7" cy="1937" r="21.8"/>
<circle cx="1431" cy="1975.6" r="21.8"/>
<circle cx="1504.7" cy="2075.3" r="21.8"/>
<circle cx="1431" cy="2085.3" r="21.8"/>
<rect x="1761.4" y="2149.9" width="118.4" height="11"/>
<circle cx="1802.2" cy="2127.7" r="21.8" fill="#ff2616"/>
<circle cx="1838.7" cy="2147.7" r="21.8" fill="#ff2616"/>
<circle cx="1820.6" cy="2165" r="21.8" fill="#ff2616"/>
<circle cx="1783.7" cy="2171.5" r="21.8" fill="#ff2616"/>
<circle cx="1858" cy="2171.5" r="21.8" fill="#ff2616"/>
<rect x="1818.1" y="2150" width="5" height="10" fill="#ff2616"/>
<rect x="1810.6" y="2147.5" width="20" height="5" fill="#ff2616"/>
<rect x="1810.6" y="2157.5" width="20" height="5" fill="#ff2616"/>
<rect x="1937.8" y="2029.5" width="118.4" height="11"/>
<rect x="1994.5" y="2001.8" width="5" height="65.8"/>
<rect x="1965" y="1999.3" width="64" height="5"/>
<rect x="1965" y="2065.1" width="64" height="5"/>
<circle cx="1978.5" cy="1954" r="21.8"/>
<circle cx="2015" cy="1954" r="21.8"/>
<circle cx="1996.6" cy="2073.4" r="21.8"/>
<circle cx="1960" cy="2100.8" r="21.8"/>
<circle cx="2034" cy="2089.2" r="21.8"/>
<rect x="594" y="1295.3" width="352" height="8"/>
<rect x="759" y="1299.3" width="8" height="417.7"/>
<rect x="938" y="1299.3" width="8" height="121.7"/>
<rect x="938" y="1588" width="8" height="129"/>
<path d="M740.5 1716L785.5 1716L763 1761z"/>
<path d="M919.5 1716L964.5 1716L942 1761z"/>
<rect x="1122.6" y="1196" width="351.9" height="8"/>
<rect x="1287.8" y="1200" width="8" height="121"/>
<rect x="1288.55" y="1321" width="3.5" height="167.7"/>
<rect x="1287.8" y="1488.7" width="8" height="128.9"/>
<rect x="1466.5" y="1200" width="8" height="121.6"/>
<rect x="1466.5" y="1488.7" width="8" height="128.9"/>
<path d="M1269.3 1616.6L1314.3 1616.6L1291.8 1661.6z"/>
<path d="M1448 1616.6L1493 1616.6L1470.5 1661.6z"/>
<rect x="1637" y="1227.5" width="352.6" height="8"/>
<rect x="1802.8" y="1231.5" width="8" height="418.5"/>
<rect x="1981.6" y="1231.5" width="8" height="125.3"/>
<rect x="1981.6" y="1524.7" width="8" height="125.3"/>
<path d="M1784.3 1649L1829.3 1649L1806.8 1694z"/>
<path d="M1963.1 1649L2008.1 1649L1985.6 1694z"/>
<text x="685.8000000000001" y="1296.6" font-size="74" font-weight="bold" letter-spacing="11.4" stroke="#000" stroke-width="1.8" stroke-linejoin="round" font-family="'DejaVu Sans Condensed', 'DejaVu Sans', sans-serif">****</text>
<text x="848.1" y="1524.8" font-size="74" font-weight="bold" letter-spacing="11.4" stroke="#000" stroke-width="1.8" stroke-linejoin="round" font-family="'DejaVu Sans Condensed', 'DejaVu Sans', sans-serif">****</text>
<text x="1213.6" y="1198.6" font-size="74" font-weight="bold" letter-spacing="11.4" stroke="#000" stroke-width="1.8" stroke-linejoin="round" font-family="'DejaVu Sans Condensed', 'DejaVu Sans', sans-serif">****</text>
<text x="1366.6" y="1426.3" font-size="74" font-weight="bold" letter-spacing="11.4" stroke="#000" stroke-width="1.8" stroke-linejoin="round" font-family="'DejaVu Sans Condensed', 'DejaVu Sans', sans-serif">****</text>
<text x="1729.1" y="1230.5" font-size="74" font-weight="bold" letter-spacing="11.4" stroke="#000" stroke-width="1.8" stroke-linejoin="round" font-family="'DejaVu Sans Condensed', 'DejaVu Sans', sans-serif">****</text>
<text x="1903.6" y="1461.6" font-size="74" font-weight="bold" letter-spacing="11.4" stroke="#000" stroke-width="1.8" stroke-linejoin="round" font-family="'DejaVu Sans Condensed', 'DejaVu Sans', sans-serif">****</text>
<text x="0" y="0" transform="translate(604.7 2282.5) rotate(-45) scale(1 1.04)" font-size="91" font-weight="bold" text-anchor="end" fill="#1033ff">DN</text>
<text x="0" y="0" transform="translate(794.4000000000001 2281.8) rotate(-45) scale(1 1.04)" font-size="91" font-weight="bold" text-anchor="end" fill="#ff0012">CD8αα</text>
<text x="0" y="0" transform="translate(984.1 2289.5) rotate(-45) scale(1 1.04)" font-size="91" font-weight="bold" text-anchor="end">CD8αβ</text>
<text x="0" y="0" transform="translate(1147.3 2282.5) rotate(-45) scale(1 1.04)" font-size="91" font-weight="bold" text-anchor="end" fill="#1033ff">DN</text>
<text x="0" y="0" transform="translate(1337.0 2281.8) rotate(-45) scale(1 1.04)" font-size="91" font-weight="bold" text-anchor="end" fill="#ff0012">CD8αα</text>
<text x="0" y="0" transform="translate(1526.7 2289.5) rotate(-45) scale(1 1.04)" font-size="91" font-weight="bold" text-anchor="end">CD8αβ</text>
<text x="0" y="0" transform="translate(1689.8999999999999 2282.5) rotate(-45) scale(1 1.04)" font-size="91" font-weight="bold" text-anchor="end" fill="#1033ff">DN</text>
<text x="0" y="0" transform="translate(1879.6 2281.8) rotate(-45) scale(1 1.04)" font-size="91" font-weight="bold" text-anchor="end" fill="#ff0012">CD8αα</text>
<text x="0" y="0" transform="translate(2069.3 2289.5) rotate(-45) scale(1 1.04)" font-size="91" font-weight="bold" text-anchor="end">CD8αβ</text>
<rect x="492.4" y="2532.5" width="450.6" height="9"/>
<text x="0" y="0" transform="translate(653 2632.5) scale(1 1.06)" font-size="92.5" font-weight="bold" text-anchor="middle">JJM</text>
<rect x="1024" y="2532.5" width="450" height="9"/>
<text x="0" y="0" transform="translate(1251 2632.5) scale(1 1.06)" font-size="92.5" font-weight="bold" text-anchor="middle">PBMC</text>
<rect x="1555.3" y="2532.5" width="449.2" height="9"/>
<text x="0" y="0" transform="translate(1766 2632.5) scale(1 1.06)" font-size="92.5" font-weight="bold" text-anchor="middle">IGLN</text>
</svg>
</body></html>
